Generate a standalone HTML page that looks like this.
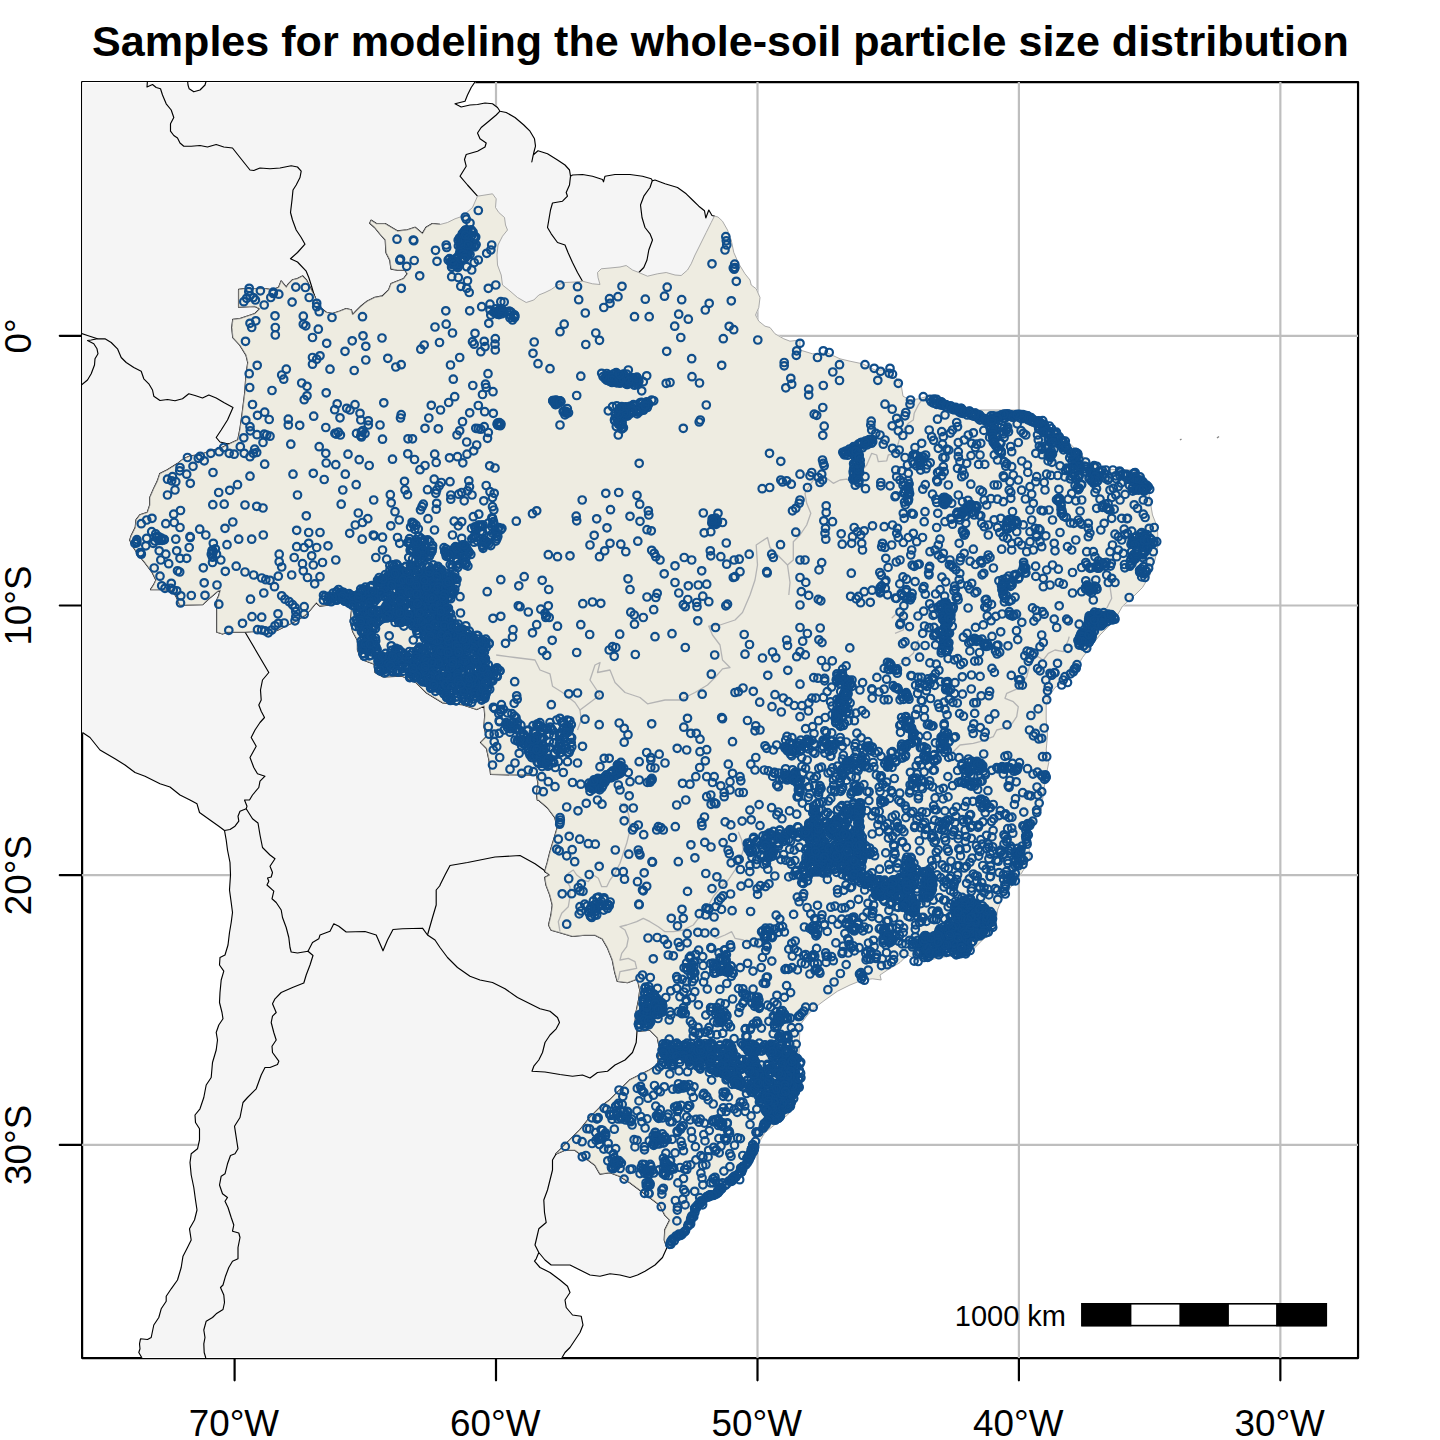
<!DOCTYPE html>
<html><head><meta charset="utf-8">
<style>
html,body{margin:0;padding:0;background:#fff;}
body{width:1440px;height:1440px;overflow:hidden;font-family:"Liberation Sans",sans-serif;}
svg{display:block;}
text{font-family:"Liberation Sans",sans-serif;fill:#000;}
</style></head><body>
<svg width="1440" height="1440" viewBox="0 0 1440 1440">
<rect width="1440" height="1440" fill="#fff"/>
<defs><clipPath id="fr"><rect x="82.1" y="82.1" width="1275.95" height="1275.95"/></clipPath></defs>
<!-- frame + ticks first (land is painted over its inner half) -->
<rect x="82.1" y="82.1" width="1275.95" height="1275.95" fill="none" stroke="#000" stroke-width="2.2" stroke-linejoin="round"/>
<g stroke="#000" stroke-width="2.2" fill="none" stroke-linecap="round"><path d="M234.6 1358.05V1380.3M496.0 1358.05V1380.3M757.5 1358.05V1380.3M1018.9 1358.05V1380.3M1280.35 1358.05V1380.3"/><path d="M82.1 335.8H59.8M82.1 605.5H59.8M82.1 875.2H59.8M82.1 1144.9H59.8"/></g>
<g clip-path="url(#fr)">
<g stroke="#bebebe" stroke-width="2.2" fill="none"><path d="M234.6 82.1V1358.05M496.0 82.1V1358.05M757.5 82.1V1358.05M1018.9 82.1V1358.05M1280.35 82.1V1358.05"/><path d="M82.1 335.8H1358.05M82.1 605.5H1358.05M82.1 875.2H1358.05M82.1 1144.9H1358.05"/></g>
</g>
<path d="M475.0,82.7 471.2,87.5 467.5,95.0 465.0,101.2 455.0,103.8 461.2,107.0 470.0,105.0 477.5,104.5 485.0,103.0 492.5,103.8 497.5,107.5 500.0,111.2 506.2,112.5 515.0,117.5 523.8,125.0 530.0,131.2 534.5,138.8 535.5,146.2 533.8,152.5 531.8,162.0 533.2,155.0 538.0,150.8 547.5,153.8 557.5,160.0 565.0,165.0 569.5,170.0 570.5,176.2 572.5,175.0 582.5,174.5 592.5,176.2 602.5,179.5 603.5,181.8 605.0,176.2 615.0,174.5 630.0,174.5 642.5,176.2 651.2,178.8 652.5,180.8 655.0,180.0 665.0,183.8 677.5,187.5 686.2,193.8 692.5,200.0 698.8,206.2 704.5,210.8 705.8,218.0 708.8,210.0 712.0,215.5 715.0,216.2 718.0,217.0 722.5,221.2 727.5,230.0 731.2,240.0 733.8,252.5 738.8,263.8 745.0,273.8 750.0,280.0 751.2,285.0 756.2,288.8 760.0,297.5 758.8,307.5 755.5,315.0 758.8,321.2 765.0,326.2 770.0,327.5 775.0,333.8 783.8,338.8 790.0,341.2 800.0,340.0 800.0,350.0 812.5,353.8 827.5,353.0 840.0,358.8 850.0,361.2 862.5,363.8 875.0,370.0 885.0,370.0 896.2,377.5 901.2,385.0 903.0,396.2 910.0,400.0 918.8,398.8 927.5,396.2 937.5,400.0 950.0,405.0 965.0,407.5 980.0,410.0 1000.0,410.0 1015.0,410.0 1025.0,412.5 1037.5,418.8 1050.0,427.5 1062.5,436.2 1072.5,446.2 1082.5,456.2 1092.5,463.8 1105.0,468.8 1120.0,470.0 1132.5,470.0 1142.5,475.0 1147.5,485.0 1150.0,500.0 1152.5,515.0 1157.5,527.5 1158.0,545.0 1155.0,560.0 1150.0,575.0 1142.5,587.5 1132.5,597.5 1122.5,606.2 1117.5,615.0 1110.0,625.0 1100.0,635.0 1090.0,647.5 1082.5,657.5 1075.0,670.0 1065.0,681.2 1055.0,687.5 1050.0,695.0 1046.2,705.0 1046.2,720.0 1047.5,735.0 1046.2,750.0 1048.8,762.5 1046.2,775.0 1043.8,790.0 1042.5,800.0 1041.2,810.0 1035.0,820.0 1030.0,830.0 1028.8,845.0 1030.0,857.5 1025.0,867.5 1018.8,877.5 1012.5,885.0 1002.5,897.5 997.5,910.0 996.2,922.5 992.5,932.5 982.5,940.0 972.5,950.0 962.5,957.5 950.0,956.2 940.0,957.5 930.0,960.0 917.5,960.0 907.5,955.0 900.0,962.5 887.5,970.0 880.0,975.0 881.2,980.0 872.5,978.8 862.5,980.0 850.0,985.0 837.5,991.2 825.0,1000.0 815.0,1007.5 807.5,1015.0 800.0,1025.0 797.5,1095.0 795.0,1105.0 787.5,1115.0 777.5,1122.5 765.0,1132.5 757.5,1145.0 752.5,1157.5 745.0,1170.0 735.0,1182.5 722.5,1192.5 710.0,1200.0 700.0,1205.0 697.5,1215.0 692.5,1227.5 682.5,1237.5 672.5,1246.2 667.0,1247.5 662.5,1257.5 655.0,1265.0 645.0,1271.2 637.5,1275.0 630.0,1277.5 620.0,1275.0 610.0,1273.8 600.0,1276.2 590.0,1275.0 580.0,1270.0 570.0,1265.0 560.0,1265.0 551.2,1265.0 545.0,1260.0 538.8,1252.5 536.2,1258.8 534.5,1261.2 540.0,1267.5 550.0,1272.5 560.0,1280.0 567.5,1286.2 570.0,1292.5 565.0,1300.0 566.2,1307.5 572.5,1315.0 581.2,1316.2 583.0,1325.0 580.0,1332.5 575.0,1340.0 570.0,1347.5 565.0,1352.5 561.8,1357.5 142.0,1357.5 138.8,1352.5 140.0,1348.8 139.5,1343.8 140.5,1338.8 147.5,1339.5 151.2,1337.5 153.8,1325.0 158.8,1317.5 161.2,1308.8 166.2,1301.2 166.2,1296.2 171.2,1288.8 177.5,1280.0 181.2,1267.5 183.0,1256.2 187.5,1247.5 191.2,1240.0 189.5,1228.8 194.5,1220.0 197.0,1210.0 195.5,1200.0 193.8,1187.5 191.2,1175.0 190.0,1162.5 191.2,1153.8 197.5,1148.8 199.5,1140.0 199.5,1128.8 195.5,1122.5 195.0,1115.0 200.0,1108.8 203.8,1097.5 206.2,1085.0 211.2,1077.5 212.5,1062.5 216.2,1050.0 217.5,1040.0 217.5,1040.0 216.2,1032.5 218.8,1025.0 223.0,1018.8 222.0,1012.5 219.5,1002.5 220.0,992.5 221.2,980.0 223.8,971.2 219.5,965.0 220.0,957.5 225.0,955.0 228.0,945.0 229.5,932.5 231.2,922.5 232.5,912.5 231.2,902.5 229.5,890.0 230.5,875.0 230.0,862.5 227.5,850.0 226.2,840.0 224.5,830.5 218.8,826.2 210.0,820.0 199.5,812.5 197.0,803.8 190.0,800.0 180.0,795.0 170.0,787.0 160.0,783.8 145.0,776.2 135.0,772.5 125.0,765.0 115.0,758.8 100.0,750.0 90.0,737.5 82.7,732.5 82.7,82.7Z" fill="#f5f5f5" stroke="#fff" stroke-width="1.2" stroke-linejoin="round"/>
<path d="M187.5,82.7 188.0,85.0 189.2,88.8 193.8,91.8 200.0,90.0 205.0,85.0 206.5,82.7Z" fill="#fff" stroke="none"/>

<g clip-path="url(#fr)">
<g fill="none" stroke="#000" stroke-width="1.15" stroke-linejoin="round">
<path d="M475.0,82.0 471.2,87.5 467.5,95.0 465.0,101.2 455.0,103.8 461.2,107.0 470.0,105.0 477.5,104.5 485.0,103.0 492.5,103.8 497.5,107.5 500.0,111.2 506.2,112.5 515.0,117.5 523.8,125.0 530.0,131.2 534.5,138.8 535.5,146.2 533.8,152.5 531.8,162.0 533.2,155.0 538.0,150.8 547.5,153.8 557.5,160.0 565.0,165.0 569.5,170.0 570.5,176.2 572.5,175.0 582.5,174.5 592.5,176.2 602.5,179.5 603.5,181.8 605.0,176.2 615.0,174.5 630.0,174.5 642.5,176.2 651.2,178.8 652.5,180.8 655.0,180.0 665.0,183.8 677.5,187.5 686.2,193.8 692.5,200.0 698.8,206.2 704.5,210.8 705.8,218.0 708.8,210.0 712.0,215.5 715.0,216.2"/>
<path d="M667.0,1247.5 662.5,1257.5 655.0,1265.0 645.0,1271.2 637.5,1275.0 630.0,1277.5 620.0,1275.0 610.0,1273.8 600.0,1276.2 590.0,1275.0 580.0,1270.0 570.0,1265.0 560.0,1265.0 551.2,1265.0 545.0,1260.0 538.8,1252.5 536.2,1258.8 534.5,1261.2 540.0,1267.5 550.0,1272.5 560.0,1280.0 567.5,1286.2 570.0,1292.5 565.0,1300.0 566.2,1307.5 572.5,1315.0 581.2,1316.2 583.0,1325.0 580.0,1332.5 575.0,1340.0 570.0,1347.5 565.0,1352.5 561.8,1358.0"/>
<path d="M142.0,1358.0 138.8,1352.5 140.0,1348.8 139.5,1343.8 140.5,1338.8 147.5,1339.5 151.2,1337.5 153.8,1325.0 158.8,1317.5 161.2,1308.8 166.2,1301.2 166.2,1296.2 171.2,1288.8 177.5,1280.0 181.2,1267.5 183.0,1256.2 187.5,1247.5 191.2,1240.0 189.5,1228.8 194.5,1220.0 197.0,1210.0 195.5,1200.0 193.8,1187.5 191.2,1175.0 190.0,1162.5 191.2,1153.8 197.5,1148.8 199.5,1140.0 199.5,1128.8 195.5,1122.5 195.0,1115.0 200.0,1108.8 203.8,1097.5 206.2,1085.0 211.2,1077.5 212.5,1062.5 216.2,1050.0 217.5,1040.0 217.5,1040.0 216.2,1032.5 218.8,1025.0 223.0,1018.8 222.0,1012.5 219.5,1002.5 220.0,992.5 221.2,980.0 223.8,971.2 219.5,965.0 220.0,957.5 225.0,955.0 228.0,945.0 229.5,932.5 231.2,922.5 232.5,912.5 231.2,902.5 229.5,890.0 230.5,875.0 230.0,862.5 227.5,850.0 226.2,840.0 224.5,830.5 218.8,826.2 210.0,820.0 199.5,812.5 197.0,803.8 190.0,800.0 180.0,795.0 170.0,787.0 160.0,783.8 145.0,776.2 135.0,772.5 125.0,765.0 115.0,758.8 100.0,750.0 90.0,737.5 82.5,732.5"/>
<path d="M187.5,80.0 188.0,85.0 189.2,88.8 193.8,91.8 200.0,90.0 205.0,85.0 206.5,80.0"/>
<path d="M238.0,440.0 240.0,430.0 242.5,412.5 245.0,392.5 246.2,375.0 248.0,362.5 246.2,355.0 240.0,345.0 233.0,337.5 232.0,327.5 233.0,319.5 240.0,318.8 247.5,316.2 255.0,313.8 260.0,308.8 255.0,306.2 238.8,307.0 238.8,289.5 245.0,288.8 255.0,288.8 265.0,288.8 272.5,290.0 278.8,287.5 281.2,281.2 286.2,287.5 288.8,283.8 292.5,280.0 297.5,278.8 302.5,276.2 306.2,280.0 310.0,287.5 313.8,295.0 315.0,297.5 317.5,303.8 321.2,308.8 326.2,312.5 332.5,313.8 340.0,311.2 346.2,308.8 351.2,310.0 352.5,315.0 356.2,311.2 361.2,306.2 367.5,301.2 375.0,297.5 382.5,296.2 388.8,290.0 391.2,283.8 397.5,281.2 403.8,278.8 407.5,273.8 405.0,270.0 397.5,270.0 391.2,268.8 390.0,260.0 386.2,252.5 385.5,240.0 380.0,233.8 375.0,227.5 370.0,223.0 371.2,220.5 376.2,223.8 385.0,223.8 391.2,227.5 397.5,231.2 407.5,230.0 415.0,227.5 422.5,233.8 426.2,227.5 432.5,223.8 440.0,224.5" stroke-width="1.7"/>
<path d="M667.0,1247.5 664.5,1240.0 665.0,1230.0 670.0,1220.0 665.0,1215.0 660.0,1205.0 650.0,1197.5 640.0,1190.0 630.0,1182.5 620.0,1176.2 610.0,1172.5 600.0,1173.8 595.0,1165.0 585.0,1157.5 575.0,1150.0 565.0,1150.0 556.2,1153.8 560.0,1150.0 570.0,1140.0 580.0,1130.0 590.0,1117.5 600.0,1107.5 610.0,1100.0 620.0,1090.0 630.0,1080.0 640.0,1075.0 650.0,1070.0 657.5,1065.0 658.0,1062.5 660.0,1050.0 657.5,1037.5 650.0,1030.0 637.5,1031.2 635.0,1025.0 636.2,1012.5 638.8,1000.0 640.0,990.0 637.5,978.8 627.5,982.5 617.5,981.2 615.0,972.5 612.5,960.0 607.5,947.5 602.5,938.8 595.0,935.0 585.0,935.0 572.5,936.2 560.0,932.5 551.2,930.0 548.8,925.0 551.2,915.0 552.5,905.0 550.0,895.0 546.2,885.0 545.0,877.5 550.0,875.0 545.0,871.2 547.5,862.5 550.0,852.5 553.8,840.0 557.5,827.5 555.0,817.5 547.5,807.5 538.8,800.0 537.5,800.0 536.7,793.3 538.3,783.3 536.7,775.0 490.8,774.2 489.2,760.0 486.7,748.3 480.8,742.5 486.7,736.7 484.2,726.7 485.0,715.0 484.2,705.8 476.7,709.3 461.7,704.3 443.0,702.7 426.3,692.5 416.3,682.5 401.7,675.8 383.3,676.7 375.3,672.3 374.3,664.0 368.3,661.7 361.3,659.0 357.7,650.0 357.7,640.3 353.0,631.7 350.5,621.7 352.0,608.0 341.7,602.0 330.0,604.7 320.0,605.8 316.2,602.5 310.0,610.0 305.0,615.0 297.5,620.0 287.5,625.0 277.5,630.0 267.5,633.8 255.0,631.2 245.0,632.0 227.5,632.0 222.5,633.8 217.0,632.0 217.0,600.0 218.8,596.2 220.5,590.0 217.5,591.2 210.0,597.5 202.5,604.5 180.0,605.0 178.8,602.5 176.2,596.2 172.5,590.0 162.5,589.5 150.8,589.5 153.8,585.0 156.2,580.0 152.5,572.5 145.0,562.5 138.8,555.0 133.8,547.5 130.0,540.0 131.2,536.2 135.5,527.5 136.2,520.0 140.0,515.0 147.5,512.5 150.0,505.0 150.0,497.5 153.8,488.8 157.5,481.2 160.0,473.8 167.5,470.0 177.5,463.8 183.8,458.8 190.0,456.2 200.0,455.0 210.0,451.2 220.0,448.8 230.0,443.8 238.0,440.0" stroke-width="1.7"/>
<path d="M147.5,80.0 147.0,87.0 152.5,84.5 156.2,87.5 160.5,88.8 162.5,95.0 166.2,103.8 171.2,110.0 173.8,117.5 170.5,123.8 170.5,131.2 173.8,135.5 177.5,138.0 180.0,143.0 183.8,146.2 191.2,146.2 200.0,145.5 207.5,147.0 216.2,144.5 223.8,147.0 232.5,148.0 240.0,157.5 250.0,170.0 253.8,170.5 260.0,168.0 270.0,168.8 280.0,168.0 291.2,165.8 297.5,167.0 301.2,171.2 300.0,177.5 296.2,185.0 293.0,190.0 292.0,200.0 290.5,212.5 292.5,220.0 296.2,230.0 301.2,237.5 305.0,244.2 297.5,252.5 290.5,258.8 297.5,262.0 306.2,271.2 308.8,277.5 311.2,285.0 313.8,293.8 315.0,297.5"/>
<path d="M80.0,333.0 87.5,335.5 97.5,338.8 105.0,338.8 111.2,342.5 117.5,348.8 121.2,357.5 126.2,362.5 133.8,367.5 141.2,371.2 143.8,378.8 148.8,383.8 152.5,390.0 153.8,396.2 160.0,400.5 167.5,399.5 175.0,400.8 182.5,398.8 188.8,393.8 195.0,395.5 202.5,398.0 208.8,395.0 216.2,398.0 223.8,402.5 233.0,407.5 227.5,420.0 221.2,430.0 216.2,437.5 220.0,442.0 227.5,443.8 230.0,443.8"/>
<path d="M97.5,338.8 91.2,340.0 87.5,340.5 93.8,343.8 97.0,348.8 98.0,353.8 95.0,358.8 94.5,365.0 91.2,373.8 87.5,380.0 80.0,386.2"/>
<path d="M500.0,111.2 496.2,115.0 488.8,121.2 481.2,127.5 477.5,133.0 480.0,138.8 486.2,143.0 485.0,147.0 477.5,151.2 466.2,154.5 464.5,159.5 466.2,166.2 460.0,176.2 467.5,185.0 477.5,196.2"/>
<path d="M570.5,176.2 569.5,185.0 566.2,192.5 567.5,196.2 562.5,201.2 552.5,203.0 550.5,210.0 548.8,220.0 547.5,227.5 551.2,233.8 557.5,242.5 565.0,245.0 568.0,252.5 572.5,262.5 577.5,272.5 582.5,281.2"/>
<path d="M652.5,180.0 650.0,187.5 643.8,196.2 640.5,205.0 642.0,217.5 645.0,227.5 650.0,233.8 652.5,240.0 648.8,250.0 647.0,260.0 643.8,267.5 638.8,272.5"/>
<path d="M245.0,632.0 268.8,672.5 262.5,680.0 260.5,690.0 261.2,700.0 258.8,705.0 261.2,711.2 264.5,717.5 260.0,722.5 255.0,730.0 251.2,737.5 256.2,746.2 250.0,757.5 253.8,767.5 257.5,773.8 265.0,776.2 260.0,781.2 258.8,787.5 252.5,795.0 249.5,800.0 244.5,800.0 247.0,806.2 246.2,808.8"/>
<path d="M246.2,808.8 240.0,811.2 238.0,816.2 238.8,821.2 235.0,826.2 230.0,829.5 224.5,830.5"/>
<path d="M246.2,808.8 252.5,818.8 258.0,823.0 260.0,835.0 262.5,847.5 270.0,855.0 275.0,858.8 270.0,866.2 272.5,872.5 271.2,877.0 267.5,878.0 268.8,881.2 267.0,885.0 273.8,891.2 272.0,898.8 276.2,902.5 281.2,910.0 282.5,917.5 286.2,927.5 288.8,937.5 290.0,947.5 291.2,952.0 297.5,953.0 308.0,951.2 313.0,955.5 310.0,965.0 306.2,975.0 303.8,983.0 292.5,987.5 281.2,992.5 275.0,998.8 272.5,1003.8 276.2,1012.5 272.5,1016.2 271.2,1022.5 273.8,1032.5 276.2,1040.0 272.0,1046.2 272.5,1052.5 278.8,1061.2 277.5,1064.5 270.0,1067.5 265.0,1067.5 261.2,1075.0 256.2,1088.8 247.5,1097.5 243.0,1102.5 240.0,1117.5 234.5,1126.2 237.0,1142.5 238.0,1148.8 235.0,1153.8 230.5,1155.5 227.5,1163.8 225.0,1173.8 221.2,1176.2 219.5,1185.0 222.5,1193.8 227.5,1197.5 225.0,1201.2 228.0,1207.5 231.2,1217.5 233.8,1225.0 232.5,1231.2 238.8,1233.0 240.0,1237.5 238.0,1247.5 238.0,1258.8 232.5,1261.2 228.8,1267.5 225.5,1276.2 223.0,1285.0 220.5,1287.5 223.8,1295.0 224.5,1302.5 223.0,1309.5 216.2,1313.8 212.5,1317.5 206.2,1321.2 203.8,1330.0 205.0,1337.5 203.8,1343.8 204.2,1352.5 205.8,1358.0"/>
<path d="M308.0,951.2 312.5,942.5 318.8,938.8 320.0,935.0 330.0,931.2 333.8,923.8 338.8,926.2 346.2,932.0 365.0,931.5 376.2,935.0 380.0,943.8 383.0,950.8 387.5,940.0 393.0,929.5 402.5,928.8 422.5,928.2 427.5,935.0 435.0,940.0 440.0,947.5 440.0,947.5 447.5,957.5 457.5,967.5 470.0,976.2 480.0,980.0 492.5,982.5 505.0,988.8 517.5,997.5 530.0,1003.8 540.0,1008.8 550.0,1011.2 557.5,1017.5 559.5,1022.5 556.2,1028.8 550.0,1035.0 545.0,1042.5 542.5,1052.5 538.8,1060.0 533.8,1066.2 532.0,1071.2 545.0,1072.0 560.0,1074.5 572.5,1076.2 582.5,1075.0 590.0,1078.0 597.5,1072.5 607.5,1071.2 615.0,1065.0 625.0,1060.0 632.5,1052.5 636.2,1042.5 637.0,1031.2"/>
<path d="M427.5,935.0 432.5,917.5 436.2,905.0 436.2,890.0 440.0,885.5 440.0,885.0 445.0,875.0 450.0,865.5 467.5,862.5 495.0,857.0 520.0,855.5 535.0,863.8 543.8,870.0 545.5,872.5"/>
<path d="M556.2,1153.8 552.5,1160.0 552.5,1170.0 550.0,1180.0 547.5,1190.0 543.8,1200.0 544.5,1212.5 546.2,1222.5 538.8,1228.8 536.2,1240.0 535.0,1245.0 538.8,1252.5"/>
</g>
<path d="M1180,440l1.5,-1M1217,438l2,-1.5" stroke="#888" stroke-width="1.5"/>

<path d="M238.0,440.0 240.0,430.0 242.5,412.5 245.0,392.5 246.2,375.0 248.0,362.5 246.2,355.0 240.0,345.0 233.0,337.5 232.0,327.5 233.0,319.5 240.0,318.8 247.5,316.2 255.0,313.8 260.0,308.8 255.0,306.2 238.8,307.0 238.8,289.5 245.0,288.8 255.0,288.8 265.0,288.8 272.5,290.0 278.8,287.5 281.2,281.2 286.2,287.5 288.8,283.8 292.5,280.0 297.5,278.8 302.5,276.2 306.2,280.0 310.0,287.5 313.8,295.0 315.0,297.5 317.5,303.8 321.2,308.8 326.2,312.5 332.5,313.8 340.0,311.2 346.2,308.8 351.2,310.0 352.5,315.0 356.2,311.2 361.2,306.2 367.5,301.2 375.0,297.5 382.5,296.2 388.8,290.0 391.2,283.8 397.5,281.2 403.8,278.8 407.5,273.8 405.0,270.0 397.5,270.0 391.2,268.8 390.0,260.0 386.2,252.5 385.5,240.0 380.0,233.8 375.0,227.5 370.0,223.0 371.2,220.5 376.2,223.8 385.0,223.8 391.2,227.5 397.5,231.2 407.5,230.0 415.0,227.5 422.5,233.8 426.2,227.5 432.5,223.8 440.0,224.5 447.5,222.5 455.0,218.8 462.5,216.2 472.5,207.5 477.5,196.2 485.0,195.0 492.5,193.8 496.2,198.8 495.5,207.5 498.8,212.5 504.5,217.5 505.5,225.0 507.5,230.0 502.5,236.2 498.0,245.0 497.0,255.0 497.5,265.0 501.2,275.0 502.5,285.0 508.8,290.0 517.5,297.5 526.2,302.5 533.8,300.0 538.8,295.0 545.0,292.5 551.2,289.5 557.5,285.0 565.0,282.5 575.0,282.0 582.5,281.2 592.5,283.8 600.0,284.5 598.0,277.5 597.5,272.5 601.2,268.8 610.0,268.0 620.0,267.0 626.2,265.5 632.5,270.0 638.8,272.5 647.5,276.2 657.5,273.8 666.2,272.5 675.0,275.0 681.2,275.5 687.5,270.0 691.2,263.8 695.0,255.0 700.0,245.0 706.2,232.5 711.2,222.5 714.2,216.5 715.0,216.2 718.0,217.0 722.5,221.2 727.5,230.0 731.2,240.0 733.8,252.5 738.8,263.8 745.0,273.8 750.0,280.0 751.2,285.0 756.2,288.8 760.0,297.5 758.8,307.5 755.5,315.0 758.8,321.2 765.0,326.2 770.0,327.5 775.0,333.8 783.8,338.8 790.0,341.2 800.0,340.0 800.0,350.0 812.5,353.8 827.5,353.0 840.0,358.8 850.0,361.2 862.5,363.8 875.0,370.0 885.0,370.0 896.2,377.5 901.2,385.0 903.0,396.2 910.0,400.0 918.8,398.8 927.5,396.2 937.5,400.0 950.0,405.0 965.0,407.5 980.0,410.0 1000.0,410.0 1015.0,410.0 1025.0,412.5 1037.5,418.8 1050.0,427.5 1062.5,436.2 1072.5,446.2 1082.5,456.2 1092.5,463.8 1105.0,468.8 1120.0,470.0 1132.5,470.0 1142.5,475.0 1147.5,485.0 1150.0,500.0 1152.5,515.0 1157.5,527.5 1158.0,545.0 1155.0,560.0 1150.0,575.0 1142.5,587.5 1132.5,597.5 1122.5,606.2 1117.5,615.0 1110.0,625.0 1100.0,635.0 1090.0,647.5 1082.5,657.5 1075.0,670.0 1065.0,681.2 1055.0,687.5 1050.0,695.0 1046.2,705.0 1046.2,720.0 1047.5,735.0 1046.2,750.0 1048.8,762.5 1046.2,775.0 1043.8,790.0 1042.5,800.0 1041.2,810.0 1035.0,820.0 1030.0,830.0 1028.8,845.0 1030.0,857.5 1025.0,867.5 1018.8,877.5 1012.5,885.0 1002.5,897.5 997.5,910.0 996.2,922.5 992.5,932.5 982.5,940.0 972.5,950.0 962.5,957.5 950.0,956.2 940.0,957.5 930.0,960.0 917.5,960.0 907.5,955.0 900.0,962.5 887.5,970.0 880.0,975.0 881.2,980.0 872.5,978.8 862.5,980.0 850.0,985.0 837.5,991.2 825.0,1000.0 815.0,1007.5 807.5,1015.0 800.0,1025.0 797.5,1095.0 795.0,1105.0 787.5,1115.0 777.5,1122.5 765.0,1132.5 757.5,1145.0 752.5,1157.5 745.0,1170.0 735.0,1182.5 722.5,1192.5 710.0,1200.0 700.0,1205.0 697.5,1215.0 692.5,1227.5 682.5,1237.5 672.5,1246.2 667.0,1247.5 664.5,1240.0 665.0,1230.0 670.0,1220.0 665.0,1215.0 660.0,1205.0 650.0,1197.5 640.0,1190.0 630.0,1182.5 620.0,1176.2 610.0,1172.5 600.0,1173.8 595.0,1165.0 585.0,1157.5 575.0,1150.0 565.0,1150.0 556.2,1153.8 560.0,1150.0 570.0,1140.0 580.0,1130.0 590.0,1117.5 600.0,1107.5 610.0,1100.0 620.0,1090.0 630.0,1080.0 640.0,1075.0 650.0,1070.0 657.5,1065.0 658.0,1062.5 660.0,1050.0 657.5,1037.5 650.0,1030.0 637.5,1031.2 635.0,1025.0 636.2,1012.5 638.8,1000.0 640.0,990.0 637.5,978.8 627.5,982.5 617.5,981.2 615.0,972.5 612.5,960.0 607.5,947.5 602.5,938.8 595.0,935.0 585.0,935.0 572.5,936.2 560.0,932.5 551.2,930.0 548.8,925.0 551.2,915.0 552.5,905.0 550.0,895.0 546.2,885.0 545.0,877.5 550.0,875.0 545.0,871.2 547.5,862.5 550.0,852.5 553.8,840.0 557.5,827.5 555.0,817.5 547.5,807.5 538.8,800.0 537.5,800.0 536.7,793.3 538.3,783.3 536.7,775.0 490.8,774.2 489.2,760.0 486.7,748.3 480.8,742.5 486.7,736.7 484.2,726.7 485.0,715.0 484.2,705.8 476.7,709.3 461.7,704.3 443.0,702.7 426.3,692.5 416.3,682.5 401.7,675.8 383.3,676.7 375.3,672.3 374.3,664.0 368.3,661.7 361.3,659.0 357.7,650.0 357.7,640.3 353.0,631.7 350.5,621.7 352.0,608.0 341.7,602.0 330.0,604.7 320.0,605.8 316.2,602.5 310.0,610.0 305.0,615.0 297.5,620.0 287.5,625.0 277.5,630.0 267.5,633.8 255.0,631.2 245.0,632.0 227.5,632.0 222.5,633.8 217.0,632.0 217.0,600.0 218.8,596.2 220.5,590.0 217.5,591.2 210.0,597.5 202.5,604.5 180.0,605.0 178.8,602.5 176.2,596.2 172.5,590.0 162.5,589.5 150.8,589.5 153.8,585.0 156.2,580.0 152.5,572.5 145.0,562.5 138.8,555.0 133.8,547.5 130.0,540.0 131.2,536.2 135.5,527.5 136.2,520.0 140.0,515.0 147.5,512.5 150.0,505.0 150.0,497.5 153.8,488.8 157.5,481.2 160.0,473.8 167.5,470.0 177.5,463.8 183.8,458.8 190.0,456.2 200.0,455.0 210.0,451.2 220.0,448.8 230.0,443.8Z" fill="#eeece1" stroke="#9c9c9c" stroke-width="0.85" stroke-linejoin="round"/>

<g fill="none" stroke="#b4b4b4" stroke-width="1.3" stroke-linejoin="round">
<path d="M496.2,655.0 515.0,657.5 535.0,660.0 540.0,670.0 550.0,673.8 552.5,686.2 562.5,692.5 575.0,702.5 580.0,710.0 590.0,702.5 600.0,695.0 590.0,680.0 595.0,665.0 600.0,662.5 597.5,672.5 610.0,670.0 615.0,682.5 625.0,692.5 640.0,697.5 647.5,703.8 665.0,700.0 680.0,700.0 695.0,692.5 707.5,685.0 715.0,677.5 722.5,668.8 730.0,667.5 722.5,660.0 720.0,645.0 712.5,635.0 708.8,626.2 720.0,625.0 735.0,620.0 742.5,612.5 750.0,595.0 755.0,580.0 757.5,565.0 756.2,545.0 767.5,537.5 770.0,547.5 777.5,555.0 787.5,565.0 793.3,560.0 793.3,541.7 800.0,535.0 806.7,525.0 810.8,513.3 806.7,503.3 805.0,493.3 810.0,485.0 813.3,480.0 820.0,478.3 826.7,478.3 833.3,483.3 840.0,480.0 846.7,479.2 851.7,481.7 858.3,475.0 866.7,465.0 871.7,453.3 876.7,455.0 878.3,461.7 886.7,460.8 888.3,455.0 895.0,453.3 898.3,443.3 900.0,436.7 903.3,430.0 908.3,423.3 913.3,420.0 914.2,413.3 918.3,405.0 921.7,400.0 926.7,398.3"/>
<path d="M787.5,565.0 790.0,582.5 788.8,595.0"/>
<path d="M580.0,710.0 581.2,720.0 577.5,730.0"/>
<path d="M620.0,803.3 626.7,808.3 629.2,816.7 630.0,830.0 626.7,843.3 623.3,853.3 620.0,863.3 615.0,873.3 610.0,880.0 606.7,886.7 601.7,886.7 598.3,878.3 593.3,875.0 588.3,881.7 583.3,880.0 576.7,875.0 573.3,870.0 568.3,873.3 565.0,878.3 570.0,886.7 570.0,896.7 568.3,906.7 561.7,913.3 558.3,921.7 560.0,931.7"/>
<path d="M618.3,980.0 620.0,971.7 628.3,970.0 636.7,968.3 635.0,961.7 628.3,958.3 620.0,960.0 621.7,953.3 626.7,946.7 628.3,938.3 625.0,930.0 620.0,926.7 626.7,925.0 636.7,921.7 643.3,918.3 650.0,921.7 658.3,926.7 665.0,931.7 673.3,931.7 683.3,930.0 693.3,925.0 698.3,918.3 706.7,908.3 713.3,896.7 720.0,888.3 728.3,880.0 735.0,870.0 740.0,860.0 743.3,850.0 741.7,840.0 738.3,831.7"/>
<path d="M710.0,935.0 716.7,938.3 725.0,935.0 731.7,931.7 735.0,938.3 743.3,940.0 753.3,946.7 760.0,948.3"/>
<path d="M1069.2,636.7 1068.3,640.0 1063.3,651.7 1055.0,650.0 1048.3,653.3 1043.3,660.0 1038.3,656.7 1031.7,658.3 1026.7,676.7 1018.3,688.3 1006.7,693.3 1005.0,698.3 1013.3,701.7 1018.3,706.7 1016.7,716.7 1010.0,726.7 996.7,730.0 993.3,736.7 980.0,741.7 973.3,743.3 960.0,745.0 953.3,751.7"/>
<path d="M1110.0,586.7 1111.7,598.3 1106.7,608.3"/>
<path d="M891.7,618.3 896.7,613.3 905.0,618.3 903.3,630.0 895.0,633.3"/>
<path d="M918.3,640.0 913.3,653.3 901.7,663.3 893.3,666.7"/>
</g>

<defs><marker id="m" markerWidth="12" markerHeight="12" refX="6" refY="6" markerUnits="userSpaceOnUse"><circle cx="6" cy="6" r="3.75" fill="none" stroke="#104e8b" stroke-width="2.2"/></marker></defs>
<path d="M250,323.3 251.7,327.5 255.8,320.8 245.5,341.3 275.3,327.5 275.3,335 303.3,324.2 305.8,325.8 312.5,337.5 318.3,329.2 257.2,365.3 286.3,369.2 281.7,375 283.7,379.2 249.2,373.7 312.5,357.5 316.7,359.2 312.5,364.2 320,355.8 249.7,387.5 272,390.5 301.7,383 307,386.3 307,395.8 304.2,399.7 252.5,404.5 257.5,415.3 264.7,412.2 269.2,419.5 288.3,419.2 288.3,425 299.7,425.3 313.7,416.2 245.8,420.3 250,426.7 250.3,430.8 257,434.7 264.2,434.2 266.7,435 270,436.2 243.8,437.8 263,442.5 290.8,444.2 319.2,446.7 240.3,446.7 254.7,449.2 256.7,452.5 253.3,453.3 250,456.7 244.2,453.3 234.2,454.2 229.2,453.3 223.7,447.5 219.2,451.7 210.8,453.3 204.2,460.8 200.3,456.3 198.3,458.3 187.5,457.5 264.7,464.2 193,466.3 180,467.5 179.7,470.8 186.7,474.2 172.5,476.7 167.5,479.2 175.8,481.7 171.7,480.8 190.3,483.3 213,472.5 250,476.2 293,474.2 313.3,473.3 237.5,484.7 175,490 167.5,495 218.7,492.5 229.7,490.3 297.5,495 212.8,504.7 224.2,504.2 245,505 256.7,506.3 263,508 180.5,510.5 173.7,514.2 152,518.3 146.7,520 141.3,523.7 165.8,523.7 174.2,522.5 180,527.5 199.7,529.2 205.8,535 225,528.3 232.8,522 263.3,535 296.7,530.3 308.7,532.5 306.3,515.8 320,532.5 158.9,540.5 159,536.9 156.3,537.5 164.2,539.9 164.1,539.3 161.7,539.1 154.9,541 162.1,540.4 155.7,533.9 156.5,536.5 161.4,538.1 136.9,539.6 136.5,541.6 134.9,543.4 136.8,542.9 212,550.8 212.9,552.9 216.5,554.2 212.6,550.1 212.5,557.2 211.3,554.2 215.4,548.9 151.7,531.7 146.7,538.3 175.8,539.2 190,536.7 190.3,537.5 238.7,539.2 251.7,539.2 227,544.7 213.3,543.3 189.2,547.5 176.7,550.8 159.2,550.8 165.8,554.2 140.8,553.3 141.3,554.2 140.3,552.5 145.8,545.8 153.3,543.3 296.7,546.7 304.2,547.5 308.7,543.3 316.7,547.5 279.2,554.2 294.2,557.5 311.7,555.8 186.7,558.3 180,558.3 160.8,560 168.7,563.7 154.2,568 177.5,570.8 179.7,572 160,576.2 171.3,583.3 161.7,585.8 165,588.3 170.8,588.3 173.3,590 176.7,590.8 180.8,595.8 180.5,603 191.3,595.5 203.3,567.8 204.2,582.8 205,595.3 212.5,562.5 220.8,560 225.3,571.3 217,585 218.8,604.2 236.2,566.2 245,572 253.7,575 261.7,578 265.8,579.7 270,580.3 278.3,576.2 281.7,567 279.2,561.7 291.7,575 302.5,563.7 303.3,570.8 307.5,577.5 313.3,565 314.7,583.8 320,576.7 274.5,586.7 263.8,593 250.5,599.2 281.7,595.8 285,599.2 289.2,601.7 292.5,604.7 295,607.5 295.8,611.7 295.8,616.7 295,620.8 304.2,606.7 304.2,614.2 278,613.8 252,616.7 261.7,617.2 242.5,623.3 228.8,630.3 257.5,629.7 261.7,630 265,630.8 268.3,632.8 271.7,630 275,625.8 278.3,623.3 284.2,623 1063,447.5 1092.1,474.8 1120.3,472.2 1149.7,489.3 1079.3,465.1 1054.7,437.9 1042.5,428.4 1125.2,475.2 1140.1,476.9 1115.8,475.8 1100.4,472.1 1132.7,481 1085.9,469 1044.3,430.8 1107.9,480.1 1133.7,473.4 1076.5,461.5 1042.5,425.2 1059.2,436.6 1043.6,431.1 1054.4,433.8 1075.6,463.7 1048.2,430.7 1095.2,475.7 1130.6,478.9 1067.5,449.5 1072.1,461.1 1148.2,486.6 1059.1,438.2 1062.6,445.7 1102.2,470.3 1041,423.1 1075.4,459.3 1142.5,488.1 1091.5,471.7 1112.9,470 1139,481.6 1137.6,481.6 1079,459.8 1048.9,434.4 1049.4,426 1062.8,440.8 1076.3,452.7 1042.7,420.6 1050.8,432.1 1039.5,428.7 1105.8,470 1065.5,446.5 1077.9,455 1133.5,482 1086.3,466.8 1051.4,428.5 1074.9,454.6 1135.2,472.6 1038.7,429.1 1094.4,467.1 1096.7,466.3 1092.2,476 1136.8,480 1066.2,447.5 1054,441.6 1093.3,474 1074,453 1129,479.6 1134.9,480.4 1131.1,477.6 1061.7,445.3 1077.6,453.5 1044.4,424.3 1063.5,449.8 1145.1,487.6 1138.6,487.2 1145.9,487.1 1063.4,442.5 1061.3,440 1105.1,478.3 1135,476.4 1109.2,478.2 1046.9,432.8 1139.4,482.9 1123.2,474.2 1055,442.8 1069.7,457.7 1146.4,489.3 1076.2,465.3 1119.6,471 1055,432.9 1139,482.4 1051.6,440 1144.1,491.4 1073.5,457.5 1056.4,432.2 1143.7,490.2 1092.1,475.4 1080.2,467.4 1134.6,472.9 1065.9,446 1062.5,447.2 1065.6,447.7 1049.5,439.2 1074.5,457 1099.7,477 1078.5,466.6 1089.7,470.2 1094.1,465.6 1085.6,462 1038.1,426 1056.8,439.7 1119.8,475.2 1071.3,454.9 1096.3,474.8 1049.8,434 1065.7,445.6 1126.2,474.4 1097.2,474.7 1143.1,481.9 1104.6,473.7 1090.8,472.4 1084.5,466 1084.4,471.7 1116.4,478.9 1146.4,485 1039.4,446 1048.3,446.5 1050.5,455.2 1050.2,452.4 1052.5,454.1 1048.3,439.5 1050.5,457.9 1045,446.4 1052.5,442.5 1048.1,460.9 1042.2,454.7 1054,449.3 1049.4,456.3 1042,449.4 1048.2,456 1046.5,448.4 1041.7,447.5 1051.2,450.7 1067.6,469.3 1079,476.5 1073.5,465.7 1074.9,475.9 1078.5,475.1 1071.3,476.2 1064.9,476.9 1073.4,469.6 1076.2,479.5 1065.6,470.5 1073.3,474.4 1069.7,468.5 1078.6,476.7 1066.9,468 1078.1,477.1 1078.5,476.4 1091.5,481.1 1089.2,478 1094.7,482.3 1092,479.5 1097,481.6 1097.7,480.9 1093.7,483.2 1095.2,476.6 1092.3,480 1094.5,480.7 1095,480.8 1136,479.1 1138.7,490.1 1139.1,484 1138.9,480.2 1129.4,485.2 1132.2,488.5 1133.6,477.7 1132.7,491.1 1135,478.9 1132.8,487.7 1139.4,486 1142.9,488 1136.6,488.2 1143,488.7 1141.2,480.2 1135.9,488.9 1135.2,490.2 1139.6,489.5" fill="none" stroke="none" marker-start="url(#m)" marker-mid="url(#m)" marker-end="url(#m)"/>
<path d="M1078,489.6 1081.7,484.4 1078.5,489.6 1077.3,487.6 1081.2,485 1075.1,485.5 1079.3,488.2 1060,465.8 1044.2,482.5 1045,490 1043.3,510.8 1052.5,520 1060,532.5 1045.8,535.8 1054.2,543.3 1055,550.8 1041.7,546.7 1040,530 1058.5,498.1 1058.6,500 1059.7,498.4 1060.9,504 1061.8,510.1 1062.5,513.6 1061.3,513.2 1061.1,505.9 1066.3,517.5 1062.4,513 1056.5,499.7 1063.7,516.4 1061.7,513.5 1058.4,501.2 1071.7,493.3 1068.3,499.2 1075.8,500.8 1081.7,500 1078.3,520 1080,522.5 1088.3,523.3 1088.3,528.3 1088.3,536.7 1075.8,540 1067.5,546.7 1071.7,550 1086.7,551.7 1093.3,551.7 1095,556.7 1095,492.5 1100,499.2 1096.7,508.3 1111.7,497.5 1115.8,495 1120,500 1118.3,486.7 1113.3,488.3 1110,490 1102.4,507.4 1108.1,503.5 1102.9,505.3 1105.1,504 1106.8,508.3 1108.5,509.6 1110,510.1 1114.2,509.2 1111.7,518.3 1104.2,523.3 1100.8,530 1121.7,518.3 1127.5,518.3 1137.5,508.3 1143.3,514.2 1143.3,500 1148.3,501.7 1154.2,527.5 1149.2,528.3 1141.7,532.5 1124.2,529.2 1127.5,533.3 1115,534.2 1118.3,536.7 1121.7,540 1112.5,545 1118.3,550 1110,551.7 1123.3,553.3 1116.7,556.7 1132.1,540.6 1134.1,537.7 1140.9,543.4 1145,535.3 1132.2,543.2 1139.9,541.2 1141.1,538.5 1147.6,545.6 1140.9,539 1140.8,533.8 1133.6,543.6 1131,544.4 1142.8,535.8 1139.4,541.2 1145.6,547.2 1141.4,538 1140.3,542.9 1147.9,545.2 1136.6,536.2 1138.5,538.7 1132.9,542.6 1137.3,544 1146.2,540.7 1154.1,542.1 1150.4,544.1 1147.1,534.7 1135.3,544.9 1144.8,552.4 1144.1,550.5 1147.6,548.8 1146.2,542.3 1145.6,537.1 1149.9,538 1143.1,552.4 1139.6,543.5 1150.8,543.5 1134.9,545 1146.5,547.7 1136.9,551.4 1152.9,543.4 1144.1,540.5 1151.5,539.7 1147.4,540.3 1133.2,557.1 1142.8,555 1133.3,557.3 1136.4,556 1142.5,557.5 1134.9,559.4 1136.7,557.4 1133.2,554.9 1131.2,558.3 1142.1,552.2 1131.5,551.7 1142.2,553.7 1136.3,554 1136.1,551.9 1156.7,541.7 1153.3,551.7 1143.4,566.6 1143,573 1145.4,570.7 1139.7,572.3 1141.7,576.9 1146.5,571.2 1141.4,568.8 1139.6,570.3 1144.6,573.9 1144.9,577.5 1140.4,571.7 1148.6,568.2 1141.1,572.4 1099.9,566.8 1095.9,566.6 1098.8,568.2 1085.8,562.5 1098.3,560.9 1089.2,567.4 1092.2,567.6 1105.5,566.3 1103.4,564.5 1086.7,564.9 1102.8,562.8 1097.4,568.1 1090.4,567.5 1111.3,563.3 1099.8,564.3 1110.4,566.1 1106.3,562.3 1098.2,565 1124.8,567.8 1130.3,561.2 1130.6,564.6 1129.8,566.2 1124.5,564.5 1132,563.6 1150,561.7 1081.7,567.5 1072.5,572.5 1090,568.3 1106.7,575 1111.7,578.3 1115,582.5 1108.3,582.5 1046.7,570 1052.5,565 1058.3,569.2 1043.3,578.3 1050,585 1059.2,582.5 1063.3,584.2 1043.3,586.7 1087.1,585.1 1085.7,589.3 1097,589.3 1091.6,592.8 1088.4,586.3 1093.3,590 1086.9,585.4 1092.3,589.1 1085.4,587.8 1088.2,589.8 1090.2,588.1 1089.3,591.3 1096.4,587.4 1094.5,586.2 1085.8,580.8 1095.8,580 1081.7,591.7 1072.5,593 1093.3,600 1129.2,597.5 1092,618.4 1088,625.4 1104.7,615.9 1096.1,616.2 1111.3,617.3 1082.4,639.8 1095.6,615.5 1103.8,623.6 1089.7,621.6 1088.9,642.4 1084.3,638 1090.3,618.2 1092.4,628.5 1101,621.4 1081.2,639.5 1103.8,612.6 1112.3,620 1099.1,623.4 1107.3,616 1079.1,645.1 1099.6,621.4 1096.2,617.3 1084.2,640.6 1084,633 1103.2,616.1 1104.5,615.4 1090.8,630.9 1079.6,637.1 1091.5,619.5 1086.8,631.6 1088.9,625.2 1089.2,615.9 1106.9,616.2 1093.9,614.4 1089.6,628.9 1109.6,616.9 1111.7,615.3 1096.7,623.8 1102,620.5 1092,632.3 1092.2,635.5 1093.3,626.1 1095.3,617.5 1093.8,615.1 1094.5,612.1 1096,623.6 1108.2,614.2 1115,619.2 1096.1,621.1 1079.8,640.9 1102.4,622.8 1102.1,624.3 1110.2,618.8 1089.1,640 1093,615 1111.3,618.3 1101.4,625.9 1082.5,632.3 1100.1,616.2 1091.1,618.7 1098.8,622.4 1083.7,645.9 1091.3,617.6 1081.3,633.3 1111,614.9 1087.9,639.4 1106.1,618.8 1098.4,626 1084.5,634.8 1107.7,621.4 1083.2,646.1 1099.2,620.6 1081.9,634 1089.2,642.2 1102.2,619.7 1108.3,616.2 1087.1,625.5 1085.3,637.9 1089.5,621.1 1088.4,637.4 1097.7,616.7 1111.3,614.7 1088.4,642.9 1102,622.6 1091.1,624.3 1088.5,621.4 1079.2,643.3 1114.4,617.6 1096.9,614.3 1081.1,634.6 1091.2,639 1092,617.2 1086.8,634.2 1102.1,618.1 1092.1,626.8 1101.7,624.9 1080.5,635.3 1079.4,640.7 1081.8,636.6 1090.6,639.9 1092,637.2 1088.7,618.8 1082.5,639 1082.2,641.6 1090.6,616.5 1077.9,640.5 1094.3,631.4 1088.7,634.6 1094.3,620 1098.2,612.8 1059.2,605.8 1042.5,611.7 1044.2,614.2 1054.2,619.2 1066.7,619.2 1068.3,620.8 1079.2,624.2 1056.7,627.5 1041.7,635 1043.3,642.5 1040,646.7 1068,648.3 1086.7,648.3 1042.5,664.2 1057.5,663.3 1040,670.8 1050,673.3 1054.7,672.6 1054.8,672.9 1051.7,675.2 1051.5,674.7 1077,664.7 1076.2,668.2 1075.5,668 1074.3,669.1 1073.4,671.8 1070.5,673.8 1065,676.7 1063.3,680 1067.5,682.5 1061.7,685 1045.8,680 1048.3,686.7 1047.5,690.8 1046.7,699.7 1044.2,728 1041.7,738.3 1042.5,756.7 1046.7,756.7 1041.7,791.7 1045.8,777.9 1045.3,774.8 1044.7,779.4 1042.2,776.3 1046.2,776.9 1041.4,775.1 249.2,288.3 248.8,291.7 260.4,290.8 250,295.8 246.7,298.3 253.3,297.5 243.8,301.7 255.4,300 273.3,292.1 273.3,293.5 278.8,294.2 270.8,297.5 264.2,305 292.1,302.1 295.8,287.1 305.4,287.5 309.2,297.5 316.7,303.3 316.7,306.7 319.2,311.7 275,315.8 303.3,316.2 397,239.2 413.3,240 413.8,240.7 400.5,259.2" fill="none" stroke="none" marker-start="url(#m)" marker-mid="url(#m)" marker-end="url(#m)"/>
<path d="M399.8,260.2 414.2,260.5 406.7,266.3 419.7,275.8 401.3,288.3 362.5,316.7 332,317.5 435.5,250.3 437,261.3 446.2,245 446.7,247.5 478.3,210.5 465.3,217 466.3,219.2 470,223 469.8,246.1 466.3,254.6 464.6,246.5 475.7,236.9 470,254.5 462.3,233.8 465.1,230.5 471.7,230.7 468.2,253.7 459.9,238.8 458.4,245.9 463.3,239.3 467,247.6 465.2,242.2 463.8,242.9 460.7,241.8 459.5,237.9 476.1,244.6 460.1,243.3 465,231 462,248 470.2,242 464,233.4 474.5,245.7 465.8,229.8 460.8,253.5 461,240.7 469.2,241.2 467.9,231.7 460.9,252.4 461.9,248.7 459.6,239.1 467.5,251.5 460.4,246.1 471,236.4 471.7,235.4 462.6,241.5 458.2,240.3 464.5,231.6 463.7,248.7 463.5,252 463.5,232.5 474.8,246.8 474,236.8 472.1,245.7 471.6,243.5 474.9,238.6 464.7,231.5 474.8,237.9 463.2,234.3 466.8,232.1 466.7,236.5 465.7,233.9 468.5,238.2 467.8,245 471.2,229.9 465.5,235.1 473.1,232.3 450.4,262.1 452,267.2 451.6,267.1 449.5,258.6 457.8,264.9 455.5,263.9 455.1,258.9 457,261.3 457.3,263.7 448.2,260 457.7,262.8 451.6,264.4 451.5,261 453.8,264 458.6,263.5 457.8,267.6 458.4,266.4 453.9,263.9 452.7,260.3 453.1,260.6 466.4,256.3 461.5,250.8 462.3,253.7 459.8,252.2 458.1,256.1 462.4,259.6 462.4,254.5 466.2,255.3 463,253.8 461,258.7 464.7,258.7 491.7,245 490.8,250 486.7,253.3 478.3,260 474.2,262.5 466.7,266.7 471.7,270 451.7,276.7 458.3,277.5 467.5,280.8 460.8,286.3 466.7,288.3 469.2,292.5 488.3,288.3 495.8,285 445.8,310.8 469.7,310.8 481.7,306.7 490,304.2 500.8,301.7 504.2,302 501.3,312.6 497.6,313.8 494.9,312.1 509.9,317.7 497.4,313.9 499.4,310.2 495.7,313.4 514.3,314.8 498.6,311 514.6,317.6 501.9,309.3 499,314.6 514.9,315.7 499.2,310.7 493.8,312.2 496.6,313.6 495.8,308.8 506.9,312.1 510.2,315 495.9,312.5 509.5,311.3 514.3,317 509.2,311.3 498.9,311 511.2,312.3 500.6,308.9 502,313.7 490,310 490.8,315 560,285 326.7,343.3 352.2,340.8 363,335.8 382,338 365.8,346.3 345,351.3 435,327 446.2,324.2 452.5,333 439.5,342.5 424.2,345 420.8,349.2 475,333.3 472.5,341.7 474.2,344.2 484.2,341.3 485,346.7 480.8,351.7 495.3,338.7 495,344.2 495.3,350 488.8,323.3 512.5,320 534.2,342 560,331.7 330,369.2 354.2,370.5 365.8,360 387.8,358.3 395.8,367 401.2,364.7 450.5,365 459.7,357.5 533,353.3 538,363.7 550,368.7 326.2,392.8 453.3,379.2 488,373.7 472.8,385.5 485.5,384.2 486.2,387.5 493,391.7 482.5,394.5 454.7,396.7 337.2,403.8 334.7,409.7 346.7,408.3 350,410 355,404.7 360,413.3 340,417.8 383.8,402.8 401.2,414.7 400.5,418 431.3,405.3 440.5,410 448.7,402.5 428.8,418 478.3,405.5 469.7,412.8 484.7,411.7 493.3,413.3 552.8,401.1 556.1,404.5 556.7,401.4 553.4,400.5 554,402.3 555.3,404.6 555.9,400 557.6,403.4 555.5,400.6 552.8,400.6 557,400.6 497.1,424 499.6,424.8 500.1,425.7 497.9,425.2 497.6,424.8 499.5,424.1 500.8,423.6 500.8,425 499.4,422.6 497.9,422.8 325.8,427.5 360.8,420 368.3,420.8 368.3,425 380,425 382.5,439.2 425,428.3 438.3,428.8 462.5,421.7 459.7,430.8 457,435 475.8,428.3 478.3,428.7 480.8,429.2 484.2,426.7 488.3,432.5 487.5,438.3 408,438.8 412.5,438.8 466.7,442 476.7,445 560,425 336.1,434.1 340.4,435 338.4,432.2 334.9,433.4 361.4,431.8 365,433.6 362.9,430.5 360.8,436 361.5,437 361.8,435.6 356.5,433.4 325.8,453.3 326.2,463 335.8,464.7 348,454.2 359.2,459.7 369.2,465.5 392.5,459.2 407.8,453.8 414.5,459.5 434.7,454.2 436.2,462.5 449.5,457.8 457.5,456.7 462.8,462.8 467,454.2 473.7,450.8 425,465.5 420,469.7 489.7,465.8 495,468 324.2,479.5 345.3,474.2 356.2,484.7 342.8,490 404.5,481.3 405,490 407.5,494.7 434.2,479.2 441.3,482.5 439.2,485.8 436.7,490 435.8,493.3 427.5,489.7 450,481.7 468.8,480.8 469.5,486.7 467.5,490.8 461.7,492.5 458.7,494.2 472,495 486.2,485.5 490,491.7 494.2,493.3 492.5,497.5 450.8,495 450.8,499.2 390.3,494.7 373.7,500 341.2,504.2 391.2,502.8 395,511.7 358.3,513 367.8,518.7 423.3,504.2 422,506.7 420.5,510 436.7,503.3 436.2,509.2 464.2,500.8 483.8,500.8 492.5,506.7 493.8,510 428,518.7 399.2,520 536.7,510.8 532.5,513.7 516.3,521.2 478.8,514.2 473.3,516.7 355.3,525 362.5,522.5 349.7,533.3 362.2,539.2 373.3,535 374.2,535.8 382.5,537.2 328,545.8 390.8,525.8 397.5,537.5 399.7,543.3 382.5,550 375.8,557.5 386.7,559.2 335.8,560 434.5,530 454.2,521.2 461.7,521.7 458.3,525.8 452.5,535 461.7,538.3 410.6,527 416,525.2 412.6,524.1 418.3,529 414.8,529.3 412.1,522.3 413.6,523.3 412.8,549.9 432.6,545.7 418.8,550.7 418,555.5 429.8,541.7 420,546.1 421.1,538.4 409.5,538.7 423.6,549.9 418.8,536.5 414.8,542.4 407.6,542.6 424.9,552.6 418.1,552.6 412.4,548.9 418.7,552.9 417.6,547.1 417,543.1 432.1,551 420.9,559.9 427.6,539.8 424.6,554.6 429.9,555 424.7,540.3 410.2,550.4 422.8,540.8 414.5,545 419,551.2 415.9,539.5 426.7,557.3 417.4,556.1" fill="none" stroke="none" marker-start="url(#m)" marker-mid="url(#m)" marker-end="url(#m)"/>
<path d="M422.6,553.6 422.9,542.4 423.4,555.7 412.6,558.9 429.3,556.2 431.3,552.4 415,543.5 410.6,549.3 418,553.8 408.7,557.5 432.4,548.2 424.8,552.1 421.1,546.6 417.2,541.8 420.2,548.1 421.3,541.7 418.7,548.7 423.6,540.7 422.1,555.7 424.2,545.3 413.4,546.4 423.8,558 416.8,543.1 422.1,550.1 410.3,542.9 417.3,553.8 408.9,541.7 461.4,546 457.9,553.6 455.5,546.6 456,549.8 460.2,547.4 465,545.4 454.6,551.7 466.2,548.7 462.5,548.7 462.5,558.4 452.2,554.1 448,556.1 468.4,551.8 445.6,553.6 466.7,556.3 462.8,544.9 450.7,557.8 446.3,556.4 470.8,554.5 467.7,550.1 444.8,551.2 454.4,551.4 464.2,550.9 458.8,554 456.6,558.9 461.6,552.1 454.4,548.3 469.2,552.4 446.2,549 455.1,549.2 466.1,546.7 462.2,552.5 445.1,551.9 455.6,554.4 451.7,553.3 444,547.6 464.1,556.5 456.5,548.4 463.9,544.8 448.6,555 493,522.5 474.1,542.2 488.3,523.1 487.2,541.9 471.8,538.9 491.9,517.8 492.6,518.7 497.8,536.4 501.9,528.4 486.7,543.1 480,525.2 482.4,531.7 476.1,537.2 492.7,533.3 500.8,529.8 498.7,527.5 492.3,518.2 488.9,530.5 481.4,526 483,524.8 471.5,528.4 480.8,526.9 476,531.1 495,529.8 482.2,544.9 495.8,541.1 497.9,529.3 485.4,543.6 480.5,531.2 490.9,536.7 483.8,542.5 484.7,540.3 496.9,538.8 493.5,521.7 474.8,526.9 490.8,545.6 474.9,535.4 478.2,525.2 483.7,540 488.7,544 477.4,540.9 496.3,533.2 491.8,526.4 475.9,528.5 483.1,548.3 482.6,546.3 489,536 494.1,524.7 496.1,536.4 473.6,537.7 548.3,554.7 557.5,556.7 340.2,593.4 497.5,669.6 385.2,660.2 434,686.1 471.9,636.8 456.7,670.3 460.5,630.5 465.2,665.1 461.7,646.9 425.8,622 465,689.5 432.4,616.3 391.1,607.8 465.6,686 412.4,625.9 354.1,605.1 427.6,573 476,684.3 424.5,633.8 490.3,674.7 446.8,617.8 445.1,637.9 401.4,652.6 414.8,576.4 485.5,662.3 348.9,603 436.6,649.5 437.8,566.3 475.8,647 443.6,589.2 369.2,655.9 426.3,621 433.4,679.6 351.3,599.5 427.7,611.8 403.2,617.2 401.3,652 364.9,617.8 452.9,592.8 409.6,677.6 386.3,587.7 423.9,577 418.7,617.2 394.6,569.7 385,596.3 355.4,602.1 442.9,610.6 337.1,600 385.3,667.2 413.4,593.7 403.7,579.4 450.7,598.7 486.4,647.2 388.1,596.5 432.5,591.5 391.2,657.5 425,606.1 392.1,572.8 379.4,658.3 377.6,593.6 372.2,619.8 488.2,675 483.3,687.8 344.5,601 442.8,612.1 396.3,657.8 449.4,596.8 436.3,586.9 455.8,665.7 376.1,616.5 438.1,586.7 475.3,644.6 400.5,661.5 474.3,675.2 478,650.1 328.8,596.3 448.5,618.4 458.3,682.9 456.6,683.1 436.2,627.2 450,679.5 368.3,641 420.6,597 396.2,589.9 377.5,580.3 450.8,659.4 364,595.9 415.3,626 421.4,672.8 430.8,628.4 461.7,683.3 386.7,590.6 331.2,601.7 402.9,576.8 387.2,584.9 400.3,588.2 440.7,597.3 476.5,697.5 473.6,670.1 380.4,587.4 424.9,653.2 471.7,664.7 427.5,571.9 447.3,584.3 401.3,588.3 475.6,686.9 415.2,622.5 443.2,682.5 374.7,625.7 424.2,611.6 445.1,650.4 375,644.7 439.8,604.4 445.6,626.4 424.5,618.8 484.6,641.3 418.2,597.3 361.9,645 428.9,571.9 395.5,570.9 421.9,666 392.5,585.4 363.8,615.2 359.4,604.5 450.9,623.2 484.4,652.1 481.3,643.5 489.7,689.2 445.9,682.5 456.4,700.6 431.7,574.8 421.5,679.1 444.9,597.8 355.7,626.3 475.1,646.2 390.5,581.4 481.9,639.9 447.6,679.9 383.3,582.4 445.7,618.2 408,583.5 481.5,650.6 429,566.5 391.8,612.5 444.1,600.4 370.6,634.2 368.5,644.4 423.7,674.4 481.4,674.9 437.1,654.1 467.1,689.5 456.8,635.5 437.5,612 421.9,620.2 409.1,614.5 365,594.8 384.6,580.1 403.8,626.1 425.2,604.9 454.4,641.8 350.4,599.8 450.3,592.4 393.9,589.7 431.5,688.2 439.9,589.2 431.2,571.8 469.8,689.9 383.1,580.3 482,654.9 380.4,671.1 440.1,620.1 445.6,610.1 430.6,598.1 433.6,667.4 419.7,647.3 422.7,657.5 431.3,609.1 451.6,673.2 403.8,601.3 408,657.2 422.7,587 456.5,696.7 437.7,611.1 361.5,597.4 368.5,624.3 362.8,590.1 460.4,655.3 459,682.1 372.3,609.2 430.6,627.2 446.3,573.4 452.5,690.8 413.4,594.4 399.6,575.6 412.6,576.7 483.4,668.5 370.5,586.3 447.3,656.9 481.7,666.5 393.9,607.2 391.6,617.2 395.8,581.2 367.1,650.6 389.7,595.7 476,676.3 448.4,608.1 439.6,641.4 477.9,635.7 363.4,653.4 451.8,618.4 417.4,650.9 445.3,607.8 436.3,640.6 407.6,667 416.6,630.7 405.2,655 473.1,692.6 348.5,597.3 468.6,637.3 403.8,573.1 448.6,626.6 445.8,614.4 416.3,595.2 388.6,610.4 379.9,595.9 437.7,687.4 357.3,622.8 466.6,651.6 401.9,614.5 395.5,656.1 391.3,645.8 388.9,658.7 417.3,633.7 486.7,672.3 444,669.8 394.3,566 445.8,642.2 462.3,674.2 341.9,592.7 459.4,643.7 451.5,631.6 370.8,598.9 377.9,597.8 478.9,642.4 414.5,622.3 480.4,679 419.3,615.4 428,614.2 418.6,620.7 424.5,608 468.5,647.8 438.3,567.3 430.3,586.7 468.1,633.9 444.7,660.1 374.6,591.3 465.1,701 396.7,657.7 446.9,583 374.3,594.5 427.7,607.3 423.7,582.8 392.4,564.9 390.3,655 361.3,640.9 454.7,623.8 445.6,577 373.8,611.6 458.8,633.7 430.6,640.2 423.4,574.2 422,676.9 430.2,628.4 385.3,615.6 442.7,584.3 413.8,614.4 356.6,619.9 410.4,677.3 425.5,662.2 348.4,599.2 415.9,603.3" fill="none" stroke="none" marker-start="url(#m)" marker-mid="url(#m)" marker-end="url(#m)"/>
<path d="M427,594.7 430.1,676.3 365.5,648.9 434.4,662.6 395.3,573.1 445.6,582.4 383.7,580.8 464.2,694.7 459,654.4 476.5,676.7 384.6,584.1 473.3,699 487.4,670.5 474,679 429.2,624.6 472.7,676.4 362.9,589.4 404.7,595.1 446.8,665.4 466.8,661.3 395.2,572.9 440.7,684 474.7,677.6 431.9,627.9 382.1,591.7 434.6,603.3 336.3,600.2 449.7,625.6 442.3,679.7 354.1,600.3 366.4,612.3 485.4,658.8 386.9,658.1 436.9,615.8 416.6,660.4 446.5,642.7 402.8,671.4 484.9,668.1 380.2,580.3 426.7,566.9 392.6,670.9 438.7,601.7 420.7,622.4 468.9,660.3 451.3,662.5 426.4,682.5 375.1,616.8 354.6,605.9 340.1,598.6 392.9,617.2 437.9,675.5 378.2,582.6 460.1,629.7 423.4,659.5 417.9,602.8 436.6,598.5 472.9,644 369.1,596.1 459.4,660.6 437.3,662.6 494,670.1 383.2,618.2 443.8,693.7 443.5,645.7 465.9,684.4 459.5,634.3 486.2,693.3 457.5,681.8 440,690.3 450.2,650.8 431.6,682.3 370.5,591.6 345.7,600.8 422.7,679.8 340.5,593.3 436.4,610.4 469.6,639.7 398.4,569.4 436.6,667.5 428.2,619.4 408.4,579.8 404,661.3 451.1,627.4 383.2,588.2 394.5,601.9 415.5,625.1 356.4,599.4 423.6,664 500,670.9 453.7,666.7 453.6,653.5 368.8,612.7 488.7,677.9 424.2,635.3 358.7,597.4 451.4,700.2 470.2,684.8 473.6,676.6 405.8,566.4 435.5,691.3 409.6,654.9 358.1,596.1 437.7,664.9 401.3,570 407.1,619.4 444.5,665.9 364.4,656.3 448,630 430.8,569.3 362.3,618.2 465.8,682.2 437.3,670 484.6,695.9 422.8,681.8 413,651.9 430,678.6 420.9,603.2 473.5,680.4 404.7,578.1 440.3,590.7 399.4,576.4 455.1,686 388,604.9 448.1,648.8 416.2,627.6 395.4,650.6 455.5,678.2 488.9,684.2 446,686.1 401.7,664.8 366.7,604.6 384.5,608.1 492.5,673.1 366.2,621.2 484,696.6 463.4,692 467,638.9 418.2,656.4 336.6,591.5 447.1,662.4 458,671.7 366,598.1 358.7,598.5 429.4,657.3 430.6,663.1 386.9,581.1 376.1,620.7 447.6,626 454.7,574.1 478.2,679.1 444.1,601.2 442,647.1 442.3,586.8 440.7,644.5 387.3,667.2 366.6,614.3 416.8,576.5 372.8,616.5 391.1,614.2 438.7,630 442.8,684.1 401.1,577.2 405.1,665.5 408.7,585.8 362.7,625.3 333.2,593 457.7,643.5 335.4,599.4 403.8,607.1 386.8,577.8 440.8,636.3 457,639.7 363.3,634 431.9,656.6 494.9,669.8 362,648.7 401.2,580.8 394.4,660.7 363.1,630.8 434.9,592.1 379.5,620.4 383.5,659.2 367.7,627.4 423.9,665.6 345.5,595.7 428.3,627.1 442.4,687.6 373.6,602.9 477,679.7 440.9,636.1 341.6,596.2 441.8,647 468.2,693.3 425.5,586.9 448,597.9 363.8,614.3 416.9,660.5 435.5,630 444.3,678.6 445.4,665.2 439.8,586.7 497.3,676.5 363.1,623.9 442.7,673.8 343.6,593 359.8,599.5 395.1,622.4 385.8,664.5 400.9,586 445.1,583.9 461.9,683.9 438.8,654.1 375.7,597.9 472,649.2 477.2,689.8 428.9,589.4 408.6,598.3 435.4,663.3 411,587.9 448.1,617.1 452.6,594 467.5,679 468.7,677.4 442.7,643.8 427.8,576 437.3,595.7 367.8,622.8 418.6,667.5 360.9,603.1 438.4,662.5 357.9,606.2 442.6,598.7 349.1,593.6 462.7,682.7 378.4,667 415,582.4 405.4,589.3 416.4,613.8 452.5,638.5 409.5,597.5 443.7,592.9 451.8,674.3 434.5,575.6 404.3,654.5 434.6,604.5 398.8,610.1 342.8,596 485,694.1 431.7,602.8 406.1,666.2 455.8,579.2 367.2,629.6 383.2,587.8 479.7,645.3 477,681.5 369.2,614.3 389.3,612.3 390,576.4 396,654.3 484.1,672.1 454.7,672 441.3,616.5 419.7,609.9 476.1,685.8 493.6,670.4 445.2,656.8 421.3,627.6 464.7,689 359.6,610.5 405.5,619.6 468.4,701.5 377.3,653.8 486.4,668.8 426.1,575.7 428.7,683 443.1,590.8 387,613.9 400,666.4 399.4,573.7 400.2,616.5 451.3,697.9 357.3,604.8 380.9,668.6 412.6,659.2 460.5,688.8 423.6,581.3 436.7,679.2 398.4,649.3 367.9,600.9 406.6,573.7 452.6,671 363.9,597.9 415.6,586 453.3,671.1 451.7,665.4 467.4,660.5 365.3,589.5 434.4,605 407.2,589.4 429.5,581.5 394.6,612.5 398.7,612.2 447.8,618.1 477.2,668.1 385.6,653.4 400,604.2 422.5,658.3 456,700.8 477.5,677.3 429.2,660.5 421.6,619.7 486,678.7 408.2,609.3 391.6,650.4 388.5,617.5 419.7,600.9 347.2,593.8 330.7,599.1 455.7,666.8 400.3,588.6 458.4,687.4 391.4,573.8 481.5,671.8 451,653.5 400.4,618 366.9,594.5 450.6,586 384.9,669.3 426.5,627 483.1,649.1 382.3,618.7 489.2,643.2 390.9,662.5 465.4,636.4 396.6,659.3 425.4,668 433.8,606.9 389.7,599.9 487.2,677.5 465.8,681.8 368.5,650.6 410.4,600.8 492.1,672.3 428.5,623.4 455.1,656.2 453.5,591.8 441,601.2 469.6,672.5 407.5,577.6 457,579.5 437.8,615.8 453,668.2 382.2,584.3 436.7,639.1 469,661.2 422.5,620.1 369.6,614.5 422.5,673 429,584 421.3,606.6 436.5,643.5 437.3,640.6 479.6,659.4 422.3,590.5 413.9,577.5 474.8,659.2 446.6,697.5 429.1,682.3 415.4,608 387.4,658.2 440.9,583.9 454.3,641.8 428.9,678.8 426.3,643.1 398.2,595.1 391.7,609.8 444,683.8 398.4,605.8 488.3,664.8 399.3,584.6 476.8,656.1 457.4,666.3 414.5,584.9 443.9,624.3 442.3,573.6 361.2,619.1 444.1,593 394.1,662.1 399.7,583.1 410.4,588.8 443.9,633.5 492.8,680.8 407.6,581 409.5,578.8 446.9,663.5 427.9,667.2 384.4,663.2 387.8,665.6 480,654.4 452.6,577.1" fill="none" stroke="none" marker-start="url(#m)" marker-mid="url(#m)" marker-end="url(#m)"/>
<path d="M390.4,659.6 488.1,676.6 480,647.3 409.3,610 428.8,593 371.3,634.6 413.2,622.1 442.9,587.5 418.4,600.9 462.5,664.4 464.5,636.7 414.5,615.7 373.7,619.6 451.1,681.4 409.3,668.4 359.4,627.1 386.2,605.4 386.5,671.9 441.1,660.3 437.5,662.9 467.2,669.3 410.2,614.8 369.9,632.3 451.7,692.8 477,688.7 401.3,622.5 477.6,692.1 399,588.5 401.3,619 430.1,597.9 381.6,660.8 435.5,587.9 433,603.6 428.4,645.2 380.2,655.6 431.4,635.7 377.6,621.8 365.1,647.1 389.8,565.6 467.3,680.2 463.9,684.9 421.4,617.4 413.9,602.9 449.9,636.6 386.2,609.8 433.7,643.6 418.4,608.6 394.4,584 442.6,658.6 402.6,620.2 389.4,668.8 445,633.7 407.4,589.3 448.4,598.4 439.2,580.2 433.4,585.5 414.3,606.6 421.9,579.9 409.4,651.5 445.5,641 434.1,675.7 425.7,593 424.8,671.7 440.8,575.8 433.2,564.9 473.2,637.2 447.4,639 435.5,577.9 349.5,603.4 487.5,689.1 491.4,680.3 422.2,650.8 449.4,628.8 448.6,618.8 361.5,592.2 457.9,689.9 386,591.1 384.3,668.6 441.7,620.2 417.1,582.9 413.8,676.7 437.6,631.6 360.3,624.9 422.1,649.2 435.8,578.6 479.6,676.6 445.5,680.9 400.8,659.9 414.3,582.1 391.8,582.1 419.5,625.2 462,644.5 419.5,592.3 426,656.2 447.9,582.8 421.9,668.7 410.5,597.1 375.5,628.5 453.7,576.9 449,675.7 392.6,606.3 414.7,625.4 442.3,643 365.3,642.7 436,653.8 451.8,668 441.5,657.6 382.3,579 444,602.6 421,679.9 388.2,586.7 396.8,578.1 416.7,604.5 400.5,593.8 439.6,683.5 392.7,672 416.1,623.1 364,643.2 397,565 376,646.9 415.8,580.3 366.6,595.7 430.6,688.1 448.3,647.2 411.9,587.7 400.9,601.8 428.4,604.4 370.8,655.3 411.7,593.9 413.2,666.7 433.2,590.3 469.8,642.8 352.5,598.4 434,588.8 405.6,665.8 440.1,662 398.6,615.6 448.8,669.8 440.3,619.7 425.4,636.5 457.4,666.1 465.7,630.5 377.8,614.7 467.8,685 476.3,659.3 425.1,591.4 376,599.7 400.6,616.4 427.7,634.8 365.5,602.5 469.8,663.2 421.7,680.6 369.2,619.2 426,675.6 436.2,648.9 490.6,680.5 424.8,608.4 450.7,698.1 439.5,658.3 493.4,675.4 446.5,692.4 411.2,609.6 436.9,585.7 464.3,647 364,605.2 410.9,618.6 439.4,635 474.8,646.9 391,598.8 434.8,569.7 420.3,615.7 411,620 468.1,648.7 482.5,658.6 472.8,692.8 365.8,645.6 390.1,603.9 460.8,651.4 489,644 435.3,630.9 437.3,639.1 450.4,700.5 439.9,678.7 364,616.5 417.8,649.8 496.6,675.6 415.5,617.2 463.2,698.8 323.4,600.2 381,583.1 449.6,646.1 413.9,581.2 471.8,681.7 461.8,674.7 437.2,683.5 474.3,696.6 378,661.4 446.6,685.9 424.9,600.9 366.6,640.5 449,659.9 462.7,629.2 335.4,596.6 442.8,689.6 452.1,676.4 418.4,663.7 374.2,601.9 479.8,654.7 408.9,616.3 412.9,674 457,696.9 442.1,605.6 415.3,602.7 476.8,681.6 406.7,621 387.6,575.9 427.9,626.3 429.3,640.5 398.8,597.1 424.2,590.7 443.5,662.2 441.1,593.3 435.7,601.4 402.5,594.6 469.3,648.4 441,618.3 423.9,588.3 418.5,654.7 480.7,676.1 384.7,672.8 426,681 420.9,617.6 421.8,672.1 410.5,565.4 461.4,654.4 402,668.7 443.7,590.6 419,648.7 454.8,589.3 377.5,610.9 455,645.7 366.6,636.4 458.7,663.2 423.8,597.8 379.4,589.4 387.9,577.7 353.2,597.1 427,626.2 463.2,667.4 466.4,643.3 408,608.9 432.5,574.6 364.1,639.4 412.2,658.7 327.6,600.7 417.7,585.9 435.3,687.7 343.4,592.3 461.5,629.8 463.2,671.2 431.1,574.8 465,667.3 378.7,661.6 396,671.4 375.7,640.9 445.3,623.1 450.3,667.9 430.1,680.8 427.9,579.5 475.6,668.5 369.2,595.5 405.1,656 397.4,565.1 482.6,663.5 455,672.5 430.1,675 472.5,679.3 453.9,670.6 439.9,675.6 441.4,647.3 411.4,672.3 425.9,579.1 398.8,622.5 386.9,618 399,615.1 429.5,614.4 481.7,699.3 372.9,629 485.1,684.1 364.6,597.8 449.2,678.2 406.9,617.5 479.8,687.3 405,581.5 443.1,630.2 484.9,698.3 434.1,574.8 428.9,622.4 455.1,578.1 362.4,610.8 426,608.2 432.1,576.4 395.9,652.5 438.1,610.8 423.7,585.4 376.6,651.7 367.1,646.9 348.9,598.9 381.5,618.6 407.9,618.8 463.2,694 417.2,661.2 390.5,600.3 386.5,663.6 382.2,661.1 451.5,624.2 332.8,598.6 421.8,608.5 366,603.2 371.8,611.4 466.3,677 449.2,691.3 441,576.8 367.7,638.4 472.1,646.9 399.5,595.9 440.8,612.9 338.6,589.5 438.9,661.1 372.2,600.4 384.7,587.7 436.4,657.5 414.5,586.6 352.2,595.9 422.4,667.8 447.5,576.1 447,677.8 395.6,583 441.9,607.3 394.5,578.8 422.1,619.9 479.9,696.6 461.6,639.5 465.7,644.9 341.7,597.9 379.6,620.4 419.6,575 450.6,678 467.3,690.7 378.7,581.6 460.9,662.8 388.7,610.9 415,670.6 448.3,619.9 479.4,672.7 422.7,613.8 469.8,638.5 444.4,655.1 469.2,662.7 418.3,674.3 486.6,670.9 464.8,660.9 446.7,626.8 424.1,679.4 452.1,632.6 382.5,665.9 402.8,571.6 488.1,684.3 423.4,625.9 377.1,649.4 496.9,667.8 417.7,604.6 444.6,643.2 430.5,604.5 455.9,662.2 452.1,629.9 405.8,602.4 434,587.6 479.1,690.4 477.9,681.1 410.3,586.1 429.1,682.5 423.7,613.5 440.7,574.1 448.9,611.7 418.5,600.8 455.1,659.3 426.3,581.7 354.2,621.1 429.4,623.6 451.9,579.6 479.4,690.8 459.5,648.8 399.8,595.2 448.5,576 361.2,625.1 443.9,614.9 460.3,630.1 407.4,661.7 432.7,622.8" fill="none" stroke="none" marker-start="url(#m)" marker-mid="url(#m)" marker-end="url(#m)"/>
<path d="M380.8,593 436.6,669.5 440.7,688.5 357.6,611.3 457.8,653.5 437,590 434.7,640.4 412.6,565.4 375.3,650.4 417,622.5 456.1,663.9 473.7,659.8 436.7,606.4 418.4,562.9 383,611.8 487,680.9 469.7,677.1 475.8,683 415.5,594.8 462.7,678.9 463.3,697.5 380.1,610.7 400.5,579 449.9,637.2 396.5,670.4 450,691.7 456.4,645 455.3,651.3 472.8,651.8 362.1,643.8 393,599.9 351.8,599.2 414.2,568.8 426.8,654.6 428.3,676.5 367.9,616.7 368.1,596.2 386.6,608.1 456.6,633.1 434.4,659.9 436.3,652 389.9,570.2 480,694.3 471.5,683.5 368.1,645.2 444.6,594.7 390.6,574.9 345.2,601.2 438.4,654.5 418.9,585.1 484,657.3 336.2,592.5 429.4,638.6 424.7,649.2 364.5,647.4 418,610.4 462.4,639.9 452.6,654.7 425.2,625.2 410.5,623.3 450.7,667.5 443.8,633.5 409.5,570.5 418.1,617.6 372,612.2 379.1,670.1 358.1,614.7 393.9,617.2 438.8,648.2 389.1,655.4 370.1,632.2 464.9,665.7 411.8,567.4 406.7,576 453.9,635.5 432.8,687.7 350.5,595.6 427.8,628.3 407,580.9 452.8,639.7 415.8,676.5 354.4,601.5 433,574.1 402.5,608.6 473.6,662.6 329.7,599.1 461,630.1 341.9,592 435.5,687.2 485.9,643.4 432.2,651 462.6,636.7 341.1,593 440.8,571.8 339.8,597.2 467.3,641.1 427.5,595.4 438.1,586.9 427.7,607.7 407.6,665.8 436.5,602.8 367.4,635.7 418.5,593.1 461.5,634.1 385.8,597.6 474.8,693.8 445.6,610 401.7,661.3 465.6,661 428.3,575.3 360.2,598.1 372,628.9 491.5,673.1 449.6,648.5 440.7,634.2 474.6,649.3 439.4,679.7 426.6,587 381.4,582.1 405.8,566.9 441.5,655.9 487.4,673.9 411,572.1 450.3,585.7 380.4,658.2 451.3,628.2 371,622.4 452.2,593.9 441.7,569.9 450.1,652.1 409.2,658.6 416.5,587.1 448.7,579.1 425.1,635.8 451.3,633 440.5,649.7 474.3,640.5 460.1,684.6 367.1,620.9 482,661.7 386.2,661.8 418.9,633.8 367.9,593.1 444,610.6 415.2,575.5 432.6,638.2 480.6,692.8 464.1,656.1 441.2,571 437.5,569.1 423.8,669.6 466.3,700.5 452.6,641.2 472.5,679.6 436.4,659.2 386.4,617.6 478.2,639 436.6,625.3 371.3,637.9 408.5,580.9 347,598.6 398,672.1 400.5,622 421.5,612.1 445.2,614 400.1,607.1 418.7,601.7 443.9,621.1 452.9,656.8 399.4,572.7 442.5,610.6 365.5,587.1 427,597.3 469.9,660.2 399.3,650.2 441.5,625.4 438.2,573.1 463.2,688.2 389,615.2 414.9,597.4 447.1,635.6 481.7,700.1 481.6,651.3 434.6,624.7 398.6,581.6 421.4,600.8 374.4,645.6 422.7,608.3 362.9,654 451,633.7 423.1,622.3 413.5,566.4 483.3,646 431.6,642 456,584.1 440.9,650.9 360.1,620.2 434.2,665.6 446.3,618.9 485.4,682.4 461.3,649 445.6,684.6 441.1,640 459.4,660.5 395.9,648.4 405.5,621.1 447.7,576.5 448.1,697.7 460.8,640.5 385.4,574.5 482.8,688.5 469.3,631.2 454.4,626.6 361.4,631.6 450.6,613.7 442.5,633.2 373.3,641 415.7,566.2 370.2,635.8 352.3,605.4 363.1,648.6 439.9,573.2 421.5,605.9 457.8,651.3 450.2,680.2 372.3,629.3 481.4,643 457.7,673.5 371.4,651.8 418.1,658.9 384,669.6 424.5,638.2 360.7,589.1 433.6,608.1 462,645 476.7,635.3 436.9,595.4 448.8,620.2 453.5,646.7 436.9,640.9 414.4,598.5 429,598.5 358.1,594.4 482.8,669.1 369.7,642.2 436.7,576.7 444.1,602.9 451.6,687.6 468.3,661.8 456,659.5 413.9,592 476.5,663.4 447.4,635.7 426,658.9 406.5,571.5 467.6,688.8 446,576.4 445.5,588.4 417.5,571.3 474.1,676.8 427.5,662.4 382.9,578.9 380.2,669.8 424.2,580 364.5,630.5 403.2,579.9 458.6,677.9 377.3,622.5 378.4,656.7 483.2,662.2 453.7,635.1 430.6,676.6 463.7,659.8 369.7,650.2 419.5,647.3 370.8,587.4 332.3,597 366.9,630.2 446.1,582.9 468.8,685.1 440.4,604.5 444.4,594.3 408.2,591.4 481.2,653.5 447.8,652.2 464.2,636.4 429.2,633 459.8,639.1 371.4,636.6 453.1,591 427.2,628.2 414.2,662.1 465.1,660.9 342.1,598.4 378,612.5 410.9,603.7 388.7,663.8 396.9,612 405.8,668 485.4,696 357.1,610.5 396,596.6 446.9,608.7 459.5,690.3 374.4,599.1 448.8,581.7 421.5,567.7 372.4,622.8 429.5,571.5 499.7,670.8 470.3,671.1 353.2,595.8 465.9,640.7 453.8,635.2 371.7,591.4 477.4,664.3 453,661.4 438.4,663 416,656.6 415.4,674 410.6,564.9 421.2,621.4 382,618.5 360.9,606.3 458.2,691.3 457.7,675.9 391.6,584.9 440.8,611.3 442.7,672.1 425.4,671.7 427.4,648.6 450.5,667.7 443.3,597.8 410.1,673.9 418.8,571 397.5,659.1 414.3,678 360.6,622.1 450.8,699 399,657.5 375.4,638 417.2,564.5 394.9,573.7 408.5,615.2 419.8,613.1 431.8,598.1 413.6,671.8 470.3,669.2 390.5,665.6 433.7,684.7 464.5,656.1 432.2,662 471.7,702.5 444.5,625.3 371.7,585.7 482,643.5 486.1,693 451.6,626.5 365.1,643.7 409.8,673 448.6,641.4 362.2,592.3 427.7,632.2 470,677.9 416,584.9 323.5,595.3 409.4,592.4 342.6,596.1 456,645.3 459.5,630.1 358.2,597.7 430.1,636.9 463.2,638.6 378.2,659.2 409.9,580.7 458.2,624 475.2,659.3 458,648.4 457.5,627 369,598.9 482.1,651.7 458.4,681.2 399.9,613 464,691.2 446.8,675.2 460.6,685.2 400.4,600.7 417.5,603.7 452.8,663.1 416.8,593.8 441.3,635.4 446.1,695.8 416.9,676.1 425.1,666.5 446.1,694 369.9,602.4 392.6,656.8 413.1,668.4 396.3,564 428.6,628.1" fill="none" stroke="none" marker-start="url(#m)" marker-mid="url(#m)" marker-end="url(#m)"/>
<path d="M325.3,596.6 382.4,656.4 370.1,643.8 447.3,636.8 458.8,652.4 389.2,635.8 413.3,640 322.5,562.5 379.2,577.5 467.9,566.1 450.2,564.6 466.2,563.1 463.2,562.4 459.5,563.9 463.4,561.4 452.3,565.1 456.2,565.8 456.8,560.7 465.6,565 465.5,563.1 457.7,567.6 452.3,567.4 500.8,579.7 524.2,576.7 518.8,585.8 542.2,580.3 548.7,589.5 487.2,591.7 460,596.7 460.5,613 518.3,605.8 520,606.7 528.3,612 540.8,609.2 548.3,605.8 545,613.3 546.7,615.8 545.8,617.5 549.2,617.5 493,618.3 500.8,616.3 536.7,624.7 532.5,632.8 513,629.7 512.5,637 505.5,643.3 552.2,640.3 557.5,626.2 542.5,650.8 546.7,655.3 465.8,625.8 485.8,639.2 514.7,681.7 516.7,695.8 517.2,699.2 514.2,703.3 551.3,704.7 541.7,750.7 507.6,713 516.9,724.9 520.4,741.8 501.4,704.7 500.7,709.6 500.6,711.8 508.6,725.1 531.7,757.6 512,727.1 498.8,713.7 529.2,752.5 503.4,709.3 532,751.8 533.2,738.9 527.4,730.9 524,744.2 514.5,716.2 521.6,745.8 523.8,734.3 506.1,724.3 538.5,752.2 499.5,721.7 514.5,725.6 506.3,722.5 537.9,753.8 533.4,746.7 510.4,728.7 534.3,755.8 522.3,742.8 529.9,755 519.6,730.2 493.4,707.3 516,717.8 540.2,752.9 540.9,747.1 507.8,725.5 522.7,739.8 520.9,725.2 528.4,748.7 515.4,729.2 530.2,744.9 516.1,728.3 524.7,743.6 506.8,724.2 509.7,725.2 507.4,727.5 532.7,754.5 513.4,722.4 513,727.4 494.6,708.6 540.2,747.4 533,750.1 535.8,756.9 523.7,742.9 517.6,722.1 528.1,751 529.8,738.2 516.9,729.8 511.1,722.9 510,732.2 517.6,740.5 538.1,747.4 530.1,742.2 520.7,735.1 529.6,739.9 526.3,737.3 529.3,743.8 517.9,741.2 511.9,713.7 533.7,749.9 519.8,739.9 488.3,726.7 489.2,734.2 494.2,734.2 499.2,733.3 504.2,730 499.2,720.8 494.2,741.7 496.7,746.7 493.3,750 499.7,757.5 492.5,765 510,769.2 515,763 519.2,753.3 528.3,730 515,740 549.1,734.8 553.5,743 537,724.2 542.4,760.8 542.4,759.2 537.2,761.9 560.6,752.6 542.7,727.5 537.2,737.1 539.9,722.7 540.9,760.8 549.7,758.8 547.4,728.5 536.1,756.2 545.7,748 542.3,763.5 553.8,762.7 544.8,759.2 540.4,731.6 538.5,724.8 544.1,750.3 546.6,729.3 532,739.3 530.2,742.8 559.3,744.3 535.4,737.6 552.6,730.4 543.5,745.6 535.4,737 530.7,739.4 558.4,761.5 545.5,759.2 550,747.4 548.8,765.4 549.4,741.3 546.9,762.3 536.5,736.4 540,738.7 556.8,749.1 541.7,737.7 557.7,749.9 560.1,753.1 540.4,737.7 543,750.7 554.3,752.7 550.2,727.2 539.8,726.3 533.8,739.8 535.4,733.3 538.4,763.4 546.3,762.8 533,725.7 543.5,761.9 541.5,754.8 542.1,766.6 553.1,761.9 547.8,766.2 543.4,737.9 539.1,749.2 533.5,731.9 549.4,758.4 546,761.2 551.4,729 543.2,730.6 539.7,751.3 533.3,756.4 554.8,753.3 555.3,767.5 546.4,764.3 558,750.5 531.8,748.1 537,725.7 547.8,759.5 541.6,744.1 553.9,735.4 536.7,749.6 550,722.5 556.7,720 560,718.3 536.7,790 543.3,791.7 555,786.7 548.3,781.7 541.7,776.7 521.7,773.3 528.3,770 533.3,771.7 566.7,807 578,810.8 586.3,803.3 602,804.2 597.5,800 623.8,808.3 633.3,808 624.2,820.8 676.7,805 560,817.5 560.3,820 560,822.5 559.7,824.2 638.3,825 634.2,827.5 632.5,830 643.7,834.7 658.3,826.7 660.8,827.5 663.3,830 656.7,830 675.3,826.7 558.3,839.2 569.2,836.3 579.7,839.2 588.3,843.7 595.3,844.2 556.7,849.2 559.2,850.8 572.2,849.7 566.7,855.8 574.7,861.7 615.3,850 628.8,854.2 638.3,850 639.2,853.3 640,855 652,861.7 652.5,862.2 678.3,861.7 599.2,866.3 589.2,874.5 568.7,878.7 581.3,883.8 578.3,887.5 580,890.8 583,891.3 571.7,893.7 562.2,893.8 615.8,872.2 623.3,871.7 624.5,879.2 644.2,872.8 637.5,881.7 646.7,886.3 642.5,890 643.3,890.8 638.8,904.2 639.2,904.7 608.7,904.9 601.1,901.2 609.2,905.9 594.2,908.4 595.6,911.3 604,899.5 594.4,905.2 594.7,909.3 596.8,897.8 603.7,910.1 594.4,904.9 610.1,902 598.6,906.5 604,897.8 598.6,897.2 593.4,900.9 607.2,904 607.5,908.5 602.5,905.4 605.1,905.9 595.2,904.9 600.8,904.7 581.1,911 588.9,912.7 590.9,915.8 590.5,916.4 591.7,917.5 591.3,908.5 596.7,915.1 594.6,914.9 587,906.1 590,909.7 584.7,904.2 595,907.2 579.2,913.9 590.7,907.7 580,906.7 566.7,924.2 671.3,918.3 677.5,925.8 648,938 657.2,937.5 664.2,939.7 667.5,944.2 678.3,942.5 680,946.7 668.3,955 673.3,955.8 653.3,958.8 642.5,975 640,978 650.3,977.5 676.7,976.7 677.5,979.2 657.5,988.3 670.8,990.8 676.7,988.3 680,996.7 665.8,997.5 658,1004.3 661.3,1012.1 644.5,1023.7 658,1018.5 638.5,1024.3 659.5,1004 657.9,1014.6 640.6,1014.3 644.3,1006.8 645.1,1026.5 659.1,1010.8 660,1009.7 656.4,1000.1 647.9,1023.1 649.9,1009.2 638.9,1015.2 641.5,1019.8 661.7,1006.2 647.4,1017.4 647.2,991.4 650.2,990.1 656,1014.4 641.6,1013.6 653.3,1013.1 643.1,999.5 650.9,1008.1 638.5,1024 650.2,997.4 645.6,987 645.6,1008.5 660.1,1007.8 639.5,1015.8 639.3,1026.8 653.5,1012.1 647.3,1019 646.6,1013.1 658,1005.6 645.6,1019.8 658.8,1003.4 640.1,1020.3 658.4,1010.6 643.1,1016.7 650.3,1011.7 661.8,1003.5 655.7,1002.5 661.6,1009.7 640.3,1024.4 647.6,1015.8 645.9,1008.6 654.8,1003" fill="none" stroke="none" marker-start="url(#m)" marker-mid="url(#m)" marker-end="url(#m)"/>
<path d="M647.7,1002.9 658.9,1004.7 662.1,1002.9 649.3,1012.3 644.6,1025.9 648.4,1003.5 646.8,1007.7 642.9,1004.1 659.9,1007.7 654,994.5 647.9,1010.4 647.1,992.2 653.5,1009.7 648.6,1013.6 660.1,1002.2 645.8,1016.7 650.6,1021.4 646,1016.8 644.9,992.4 644,1018.3 648.8,986.5 658.9,1007 642.6,1019.5 661.9,1009.1 648.4,1009.1 644,1001.8 650.5,997.3 640.7,1015.6 647.1,1007 654.1,1013.5 643.6,1000.5 660.9,1006.5 662.2,1004.3 648,1014.2 648.9,1024.7 643.7,1009 646.5,1010 648,1000 650.6,1001 653.1,996.4 646.4,1010 662.5,1010.7 656.6,998 660.4,1008.8 649.5,1007.5 662.7,1012.1 650.5,1022.2 643.4,1012.7 646.8,1012.7 662.8,1006 645.7,1006.2 654.1,994.1 656.5,1014.2 644.9,988.3 644.7,993.6 644.2,1019.3 655.1,1003.9 662.4,1009.1 646.7,1007.3 650.7,992.4 648.5,1020.4 657.8,1009.2 670,1011.7 670.8,1015 669.2,1020 678.3,1011.7 669.2,1039.2 577.5,286.7 578.7,299.7 585.3,313 622,286.3 618,296.7 609.5,298.7 610,303.3 603.8,307.5 645.3,299.2 667.2,287.2 664.5,296.2 681.7,299.7 709.2,303.3 705.3,310 731.3,300.8 736.3,281.3 712,263.8 725.8,236.7 726.3,240.8 726.7,245 725,250 734.7,264.2 735,267.5 734.2,269.2 733.3,268 634.5,316.7 649.2,316.7 678.7,314.2 688.3,319.2 788.9,1105.4 786.1,1096.3 787.9,1108.6 767.9,1114.1 780,1115.5 784.5,1105.3 780.4,1101.3 784.9,1081.1 791.7,1086.5 787.7,1107.7 777,1114.9 779.9,1116.7 793.9,1064.9 795.5,1073.3 790.9,1069.9 779.6,1102.6 793.7,1098.5 782.4,1103.1 768.9,1111.1 779.7,1097.5 792.6,1092.2 792.5,1060.4 782.5,1099.6 789.8,1091.2 775.3,1115.6 787.5,1065.2 775.7,1101.4 771.5,1118.3 795.4,1067.3 791.5,1090.4 783.1,1110.2 775.2,1120.2 788.3,1075.4 790.6,1072.2 795.8,1075.6 794.4,1090.1 772.3,1104 778,1118.4 797.5,1058.6 781.3,1104.4 765.4,1110.6 787.9,1103.4 799.2,1087.2 788.5,1081.6 799.3,1079.1 781.9,1089.7 791.4,1102.2 795.7,1087.9 779.7,1109.6 785,1083.8 794.9,1077.1 773.5,1119.6 785.9,1091.6 791.3,1079.3 786.4,1082.8 784.1,1092 784.1,1093.3 798.3,1085.9 796.4,1082 791.8,1057 789,1091.9 790.4,1106.2 791.7,1064.8 789.8,1058.6 781.7,1087.2 777.7,1112.1 794.7,1080.4 781.1,1106.9 776.4,1098.1 781.4,1105.2 781.9,1105.1 788.3,1095.8 766.5,1109.3 786.5,1094 794.6,1063.6 776.7,1117.7 783.6,1109.6 786,1106.1 782.2,1094.1 790.4,1058.1 792.8,1093.5 792.9,1077.6 786.1,1108.7 800.7,1062.1 787.1,1099.3 777.9,1103.4 791.8,1081.2 793.4,1066.4 789.4,1101.4 790.4,1103.3 770.7,1116.3 771.4,1112.3 790.6,1070.8 788,1098.3 779.7,1100.3 788.7,1103.5 766.2,1111.7 784.5,1082.9 772.4,1119.8 799.4,1070.4 795.4,1092.1 790.4,1072.4 794.5,1057.7 788.7,1082.8 794.7,1074.5 778,1112.9 786.4,1075.9 792.5,1081.7 796.9,1066.5 771.4,1108.1 772.9,1104.1 792.8,1065.2 790.2,1094 786.9,1106.7 787.6,1097.6 790.6,1065.6 789.7,1068.6 781.8,1106.7 795.5,1089.4 792,1065.8 792.2,1081.6 797,1083.6 790.6,1067.2 796.9,1088.5 780.4,1115.8 800.6,1073.2 783.2,1091.8 788.9,1057.8 778.2,1100.4 792.7,1085.7 800,1063.7 778.8,1114.2 770.2,1109.3 778.4,1118.4 786.3,1082.8 798.3,1078.6 795.9,1058 792.6,1095.4 792,1074.1 790.1,1067.8 776.9,1112.7 794.2,1065.4 800.9,1077.8 782.4,1102.9 749.7,1157.8 694.7,1208.5 741.6,1168.6 752.7,1149.8 714.2,1195.1 710.1,1196.2 766,1124.5 735.8,1177.4 718.3,1191 706.6,1196.6 709.3,1195.8 756.3,1132.1 676.8,1236.8 688.3,1224.4 733.3,1179.8 726.7,1184 690.6,1219.5 721.4,1187.3 741.2,1172.4 733.5,1178 693.7,1216.9 766.7,1121.1 752.7,1144.7 716.4,1194 721.3,1188 751.1,1149.9 764.5,1126.1 711.5,1195.2 710.1,1195 754.7,1146.9 719.9,1190.6 737.4,1174.7 683.5,1232.4 698.3,1204.2 746.9,1158.5 751,1155.5 753.1,1145 698.7,1204.7 756.7,1132.9 743,1166.6 702.9,1201.1 764.2,1123.4 685.5,1230.7 752.7,1150.2 688.4,1225.5 674.3,1240.8 680.9,1235.4 710.1,1194.9 694.8,1208.1 740.7,1168 680.7,1234.7 691.8,1215.9 753.2,1148.7 692.9,1216.1 678.6,1235.9 731.7,1181.3 747.9,1157.2 749,1155.3 690.7,1221 747.6,1162.5 756.1,1132.5 672.3,1239.1 747.2,1157.9 732.2,1180 679,1234 700.3,1202.9 758.8,1132.4 750.6,1156.7 715.5,1194.1 751.7,1148.6 741.6,1171.9 768.8,1119.4 766.6,1121.9 767.2,1121.6 708,1197.2 751.8,1148.8 670.9,1241.1 675.8,1236.1 740.3,1171 734.5,1176 755.5,1141.4 730.6,1180.9 669.8,1244.3 769.8,1119 684.6,1231.9 722,1188.2 687.8,1226.4 709.2,1195.3 671.5,1241.6 742.7,1166.6 694.9,1209.7 700.4,1202.2 696.7,1207.8 753.2,1152 718.1,1192.7 748.6,1159.2 740.3,1171.7 671.3,1241.9 718.2,1191.7 717.7,1190.6 721.6,1188.8 742.7,1169.2 754.1,1148.8 749.1,1160 734.7,1176.6 756.7,1132.2 730.3,1180.8 732.5,1177.9 700.6,1203.3 718.5,1192 694.9,1212.6 753.8,1150.6 670.8,1244.2 749.8,1153.9 764.5,1124.9 732.4,1178.5 691.1,1217.6 745.9,1164.7 754.2,1149.3 749,1156.9 682.3,1234.1 748.4,1156.3 713,1195.5 763,1128.2 752.4,1149.1 763.5,1125.6 690.6,1224 747.9,1159.8 709.1,1196 700,1202.6 742.8,1166.6 728.7,1181.1 720.6,1189.3 701.1,1200.8 725.4,1185.4 736.1,1062.3 717.8,1071.7 751.1,1092.1 684.7,1058.2 753.4,1070.2 741.1,1084.4 663,1043.9 757.9,1072.7 693.9,1049.7 713,1046.3 767.2,1069.4 783.8,1068.6 784.2,1091.7 669.1,1061 732.8,1059.4 752,1044.2 716.3,1055.9 752.3,1061.9 702.7,1065.8 786.8,1071.6 697.4,1066.4 755.6,1052 693.4,1054.2 755.1,1072.4 731.3,1049.4" fill="none" stroke="none" marker-start="url(#m)" marker-mid="url(#m)" marker-end="url(#m)"/>
<path d="M691.3,1057.4 782,1097.3 776.2,1099.1 752.2,1072.8 738.5,1078.7 706.2,1046.2 763,1096.7 775.3,1090.7 762.3,1047.2 761.5,1064.8 710.6,1060 772.7,1087 756.3,1074 741.3,1081.6 697.6,1062.5 771.2,1100 729,1069 757.7,1087.6 711.7,1060.4 718,1068.9 785.4,1060.3 763.2,1095.7 751.3,1083.7 730.5,1066 786.5,1085.8 678.5,1053.8 783.4,1074 724.1,1057.4 771.7,1083.8 713.1,1068.2 686.9,1055.4 755.6,1062.9 711.9,1069.6 722.4,1069.2 689,1051.2 768.9,1069.7 711.5,1045.8 772.3,1050.2 753.1,1064.1 726.1,1072 724.1,1061.6 757.3,1078.6 711.5,1069.3 705.8,1057.8 770.1,1103.3 722.6,1049.6 761.8,1079 786.2,1059.2 664.4,1046.4 781.1,1077.8 757.9,1068.3 723.2,1063 689.2,1062.2 695.8,1053.9 781.9,1067.8 753.9,1051.5 777,1064.2 775.7,1087.1 756.7,1079.9 719.9,1045.3 688.7,1058 767.1,1078.8 791.9,1060.2 676.8,1043.1 779,1053.6 664.5,1046.3 668,1061 768.4,1101.9 735.4,1065.8 796.2,1044.1 742.3,1059.5 759.7,1076.4 786.8,1046 769.8,1093.9 754.2,1049.4 694.9,1052 761.7,1084.5 690.1,1059.7 718.2,1067.4 761.9,1050.9 772.2,1045.4 755.3,1070.4 709.9,1058.9 670.3,1058.5 748.7,1050.1 686.3,1049.9 785.4,1090.5 730.2,1077.8 765.5,1080.8 786.3,1049.8 762.3,1084 783.2,1064.6 778,1087.6 766.1,1070.4 753.3,1051.8 678,1052.5 718.3,1052.7 672.1,1066 729.1,1046.2 747.2,1046.1 732.7,1053 696.6,1048.8 785,1050.6 754.9,1045.7 757.5,1050.3 725.6,1053.5 787.7,1080.5 772.4,1050.4 767.6,1064.3 750.4,1086.5 745.2,1044.4 784.8,1091.7 786.7,1084.9 763.6,1086.5 759.4,1102.1 712.1,1055.4 765,1049.6 685.6,1055.2 784,1070.2 710.9,1042.8 779.8,1070.9 779.6,1093.3 737.9,1077.5 759.3,1084.1 747.5,1080.5 662.7,1062.3 740,1060.2 765,1044.9 753.7,1058.9 711.3,1054.7 784.3,1088.7 706.7,1045.3 749.7,1044.4 691,1043.5 762.2,1087.2 732.8,1053.7 669,1058.8 772.7,1096 742.3,1086.7 660.7,1055.7 684.4,1045.1 769.1,1073.1 768.8,1107 760.3,1100.7 676.8,1052.7 753.3,1092.6 772.4,1057.1 751.8,1069.4 663.6,1047.7 776.8,1083.7 732.8,1051.8 690.5,1046.3 775.4,1059.7 685,1044.8 688.2,1055 772.4,1103.4 780.4,1045.4 710.4,1065.3 757.1,1078.9 703.9,1051 786.5,1042.8 728.6,1059.3 772.9,1050.1 738.4,1065.4 726,1073 777.1,1085.4 735.5,1077.7 784.4,1065.9 675.5,1052.9 691.6,1047 771,1073.3 731.4,1056.5 784.4,1070.8 725.6,1071.1 775.1,1071.2 700.5,1058.9 767.4,1065.6 746.3,1062.2 767.7,1091.7 769.1,1083.3 789.9,1059.9 692.3,1049 704,1047.5 727.1,1044.2 787.4,1058 695.5,1050.1 733.3,1060.8 689,1049.7 730.5,1069.3 720.7,1067 680.3,1049 760.9,1086.5 755.2,1086.8 730.2,1054.4 787.7,1079.1 722.3,1059.2 695.6,1057.2 700.2,1069.1 748.9,1069.9 780.1,1051.4 779.3,1072 770.3,1068.9 776.2,1105.2 719.1,1070.3 792.5,1054.9 680.5,1052.6 661.7,1065.1 729.5,1044 779.9,1076.2 704.2,1049.7 765.5,1079.5 723.7,1049.4 736,1082.1 719.9,1045.2 724.6,1050.9 785.9,1079.9 712.2,1043.7 751.6,1061.8 789.9,1058.2 686.5,1053.4 685.8,1057.5 677.2,1055.3 691,1059.5 716.7,1052.4 664,1046.6 784.1,1085.1 717.9,1063.5 664.4,1051.5 677.2,1055.2 704.1,1047.5 768.5,1072.8 687.1,1043.1 756,1067 698.4,1046.1 777.7,1058.2 790.9,1074.2 789,1079.8 695.9,1053.1 791.4,1065.8 771.9,1105.8 708.6,1057 788.1,1081.9 770.4,1099.2 755.8,1072.2 672.2,1050.4 706,1045.8 740.6,1085.1 718.3,1059.9 706.4,1057 773.2,1068 758.9,1080.3 689.5,1060.5 788.2,1051.3 693.8,1047.3 710.6,1050.5 728.6,1052.6 747,1084.1 702.8,1061.9 747.7,1043.5 750,1089.5 787.6,1074.3 781.8,1090.4 753.1,1055.4 673.5,1065 792.2,1061.6 665.7,1064.5 726.6,1067.3 705.3,1043.5 776.2,1051.3 666,1055.1 770.4,1053.1 770,1045.1 678.2,1046.7 726.1,1079.8 707.5,1045.3 749.8,1089 706,1054.8 680.6,1054.5 728.5,1055 685.6,1052.2 673.6,1049.7 791.1,1071.5 739.6,1070.1 711.5,1059.4 760.3,1098.6 755,1072.3 715.6,1053.9 740.9,1069.6 733.4,1076.1 784.4,1061.1 722,1056.3 793.2,1050 722.7,1073.7 728.3,1074.8 700.2,1044 703.1,1065.5 784.8,1090.6 776.7,1088.6 765,1075.7 789.3,1043.6 786.8,1066.2 793.7,1056.1 717.8,1048.8 790.3,1077.2 779.2,1060 723.1,1058.1 738.9,1082.9 778.1,1058.1 785.5,1063.2 784.5,1063.2 754.7,1051.6 748.1,1062 722.6,1048.5 747.8,1079.8 738.9,1085.3 694.4,1051.3 677,1055.1 701.7,1055.2 787.7,1063.2 783.5,1092.2 790.9,1053.5 752.5,1052.7 698.7,1044.7 730.3,1045.5 739.4,1059.5 720.8,1067.6 730.9,1065.2 745,1065.8 762,1086.3 665.7,1043.6 732,1084.4 736.5,1056.8 764.8,1098.9 757.3,1074.2 716.7,1063.7 758.5,1096.4 678.5,1055 748,1049.5 747.1,1059.2 767.9,1089.1 701.2,1047.9 785,1064.4 745.2,1047.4 701.1,1048.2 727.4,1078.7 754,1059 770.4,1068.2 728,1060.6 679.5,1045.6 734.3,1078.5 668,1062.1 752.6,1051.1 731.6,1049.8 783.1,1055.5 754.4,1045.1 662,1050.1 671.8,1065.5 712.5,1045.5 722.6,1066.3 683.4,1046.7 775.7,1055.4 778.4,1067.9 779.2,1057.4 688.7,1059 760.8,1097.9 740.6,1083.4 788.2,1081.6 673.3,1059.6 726.4,1043.9 784.4,1085.2 761.8,1082.9 743.1,1068.2 720.6,1072.3 711,1061.3 751.7,1069.3 750.3,1065.7 770.5,1049.5 783.5,1075.9 673.9,1044.7 732.5,1061.5 708.9,1056.5 692.8,1049.9 708.2,1048 719.8,1071.9 739.1,1066.4 694.3,1057.2 671.5,1061.9 729.4,1051.6 782.6,1062.9 670.2,1051 685.9,1049.7 710.4,1068.9 764.6,1045.4 703.5,1052.8 758.7,1073.9 705.3,1058.4 770.4,1046.7 744.8,1087.8 684.2,1054.9 685.3,1045.6" fill="none" stroke="none" marker-start="url(#m)" marker-mid="url(#m)" marker-end="url(#m)"/>
<path d="M777.2,1101.9 697.7,1050.6 680.3,1045.9 733.3,1062 760.8,1077.5 749.4,1064.4 717,1072.6 762.1,1103 700.4,1045.5 766.3,1093.8 699.5,1044.1 725.8,1064.2 760.9,1078.1 771,1081.9 766.9,1080.3 702.8,1049.3 735.9,1075.6 704.8,1048.8 728.1,1076.6 722.9,1071 755.7,1047.6 710.8,1049 781.4,1044.8 776.4,1054.1 718.3,1052.3 724.8,1058.3 778.7,1047.9 755.4,1061.5 664.4,1052.3 778.5,1051.5 788.3,1050.8 789.7,1043.9 751.2,1079.2 759.9,1074.6 783.4,1094.9 775.6,1092.4 670.7,1045.1 671.2,1056.1 766.2,1096.3 756.3,1067 791.1,1051.1 776.3,1094.5 732.8,1051.2 777.8,1099.6 768.1,1046.7 772.4,1085.3 790.4,1071.3 699.9,1067.9 758.8,1083.5 780.9,1087.5 778.7,1086.9 717.6,1054.5 752,1088.1 703.8,1058.5 749.2,1086.3 667.4,1044 762.9,1081.7 732.6,1079.2 719.1,1054.8 733.7,1071 772.6,1107.6 745.5,1046 753.1,1074.3 781.6,1075.8 714.1,1069.1 710.9,1060.2 731,1071.6 764.2,1076.9 679.9,1059.6 773.7,1100.3 672.6,1054.7 770.8,1097.6 669.2,1051.9 771.3,1083 781.7,1094 759.2,1043.1 791.7,1061.4 736.3,1081.8 731.7,1047.2 728.7,1053.9 672.7,1050.3 677.1,1044.3 702.8,1054.1 773.5,1047.7 750.4,1049.5 752.5,1090.1 740.4,1068.2 774.2,1044.6 735,1079.9 742.1,1067.9 721.8,1050.3 787.2,1050.3 766.7,1083.4 772.3,1055.2 741.4,1059.6 760.6,1051 739.3,1082.4 683.6,1055.4 740.5,1069.6 664.4,1054.6 699.7,1062.3 769.1,1080.1 784.8,1085.3 749,1071.3 776.4,1073 676.6,1056.4 770.9,1044.2 754.5,1074.2 750.2,1070.8 741.2,1042.8 739.1,1065 723.4,1070.5 774.4,1102.4 699.5,1065.9 771.8,1066.6 787.7,1075.7 781,1049.5 726.3,1074.1 700.5,1050.1 776.5,1089 781.6,1074.9 684,1056.5 679.8,1062.4 755.9,1049.7 776.8,1054 736.8,1084.4 735.9,1083.8 711.5,1057.5 754.5,1088.3 734.6,1083.8 778.5,1073.4 785.5,1091.7 699.7,1043.8 726.2,1043.4 721.2,1050.4 772.3,1051.5 734,1060 749.4,1048.5 752.8,1057.8 785.7,1052.7 742.8,1044.8 663.4,1053.5 699.7,1043.5 768.8,1097 768.3,1101 769.3,1073.2 758,1082.9 688.9,1058.9 747.8,1050.7 618,1119 618.5,1105.4 616.1,1106.4 616.5,1115.3 610.9,1115.5 626.8,1117.6 628,1112.1 612.1,1119.3 617.9,1113.2 615.8,1106.1 622.2,1104.5 609.7,1114.5 615.6,1106.6 621.4,1119 616.1,1110.8 622.2,1117.1 625.3,1115.4 613.5,1114.9 618.4,1103.4 626.3,1114.7 627.1,1111.3 623.8,1111.2 599.2,1138.6 598.6,1137.5 598.2,1139.5 601,1129.8 605.1,1136.4 595.7,1132.5 605.7,1135.3 601,1137.4 596,1140.3 605.5,1133 602.6,1130.3 654,1138.7 657.1,1141.3 659.8,1140.3 655.6,1140 653.7,1145.4 657.1,1144 657.5,1137.5 655.5,1132.5 667.2,1139.8 657.7,1135.9 665,1136.9 653.2,1135.6 666,1139.6 655.6,1135 665.1,1139.6 654.3,1142.7 662.4,1133.9 663.7,1142.8 655.1,1132.4 664.2,1136.7 655.1,1136.8 654.7,1142.5 649.3,1140.8 663.7,1142.7 662,1139.7 615.6,1164.6 613.2,1168.7 616.1,1162.2 620.1,1168.5 618.2,1164 611.5,1166.7 615.4,1163 619.4,1161.7 619,1160.7 614,1161.5 615.4,1167.3 611.6,1168 613.2,1163.6 621.4,1163.1 673.1,1167.3 666.2,1162.7 672.2,1168 664.3,1162.9 663.3,1167.7 663.2,1172.9 666.5,1164.5 668.7,1175.7 659.3,1169.8 671.9,1169.1 670.1,1161 663.2,1173.9 666.2,1168.7 670,1170.6 669.1,1165.3 665.3,1175.4 664.6,1161 665,1173.6 673.8,1169 663.6,1172 648.5,1173.8 649.9,1172 650,1170.5 641.2,1167.5 653.7,1173 652.4,1170.2 646,1170.2 644.8,1173.4 644.8,1164.6 640,1173.6 642.4,1164.3 648.7,1175.2 651,1166.7 650.2,1164.4 645.1,1168.5 646.9,1172.3 649.1,1193.6 649.9,1185.3 648.9,1182.5 647.2,1184.9 650.1,1183.6 646.1,1182.8 646.3,1185.8 715.6,1119.7 713.6,1121.9 718.4,1125.5 721.5,1122.6 719.4,1123.6 712.7,1121.4 722.7,1123 721.8,1125.5 722.1,1122.8 720.4,1122.4 713.1,1120 718.2,1118.9 718.2,1120.4 677.3,1106.5 678.3,1109.4 674.6,1107 676.8,1106.1 677.4,1111.5 677.3,1088.9 686.4,1087.2 682.6,1087.6 679,1088.9 678.5,1083.8 680.3,1087.5 683.8,1084.9 685.9,1085.4 683.3,1088 727.1,1138.6 726.1,1140.6 727.7,1131.2 729.6,1133.3 724.6,1138.3 729.1,1131.1 657.6,1117.1 660.3,1109.7 658.6,1113.6 662.3,1118 658.6,1118.3 656.4,1115.6 641.4,1089.7 640.5,1086.3 642.6,1091.4 637.3,1088.4 725.7,1092.1 723.3,1096.3 728.4,1096.9 723.1,1092.3 724.9,1093.7 680.7,1127.5 677.1,1131.1 680.7,1129.2 677.5,1132.5 642.5,1077 654.5,1085.5 669.8,1073.9 656.7,1070 671.6,1064.5 679,1070.9 664.3,1086.8 659.3,1067.1 687.5,1071.7 694,1086.8 690,1065.1 689,1084.5 690.4,1065.5 709.4,1072.4 711.6,1080.1 721.3,1065.1 604.2,1108.2 606.7,1109.4 622.8,1096.6 624.4,1091.4 619,1090 648,1098.2 637,1110.8 639,1100.9 643.8,1092.4 655.8,1106.2 653.4,1095.2 677.8,1110.6 660.3,1091.7 658,1090.2 672.8,1089.2 688.5,1105.5 681.1,1105.3 703,1095.1 689.7,1105.8 687.3,1108.3 703.9,1093.3 691.3,1091.5 693.4,1097.4 721.4,1111.8 723.4,1107.8 713.2,1104 706.7,1096.4 726.1,1111.5 708.2,1099.9 742.9,1102.2 734.3,1109.1 738.8,1106.6 745.3,1111.5 740.4,1102.1 746.5,1093.5 729.1,1107.5 744.7,1106 756.8,1109.1 767.4,1110.7 765.3,1108.8 589.6,1128.9 598.2,1117.7 591.9,1117.8 596.8,1118.7 597.1,1118.8 586.9,1128.7 630.8,1121.7 614.3,1129.2 629.6,1120.9 625.6,1120 631.9,1119.2 632.1,1125 647,1118.9 641.9,1121.8 640.7,1116.5 645.1,1128 677.1,1118.2 667.4,1117.2 672.2,1121.7 670,1121.8 668.2,1114.1 690.2,1119.9 700.3,1119.1 699,1122.2 682.8,1125.8 686.7,1116.8 703.8,1134.5 691.3,1131.4" fill="none" stroke="none" marker-start="url(#m)" marker-mid="url(#m)" marker-end="url(#m)"/>
<path d="M696.1,1119.3 683.1,1125.9 722.1,1126.3 709.3,1130.6 727.2,1123.5 727.3,1122.8 704.4,1123.1 750,1124.5 751.1,1115.9 737.2,1112.3 565.3,1146.4 582.1,1141.7 576.7,1139.3 582.3,1156.8 603.8,1149.1 600.8,1139 599.5,1144.5 592.1,1143.5 585.9,1155.5 602.3,1136.2 608.6,1149.1 612,1159.1 615.7,1148.6 614.3,1157.7 608.2,1143.3 613.4,1153.9 652.7,1143.9 635,1146.9 634.1,1139.7 644.5,1149.8 637.1,1140.3 644.5,1146.7 672.1,1139.4 656.3,1137.6 675.1,1152.9 659.7,1143.9 663.4,1158.2 665.9,1153.1 681,1141.4 695.4,1146.7 700.9,1155.7 695.9,1159.9 703,1157.2 682.1,1145.6 683.5,1150.7 692.1,1138.2 715.2,1151 713.7,1147.3 719.2,1152.8 721,1146 708.1,1156.9 705,1140.9 708.6,1150.3 718.9,1138.4 716.3,1149.8 729.8,1153.5 734.5,1145.2 731,1156.2 742.8,1155.5 740.4,1138.6 737.6,1137.9 607.8,1160.8 630.1,1169.3 624.1,1179.1 632.1,1169 648.6,1183.1 642.6,1169.9 670.6,1160.5 677.9,1182.9 680.1,1167.5 683.5,1178.5 700.9,1173.1 702.7,1165.5 684.7,1169.2 690.8,1164.8 702.1,1178 686.9,1165.4 686.8,1169.5 722.6,1182.8 705.9,1164.7 713.1,1182.8 715,1177.3 723.9,1171.1 713,1178.6 719.4,1183.8 710.5,1182.9 715.7,1180.9 729.9,1166.7 739.7,1179.7 648.6,1193.2 644.5,1193.3 663.3,1188.3 661.9,1190 675.4,1200.5 661.9,1194.1 677.5,1207.1 661.3,1206.7 702.9,1184.8 696.5,1206.2 699.7,1197.7 683.7,1189.7 702.6,1204.8 685.3,1192.3 694.7,1191.3 685.1,1204.9 682.7,1199.2 676.9,1220.9 677.3,1210.1 564.2,324.2 595.8,333 599.5,340.3 585.8,344.5 580.8,376.2 576.7,395.5 674.7,326.2 680.8,337.5 666.7,351.3 691.7,358.7 723.3,338.7 729.2,326.3 733.7,329.7 757.8,340 721.7,365.3 692,376.7 699.5,383 666.2,383.3 670,382.5 706.3,405 700.3,420 699.2,422 683.3,428.3 784.2,362.5 784.2,365.8 790.8,378.3 791.7,384.2 785.8,387.8 796.7,350.8 796.3,355.3 800,343.3 605.2,378.8 612.2,379.9 623.6,374.4 610,381.4 620,383.2 625.8,383 616.3,379.3 616.7,381.8 614.4,382 637.2,378.1 619.3,381 637.5,384.4 623.5,374.2 632.7,378.6 624.4,381.2 606.9,380.2 632.9,382.8 629.7,381.7 606.4,375.4 632.6,379.5 622,380.7 623,380.4 628.6,380.2 608.4,376.4 633.8,378.5 628.1,381.3 616.3,372.7 622,376.3 613.6,381.3 611.6,379.1 623.4,380.2 636.9,377.2 634.1,380.4 618.5,376.2 622.4,379.5 612,382.5 612.1,377.3 606.8,377.6 625.7,383.6 634.2,379.2 638.9,381.3 634.5,385.2 617.4,374.8 627.2,384.5 626.2,383.6 628.8,383.3 637.2,380.4 605.8,376.6 613.3,374.1 619.2,381.6 606.8,373.5 631.9,377.6 616.7,382.9 635.2,382.3 626.6,374 629.1,381.7 605.9,377.5 628.2,379.6 631,383.5 622.7,378.3 608.7,380.8 614,379.3 637.3,383.7 606.8,376.8 615.1,373.4 611.4,379.8 626.7,379.1 624.5,375.5 611.8,377.2 632.3,379.5 619.4,380.2 636.5,377.8 629,380.9 620.7,380 603,376.6 619.6,374.6 628.3,370 646.7,375.8 641.7,390.8 601.7,373.3 643.3,381.7 644,405 637,411 631.7,407.3 644.6,408.4 647.7,402.8 629.9,406.4 631,410.6 635.9,405.7 631.2,407.6 637.5,412.1 643.5,410.2 644.6,408 646.2,406.2 647.3,407.5 648,404.6 637.1,413.9 637.1,410.1 634.9,406 639.9,402.9 639,412.1 640.3,410 643.3,407.2 640,409.4 632.9,411.6 630.9,407.5 633.4,404.7 629,412 642.7,408.5 648.6,404.2 642.4,403.2 641.4,402.4 646.7,401.9 636.5,411.1 630.4,413.6 632.3,410.5 645.1,405.6 625.8,415.7 625.7,407.4 627.4,415.7 617,417.5 627.7,415.8 621.6,415.3 619.6,409 622,424.4 617,419.2 622.1,422 620,418.5 624.1,410.8 618.6,424.4 616.3,426.6 622,410 622.2,408.8 625.7,409 621.5,416.4 618.5,421.4 623.4,414.2 625.3,415.9 621.9,427.8 620.6,425.7 614.7,420.7 615.5,415.7 625.8,406.9 619.1,411.8 616.7,417.4 625.6,411 621.6,407.1 621.7,406.6 614.5,419.8 626,413.5 624,412.8 621.7,429 615.4,412.7 619,413.9 623.4,427.8 608.3,410.8 612.5,406.7 616.7,405.8 620,408.3 651.7,400 653.7,400.8 618.3,435 566.6,413.2 563.5,411.1 565.9,411.3 567.3,408.6 565,414.9 563.3,411.8 568.5,412.8 560,400.8 559.8,400.9 560.9,401.8 560.5,401.8 559.8,402.3 639.2,463.3 769.5,453.3 780.8,461.3 800,474.2 780.8,480 782.5,482 786.7,480.8 791.3,484.2 762.2,488.7 769.7,487.5 605.8,493.3 618.7,492.5 582.2,500 637,495.3 639.7,504.2 610.5,509.7 648.3,510.8 648.8,515 630,516.3 576.2,516.2 576.7,520.8 596.7,518.8 640,521.3 607,527.8 647,529.7 651.3,530.8 594.2,535.3 637.8,541.2 610,543.3 590,545 620.8,544.2 625.8,551.7 604.7,550.8 599.5,556.7 570,555.8 651.7,550.3 654.2,553.3 655.8,556.7 660,560 703.3,513 718,513.3 722.5,522.5 710.8,531.7 704.2,532.8 726.3,543 710.3,550.8 710.8,555.8 720.8,556.7 684.2,557.5 691.7,560 734.2,560 739.2,559.2 749.2,554.2 771.7,554.2 773.3,557.5 780.5,544.7 795.8,532.2 792.5,510.8 795.8,508.3 799.2,503.3 800,500 717.2,522.3 716.5,522.6 714.2,522 715.2,520.2 716.1,524.4 711.8,523 714,523.5 712.5,520.4 717.5,520.7 715.8,518.1 712.9,523.8 715.4,520.6 712.2,518.8 712.5,520.7 675,565.8 726.7,564.2 740,571.7 735,576.7 733.3,577.5 701.7,570.8 664.2,573.8 766.7,571.7 767.2,573 800,560 800,577.5 628,578.8" fill="none" stroke="none" marker-start="url(#m)" marker-mid="url(#m)" marker-end="url(#m)"/>
<path d="M630,589.5 675,582.5 688.3,585.8 698.3,585 706.7,584.2 678.8,593 702.8,596.2 687.8,599.5 683.3,604.7 685.3,606.7 696.7,602.5 697,606.7 708.8,601.7 725.8,605.8 727.5,604.2 657.2,593.3 655.8,597.5 647,597 653.7,609.7 582.8,603.7 592.5,602 600.8,603.3 630.8,612.2 634.2,615 643.3,617.5 634.5,624.2 580.8,624.7 589.7,634.5 619.7,634.2 655,636.7 672,633.7 697.8,620.8 715.5,627.5 685.3,647.5 714.7,655 711.3,674.2 576.7,652.5 609.2,650 612.5,646.7 615.8,647.5 614.2,656.3 635.3,654.5 744.2,634.5 749.5,644.5 745,654.2 762.5,658 772.5,652 775.8,657.8 786.7,640 787.5,645.5 800,605 800,627.5 800,651.7 796.7,656.7 787.8,670.3 767.8,675.3 800,684.2 568.7,693.8 577.5,693 599.2,695 683.7,696.7 702.2,694.2 735,692.5 738.3,691.7 743,688 753.3,691.3 759.7,702.2 775,694.7 783.3,698 788.3,701.7 794.2,705.5 772,706.7 781.3,712 585,719.2 599.2,724.7 619.2,723 624.2,728.3 628,734.7 624.2,742.2 651.7,723.8 687.5,718.3 683.8,727.2 690.8,733.3 696.3,733.3 700,739.2 721.7,717.5 722.5,718.7 747.5,720.5 755.8,725.8 755,730.8 760,730 732.5,741.7 800,716.7 566.1,729.7 563.1,737.9 571.3,724.7 561,746.3 560.4,732.8 567.1,752.4 561.9,722.2 566.3,748 567.4,727.7 567.4,720.2 570.1,749.9 565.6,745.8 562.4,749.4 563.5,728.2 563.7,721.9 569.1,752.5 560.3,734.8 569,730.3 560.1,739.7 571.6,737.8 561.5,733.5 559.4,736.2 571.8,746.7 566.2,741.8 563.9,738.2 563.5,738.6 563.9,738.9 570.3,736.5 560.8,741.5 565.3,730.9 569.5,727.7 571.2,742.5 563.2,729.2 566.1,726.7 569.8,720.8 567.5,732.6 582.5,746.3 577.5,763 567.5,761.7 563.3,772.5 572.5,782.5 580.8,784.2 677.2,748.3 686.7,750 700,751.7 706.7,749.7 646.7,752.5 650.8,757.5 659.2,754.2 665,763 650.8,760 639.2,761.7 650.8,767.5 655,768 705.3,760.8 699.7,767.5 728.3,764.2 732.5,773.3 755.8,757.5 750.8,764.2 755,770 765,745.8 766.7,748.3 773.3,750 776.7,745 786.6,749 789.1,748.3 789.3,742.9 794.2,751.4 796.6,744.9 798.1,743 787,736.4 785.7,740.2 784.6,746.8 791.9,744.7 793,744.2 790.3,742.6 791.9,737.6 796.5,752.9 791.8,755.8 787.2,750.6 785.1,748.3 788.2,751.4 792.2,751.5 794.8,748.7 790.5,754.3 793.6,748.5 795.3,773.9 795.4,778.8 785.6,768.8 794.2,773.6 785.9,775.7 792.5,777.9 773.8,772.6 788.1,775.9 791.5,777.7 795.6,772.2 794.6,776.7 787.6,778.4 782.2,778.6 783.3,778.6 779.4,780.1 774.7,772.4 784.6,776.3 778.5,773 787.1,780 794.5,772.9 784.4,773.4 774.5,773.2 792.5,769.8 797.3,777.5 796.3,775.7 772.7,776.4 795.6,772.7 799.9,790.2 798.9,790.7 798.4,790.2 799.9,788.1 798.6,788.5 797.1,778.1 792.9,779.2 793.9,776.1 798.8,782.3 798.5,796.9 799,781.4 797.9,783.3 797.3,797 800.1,792.4 797.4,796.2 799,791.6 793.6,780.6 797.2,783.2 764.2,770 768.3,770.8 776.7,785 778.3,786.7 619.2,774.1 595.1,786.7 589.3,786.8 604.7,777.3 621.5,768.7 599.9,780.2 594.7,780.4 616.9,770.9 611.6,773.4 592.9,789.3 615.9,775.6 592.1,783.5 597.6,779.4 620.5,767.4 605.1,782.1 619.8,765.3 607,776.3 597.7,786.6 621.3,766.7 606.2,779.5 619.4,767.1 603,785.3 599.4,785.7 620.9,772.7 592,783.6 611,772.7 618.9,772.6 597.9,782.5 620.9,762.4 598.8,787.8 609.7,773.6 608.4,776.7 594,779.8 597.9,778.3 617.5,764.6 612,777 603,778.2 609.6,777.7 591.9,786.7 621.5,772.1 595.1,780.4 589.6,787.6 617.4,766.3 597.9,784.2 618,771.1 589,783.1 606.3,774.9 621.8,770.4 591.8,788.3 598.3,788.5 602.6,782.3 591.6,787.5 591.2,784.1 611,777.7 598.4,779.5 602,782.6 608.4,777.8 616.7,770.2 598.2,782 599.3,780.6 594.3,783.2 617.7,771.5 595.4,782.3 593.9,786.9 620,771.1 620.2,767.9 607.3,778 596.5,779.9 604.2,779.8 599.7,789.9 601.9,787.6 606.6,776 611.9,777.3 593.7,781.2 619.3,767.1 623.7,768.3 604.4,782.2 590,791.3 612.9,770.8 604.2,758.3 609.2,758.3 600,766.7 628.3,772.5 630,781.7 618.3,785 620,790 629.2,795.8 651,779.7 647.3,782.4 652.1,779.8 651.8,778.4 650.5,781.3 650,782.2 639.2,780 682.5,783.3 690,784.2 695.8,776.7 706.7,776.7 714.2,776.7 712.5,782.5 720.8,785.8 730,781.7 730,790 724.2,792.5 724.2,796.7 740,776.7 740.8,780.8 739.2,792.5 743.3,792.5 710.8,795 706.7,796.7 685.8,800 838.8,850.6 848.3,864.2 803.8,864.9 832.9,831.1 861.1,809.3 846.3,843.7 829.5,847.8 817,829.2 848.2,863.7 816.5,850.1 908.1,890.3 904,903.5 897.2,886.1 855.7,866.2 843.2,866.1 862.1,837.2 836.6,819 818.4,868.7 839.7,821.1 825.4,859.5 814.3,867.8 828.9,850.1 857.7,845.7 823.4,853.3 848.9,814.8 886.3,890.4 909.8,860.5 886.7,892.3 906.1,886.9 838.7,843 892.9,881.2 832.9,832.1 813.4,819.9 858.3,806.4 841.6,823.7 853.3,854.6 907.4,903.3 845.2,812.7 829.8,824.7 845,833.6 852.7,866.7 841.7,869.2 842.8,858.1 906.1,868.2 809.8,836.7 909,874.9 817.1,815.3 910.7,910.1 809.3,840.5 859.1,874.4 808.3,831.7 903.6,905.1 813.2,844.8 875.7,894.8 855.6,814.7 820.7,850.6 819.5,845.2 818.8,835.1 805.7,849.9" fill="none" stroke="none" marker-start="url(#m)" marker-mid="url(#m)" marker-end="url(#m)"/>
<path d="M805.6,863.9 914.4,911.5 851.7,865.8 853.5,802.9 886.7,895.6 818.6,856.5 815.7,861.2 846.3,845.3 856,854.9 833.4,832.9 888.7,884.9 883.4,880.8 849.4,850.1 850.9,870.9 861.7,845.5 827.7,857 910.9,875.4 885,893.7 861,882.9 836,846.3 910.4,886.9 910.4,895.6 845.3,822.7 832.3,848.9 855.5,814.6 860.2,827 898.3,907.3 901.9,878.7 884.4,901.3 912.2,912.2 814.3,824.7 844,858.1 815.7,848.7 816,856.3 860.8,803 850.2,863.1 852.2,855.2 892.4,884.4 844.7,827 885.4,882.9 826.6,862.3 825.9,849.2 825.9,822.4 817.7,857.3 914.9,877.4 906.3,903.3 835.8,819.5 899.7,895.1 864.3,851.4 917.1,891.6 895.3,890.5 838.3,850.9 856.4,840.9 843.2,816.2 903.3,883 811.2,853.6 873.5,851.7 858,853.3 842.3,866.9 840.4,834.5 808.7,855.2 915.2,883 854.4,811 825.9,847.8 916.2,903.8 860.8,877.8 816.9,826.5 823.5,847.1 827.4,869.8 910.1,877.7 842.8,834.8 899.3,888.7 815.4,815.6 862.2,851.1 907.8,883.3 891.8,896.9 915.2,910.3 858,806.3 814.2,818.4 797.7,874.9 853,871.4 845.7,848.7 853.7,809.7 909.3,892.3 841.7,847.5 818,847.8 819.4,803.1 819.7,823.2 835,869.1 836.2,850.6 837.3,837 892.7,881.1 804.1,831.2 862.8,858.4 822.8,862.5 845.7,869.2 878.4,890.2 855.2,866.9 854,840.4 814.2,819.3 852.7,841.6 853.3,804.5 869.9,854.3 870.1,881.2 827.9,826.8 810.3,866.8 825.9,863.2 811.1,852.3 828.3,825.4 817.8,862.1 850.5,854.9 815.2,861.3 913.6,901.9 819,855.8 805.5,836.3 884.1,882.1 902.2,880.5 914,902.4 911.7,903.9 902.7,906.6 880.9,896.7 823.3,854.8 875.5,894.7 893.2,892.1 830.1,858.7 806.2,830.2 909.3,861.6 824.7,846.2 806.3,836 915.2,909.3 908.5,910.7 915.3,909.5 883.4,899.8 899.2,877.6 876.5,895.8 822.8,862.3 853.5,807 903.2,900.4 894.8,885.1 848.3,868 825.8,823.4 832.7,860.4 809.1,852.6 834.5,845.1 838.4,840.7 858.5,875.4 848.1,876.2 857.7,811.8 830.5,867.4 856.4,816.9 834.8,868.7 834.9,869 816.3,839 837.6,856.9 904.8,874.7 815,854.5 847.5,867.4 839.2,858.6 856.9,812 832.5,859.5 842.3,830.8 810.9,836.3 856.4,842.4 912.3,872.3 857.5,875.9 809.6,823.8 848.8,828.4 860.1,835.3 856.8,814.8 848.9,835.9 852.7,842.1 814.4,825.6 855.2,845.3 804.3,871.2 832.9,858.2 862.4,858.9 860,860 846.9,870.8 811,837.3 822.3,826.5 910.9,885.1 834,835.3 894.2,895.9 829.5,829.2 877.5,893.3 859.6,802.9 878.9,880.1 900.5,895.3 909.2,896.3 861.7,867 902.6,906.2 834.4,853.1 863.9,881.1 851.6,860.4 808.8,823.4 905.6,865.5 843.2,866.3 845.4,857.4 865.3,884.5 810.8,822.8 866.3,884.1 854.7,842.8 814.5,825.7 913.9,903.2 910.3,893 835.1,862.6 836.8,827.6 816,825.3 906.1,859.5 912.8,884.6 906.4,861 888.3,890.8 823.7,860.9 834.8,846.7 905.4,895.3 816.1,824.9 825.1,845.8 895.5,888.2 892.9,879.8 843.7,815.5 810.5,840.7 853.1,876.2 902.8,880.7 861.5,861.6 818.9,840.6 885.6,889.8 908.9,870.9 810.7,840.5 811,848.3 836.9,862 819,809.6 853.2,875.5 891.8,884.7 847.8,836.5 829.6,850 810.5,867.6 910.4,894.9 818.1,832.1 816.4,858.2 897.1,885 892.1,902.5 848.1,850.1 820.4,871.6 903.1,892.5 847.2,805.4 828,857.8 911.8,900.3 859.8,865.8 839.9,858.8 849.8,846.7 844.9,811.7 884.3,886.2 837.1,857.2 845.1,840.9 870.7,852.7 830.3,856.4 859.9,804.8 830.5,829.5 824.8,841.7 824.6,842.8 833.1,833.2 859.7,842 857.3,829.5 815.7,871 809.1,831.9 849.8,838.3 839.6,832.9 817.5,852.4 814.3,823.5 903,887.1 809.7,873.2 824.2,858.5 865.9,845.9 840.1,866.9 859.9,804.4 815.2,858.2 806,860.2 843.9,822.8 908,908.8 826,828.8 868.1,882.8 847.8,858 836.4,853.2 875.6,885.2 863.7,879.4 813.8,821.5 897.2,885.8 880.1,896.1 823.6,852.8 803,867.2 901.9,877.1 912.2,868.4 860.5,844.8 861.2,871.5 825.7,850.7 885,894.8 833.3,835.9 858.2,856 841.3,835 811.8,843.7 814.2,812.2 808.4,860.2 845.6,824.7 858.1,881.1 819.2,832.1 835.7,829.7 833.7,853.3 818,871.9 819.2,852.7 914.1,882.4 842.4,840.3 911,882.6 842.5,856.9 820.1,845.6 914.7,907.5 869,882.5 854.1,845.1 807.6,849.3 894.3,895 880.1,885.1 907.7,908.3 836.8,820.3 848.5,870.4 865.5,853.8 837.6,821.8 859.2,815.7 847.6,820.7 861.9,855.8 913.1,875.6 818.8,857.6 842,864.1 902.5,888.3 822.6,871.7 808.1,862.9 857.6,879 819.4,838.1 905.9,881.6 803,870.7 841.1,818.5 913,912.7 858.9,825.2 858.7,809.3 912.6,898.8 811.8,856.5 914.1,905.4 853.5,864.5 859.1,833.5 817.5,835.2 810.5,824.1 861.6,876.7 902.6,906.9 817.2,871.1 842.2,874.6 851.7,864.6 807.1,862.6 846.3,876.1 822,859.3 854.2,815.7 811.8,872 859.2,824.8 877.1,890 824,851.4 866.3,883.1 842.2,841.3 859.5,846.8 854.6,816.3 859.8,859.2 858,817.2 818.7,869.5 834.5,835.6 836.6,872.3 916.9,888.8 854.2,815.8 909.2,868.5 909,883.4 832,832.7 891.7,903.2 861.9,861.6 884.7,880.2 811.2,852 809,862.5 844.5,831.8 854.1,810 826,860.3 916.7,872.6 804.3,835.9 846.9,860.5 906.3,886.4 848.6,809.2 858.1,841.5 842.2,854.9 810,858.3 911.7,887.2 807.8,847.8 817.3,859 901.2,879 907,857 819.1,853.8 842.4,838.7 913.6,904.4" fill="none" stroke="none" marker-start="url(#m)" marker-mid="url(#m)" marker-end="url(#m)"/>
<path d="M818.9,833 856.6,836.3 837.7,857.9 862.5,841.8 833.9,866.8 870.7,886.4 832.2,825.8 914.2,912.9 828.6,860 819.1,859.9 907.7,885.7 851.5,845.6 840.5,853 912.4,866.9 906,903.9 848.4,871.7 859.5,821.1 825.8,866.8 810,857.3 852,877.5 824.9,822 862,845.9 858,832.5 862,860.6 869.8,879.3 799.4,874.8 806,857.3 882.7,891.9 808.1,834.5 821.1,829.7 894.4,895.2 914.2,875.6 805.8,833.7 868,883.5 889.4,887.6 836.5,855.2 821.3,836.8 812.7,860.5 815.8,813.2 840.5,816.8 842,867.3 862.1,836.9 838.6,854.5 822.1,847.5 889.8,904.3 805.8,850.1 815.3,818.8 903,907.4 880.6,881.7 845.3,823.7 813.7,809.6 861.1,808.2 862.4,858.2 885.6,882.8 849.2,842 813.6,805.9 828.2,866.8 818,835.4 825.3,858.4 839.5,834 890.7,885 909.7,863.4 889.5,891.5 826.6,869.2 847.9,819.2 857.3,852.3 863.7,855.4 812.9,824.7 857.8,823.5 878.1,892.8 876,892.9 847.4,813 901.6,884.2 860.8,814.1 848.2,845.8 850.3,868.9 852.8,860.7 827.6,862.1 827.7,870.2 828.5,849.4 848,871.9 830.8,828.3 910.8,884.5 911.4,858.4 855.8,846.2 854.7,861.6 829.2,848.3 864.9,883.2 811.2,864.9 847.6,851.8 879.3,891 858,808.2 793.3,875.4 891.1,887.7 874.8,887.8 850.6,833.8 860.7,812.5 804.4,873.9 901.7,879.5 816.8,843.7 912.2,911.1 861.4,872.6 834.3,850.4 906.2,882.7 856.8,867.4 846.4,835.7 836.4,825.6 888.1,895.7 795.4,871.4 896,906.7 818.5,829.1 896.5,888.1 916.9,869.4 845.3,809.9 907.4,889.1 878.3,879.8 823.9,865.1 812.7,812.9 872.6,878.7 847.5,808.3 885.1,887.5 910.6,863.2 830.2,833.7 805.2,832.9 814.8,872 895.5,879.9 854.8,813.7 897.8,894.2 868,877.4 915.7,907.4 868.8,875.2 822.6,860.4 818.9,857.2 876.2,892.6 824.3,822.2 892.8,882.8 880.4,890.3 858.3,830.9 915.6,869 860,833.1 906.9,871.5 826.5,836.4 911.7,867.4 870.9,886.8 796.6,870.4 910.9,857.4 824.4,857.3 836.1,855.8 859.7,845 815.6,838.9 896,900.1 836,827.4 839.5,847.5 815.5,851.6 808.9,835.8 752.1,849.5 778,842.5 771.4,839.9 750.1,852.1 763.7,843.1 791.6,833.6 765.9,844.2 790.6,841.2 767.4,837.5 773.5,840 783.3,841.5 779.3,833.9 788.6,839.6 790.1,829.5 768.6,844.8 766.2,835.1 749.6,848.8 747.5,844 769.9,834.5 771.3,842.5 749.6,843 782.4,838.6 775.8,835 767.2,846.4 771.4,836 770.3,833.6 778.1,844.2 779.7,830.1 790.7,830.8 747.5,843 773.4,831.4 799.2,832.1 748,849 797.5,826.9 753.3,838.7 765.2,838.7 750.4,852.4 786.8,832.8 779.9,837 788.5,831.8 798.3,837.1 780,838.3 779.8,830.4 794,834.3 756.4,841.3 785.8,840.3 757.5,841.3 798.2,827.3 768.5,846.3 785,836.6 769.1,833.2 786.2,833.8 752.7,851.7 751.1,844.7 783.6,837.2 768,843.2 760.4,845.1 770,846.1 791.3,831 794,833.7 762.9,835.9 753.7,837.3 757.7,841.3 762.3,848.5 762.6,848 776.6,854.8 766.1,860.6 760.9,854.6 768.4,858.1 772.3,856.3 762.5,849.6 756.8,859.6 768.8,855 771.2,848 770.6,850.6 763.8,856.3 760.9,856 767.8,869.2 766.4,863.4 771.9,851.9 770,855 772.7,854.1 773.3,852.5 765.5,936.5 771.1,936.3 772.9,935.9 767.3,937 764.2,936.1 769.1,931.5 764.7,937.2 761.6,931.8 762.5,930.9 765.6,928.2 764.8,933.8 772.2,937.6 766.5,930.1 769.8,928.2 720,957.9 722.8,960 725.1,949.9 725.1,956.9 724.2,950.1 720.7,959.7 719,952.9 726.2,960.3 726.4,954.7 725.3,959.2 716.2,972.7 723.7,970.3 725.4,971 713.9,972.6 716.8,967 710.5,963.6 726.9,969.5 720.6,967.2 727.5,967.4 713,963.1 713.7,968.9 732.4,972.9 716.9,963.6 728.6,972.3 720.3,971.4 726.6,972 731.1,966.2 715.7,965.8 714.2,973.2 724.6,971.3 729,969.3 729.4,969.5 727.9,972.4 731,966.2 714.1,964.9 686.5,967.8 693.7,961.9 693.8,971.3 687.5,970.2 694.9,961.4 684.1,967.8 691.1,970 692.1,964.3 689.8,958.1 694.9,972.8 689.3,957.8 691.3,975.6 690.1,957.9 693.7,966.8 686.6,963 690.5,956.1 691,974.4 693.5,973.3 818,929.5 817.2,934.3 815.1,932.1 812.3,929.9 813.1,925.9 816,935.9 809.6,928.4 815.7,926.9 815.6,933.4 803.7,955.6 811.5,957.2 814.8,956.2 813.6,954.6 805.6,954.5 807.4,957.9 812.2,955.8 815.6,969.3 817,968.6 815,970.5 819.2,971.3 857.9,924.3 857.6,922.7 857.9,924 846,924.1 854.1,930.7 854.5,930.7 852.3,917.6 852.3,919.7 853.9,917 848.3,919.1 852.1,929.2 889.7,929 887.7,934.1 899.5,935.5 896.6,927.8 898.7,941.2 889.5,942.8 882.9,938.7 883.5,932.3 895.5,936.2 893.9,933.9 883.4,929.9 886.1,930.4 889,928.2 890.7,937.6 888.5,940.9 893.1,939.6 885.2,936 885.1,928.8 912.6,941 917.1,954 917.6,940.4 919.7,944.1 916.7,944.3 918.9,952.1 912.9,943.9 915.1,943.4 921.2,942.2 912.3,947 915.3,936.8 920.1,950.9 919.6,945.1 861.5,978.8 862.5,976.4 862.7,976.2 859.5,973.9 861,972.6 860.1,974.7 870.8,954.6 870,959 865.8,953.5 870.7,951.5 876.6,954.5 875.8,957 870.6,958.8 867.2,951.3 716.8,1007.3 715.4,1013.8 710.6,1011.2 713.7,1021.9 725.2,1017.7 719.5,1021.1 718.9,1020.8 721.9,1022.1 724.4,1012.3 721.8,1020.2 721,1022.4 720.2,1012.7 723.1,1020.1 718.2,1017.8 719.2,1016.4 720.7,1012.8 722.9,1016.8 726.8,1016.2 780.5,1011.8" fill="none" stroke="none" marker-start="url(#m)" marker-mid="url(#m)" marker-end="url(#m)"/>
<path d="M787.6,1018.8 777.2,1017.8 780,1019.1 786.8,1017.2 778.7,1016.4 782.4,1010.6 784.9,1017.3 774.8,1027.6 774.2,1024.3 780.1,1014.9 773.4,1015.9 784,1019.4 777.2,1026.6 780.2,1020.5 776.3,1011.7 777.4,1022.1 777.7,1022.2 778.5,1017.9 779.7,1022.6 752.2,1003.2 756,1000.8 759.2,1008.3 759.7,1006.6 758.1,1003.9 758.9,999.9 756.2,1005 756.2,997.4 756.3,1000.9 754.7,1006.4 685.3,1013.5 681.2,1012.8 683,1010.3 682.1,1013.7 799.8,1016.3 798.2,1016.6 799.5,1015.3 801.7,1013.3 803.8,1011.2 788.1,1037.9 784.6,1036.5 778.7,1036.5 787.8,1035.4 786.7,1035.8 779.4,1036.4 781.2,1038.2 781.8,1038.8 786.4,1036.5 781.1,1037.4 780.9,1034.4 701.6,822.2 704.5,817 725.2,821.9 714.3,802.9 715.9,803.7 711.1,804.3 751.2,819.8 742.1,821.1 749.9,810.1 759.1,804.6 771.6,807.7 796.7,814.2 776.9,814.9 778.3,812 781.9,818.7 789.6,810.9 821.7,810 816.7,803.7 822.8,801.9 815.6,809.3 802.4,803.1 827.6,812.6 847.8,818.3 845.1,810.9 828.4,801 837.6,809.8 840.3,807.4 830.8,815.3 858.8,818.5 848.6,812.2 868.9,800.6 866.6,810.5 887.3,823.5 880.9,803.2 884.7,801.5 895.4,815.1 883.5,801.8 880.9,800 875.2,811.6 879.2,811.4 897.1,822.6 911,813.2 896.9,822.9 905.1,805.8 912.8,811.5 900.9,802.4 917,819.4 919.3,816.3 702,825.7 690.9,844.8 723.1,842.6 711,847 704.8,842.4 730.8,824.9 732.5,837.5 765.6,845.7 760,825.6 799.5,847.2 797.8,837.1 778.5,846.2 808.6,828.3 801.3,833.7 805.5,832.3 843.2,833.9 828,838.3 835.6,825.8 855,830.1 869.6,848 859.8,845.4 892.7,836.2 879.3,831.6 893.6,844.8 894.3,846.2 877.9,824.7 888.4,838.1 901.9,841.5 914.6,827.5 903.9,831.8 902.7,842.3 896.4,832.1 915,825.7 906.4,847.3 919.4,840.9 694.9,857.8 728.1,850.2 740.4,869.5 737.5,860.3 731.2,862.8 749.8,871.6 729.3,853.7 739.2,859.4 750,865.3 756.2,864.2 764,864.4 752,857.2 785.8,860.2 794.9,860.6 780.9,859.6 789.7,849.2 790,861.5 791.4,864.2 794.2,850.1 783.6,854.5 866.8,848.4 854,861 889.6,869.4 895.1,854.4 894.5,851.9 885.8,852.9 874.6,855.7 888.8,864.6 904.4,871.2 910.3,867.6 920,850.8 897.2,867.8 687.5,891.4 712,888.6 722.9,884.2 716.9,876.8 705.8,873.5 723.1,895.8 748.8,883.2 730.6,894 741,886.1 757.6,894.4 765.5,886.6 760.3,885.7 774.8,876 757.2,888.8 769,883.8 788.7,876.9 807.5,880.8 803.7,893.7 808.2,876.6 802.9,883.4 801.7,882.6 803.4,883.4 803.1,877.8 823,873.1 843.7,890.3 827.4,879.4 837.5,889.6 846,884.9 827.3,872.8 837.7,893 864.7,890 848.1,876.6 859.8,877.4 850.5,887.6 851.6,886.8 871.9,872.8 853.9,874.4 890.8,890.2 879.6,879.8 885,885 699.3,913.7 682,909.3 683.3,918.3 706.4,908.3 715.8,906.6 721.5,909.4 714.1,917 709,908.6 705.7,915 708.8,909.6 720.9,898 706.1,908.1 718.6,900.7 750.6,911.5 732.1,910.7 776.2,915.2 799.1,901.7 793.6,914.4 779.8,919.1 797.3,897.1 817.5,905.3 803.1,896.7 821.4,918.6 810.8,913.8 816.1,919.8 807.1,907.5 814.6,918.5 822,914.8 832.1,919.5 841.8,919.2 830.8,907.2 835,906.1 845.2,907.7 841.6,908.2 868,903.3 872,916.6 867.1,912.4 858.5,899.3 850.4,904.6 863.1,917 888.9,910.3 893.6,918 872.2,913.7 879,918.6 873.6,905 872.9,910.8 873.1,898 899.7,896.2 917.1,916.1 908,916.4 910.1,917 898.5,896.9 687.2,933.7 697.8,932.3 687.1,942.8 714.8,932.4 704.9,933 768.8,930.8 774.7,929.1 754,942.1 758.8,943 784.4,932 795.2,941 779.3,927.1 778.2,932.4 782.6,926.7 791.8,943.3 812.6,930.2 813.7,927.9 804.4,927 835.9,942.9 824.4,924.5 846.1,922.7 838,924.2 827.2,931.4 844.9,933.5 824.3,925.1 847.8,938.8 855.8,927.6 848.9,925.5 868.3,928.8 868.5,943 864.3,927 858.5,922.9 853.6,928.4 848.9,940.5 860,928.5 863,930.9 855.6,929.2 879.3,928.8 883.2,940.6 891.4,940.7 883.2,942.9 873.4,940.3 888.1,920.6 892.3,927.9 886.6,921.3 887.6,935.8 880.5,928 891.1,941.9 903.2,932.6 903.6,927.9 909.5,940.3 915.3,929.3 916.9,943.5 899.5,924.4 919.4,922.3 902.1,943.9 915.6,924.8 905.8,943.9 698.6,950.1 690.2,966.5 695.8,954.3 703.1,965.5 702.7,956.6 711.6,948.3 710.8,947.7 746.7,944.5 747.6,963.3 740.2,967.6 730.4,944.9 730.8,947.5 767.1,946.9 771.8,961.1 765.8,950.5 761.2,967.5 766.5,945.3 762.4,957.5 788.8,949.1 792.3,956.1 792,967.7 797.8,951.6 794.3,949 801.4,962.9 805.3,963.9 814.4,963.7 816.6,948.4 817.7,963.5 842.8,951.7 826.3,956.2 825.7,952.8 846.2,964.6 842,953.5 827.5,956.5 826.1,962.4 843.2,946.1 831.6,956.7 833.3,960.7 866.1,959.9 853.4,945.9 851.2,947.7 859.1,947.7 848.3,953 849,944.6 867.5,958.4 854.3,950.9 882.2,958.8 876.1,958.5 887.3,964.7 891.5,962.4 886,945.2 893.5,959.6 886.5,952.7 874.1,946.7 893.8,955.1 881.5,965.6 903.9,953.6 913,945 914.1,961.1 918.1,952.4 918.1,961.5 692.3,981.7 686.6,981.9 703.6,982 694.4,978.7 686.1,988.4 682.2,979.3 694.8,991.7 726.8,983.5 705.2,975.7 707.3,989.1 719.8,989.4 738.5,988.6 731.4,976.2 742.8,988.8 733.2,973.4 765.7,983.5 753,971.1 763.2,983.1 753.1,989.2 765.2,982.8 767.4,977 766.3,977.4 788.3,969.3 785,969.5 797.4,969.9" fill="none" stroke="none" marker-start="url(#m)" marker-mid="url(#m)" marker-end="url(#m)"/>
<path d="M786.6,985.6 786,968.6 809.9,974 819.9,973.2 840.4,973.5 834.1,982 827.9,989.7 864.4,980.2 868.2,970.1 686,999.6 698.4,1004.8 683.5,1007.5 683.9,992 686.5,1001.3 691.7,997.7 683.6,1011.8 716.6,1011.4 712.4,1007.9 710.6,1007.6 705.8,1015.1 726.6,1015 720.2,1003 718.8,1011.3 725.3,1003.8 732.6,999 744.9,994 742.7,993.2 746.7,997.3 738.8,1012.6 745.9,994.8 744.1,1001.2 751.7,997.5 742.8,1003.3 740,1007.3 770.8,1007 758.1,997 767.6,1005.2 755.9,1002.3 774.1,1002 759.1,1006.9 784.5,1014 776.9,995.3 784.4,997.3 777,1004.3 790.6,992.6 813.2,1007.2 805.7,1007.2 694.8,1032.4 690.4,1021.2 698,1027.3 692.5,1024.2 693.1,1030.6 699.9,1032.9 693.3,1036.3 698.4,1034.6 726.3,1026.8 710.4,1033.9 708.2,1030.9 705.3,1032.2 722.7,1033.4 716.8,1034.7 709,1027.4 717.4,1022.7 750.3,1029.5 728.4,1023.7 745.5,1028.6 745.2,1029.4 747.1,1036.6 750.8,1027.9 745.9,1035.9 734.1,1038.7 730.5,1026.9 773.2,1033.7 753.3,1024 768.9,1021.3 756.5,1023.5 761.4,1028.1 757.8,1023 774,1017.2 756.8,1021 791.4,1027.6 798.7,1027.6 778.6,1018.9 790.3,1018.2 794.3,1032.9 879,819.6 875.1,811.8 881.8,819.7 898.8,800.4 906.3,809.1 905.8,817.6 884.7,826.6 872.2,834 888.5,831.8 897.8,826.7 901.8,829 898.8,828.1 879.6,869.2 893.6,858.7 913.9,863.3 909.9,862.5 897.8,863.2 823.3,350.8 829.2,352.5 817.5,357.5 839.5,364.7 832.8,372 839.5,380.5 823.3,385.5 808.7,389.2 808.7,395 822.8,407.5 814.2,414.2 816.7,415.3 824.2,426.2 822.8,435.3 822.5,460 823.3,463.3 824.2,465.8 811.7,472.5 810,475.8 818.3,477.5 821.7,474.2 822.5,480 820,482.5 807.5,487.5 826.2,505.8 826.2,512.5 823.8,520.8 832.5,521.7 825.5,528.3 825,533.3 825.8,539.2 841.2,533.8 842.2,544.2 805,560 865,364.7 874.2,368.3 880.5,371.3 890,368.3 889.2,373.3 892.5,374.2 898.3,383.3 877.8,380.3 885,404.2 892.2,409.2 910.5,400 910,404.2 923.3,396.7 905.8,412.5 905,415.8 896.7,418.3 899.2,423.3 892.2,425.8 898.3,430.8 909.2,429.7 902.8,435.5 871.2,421.2 870.8,425 871.7,430 875.8,433.3 880,435 885,440 883.3,444.2 862.5,447.7 866.4,443.2 861.2,444.3 849.5,449 860.7,444.6 850.6,452.2 869.2,439.5 872.4,439.5 856.6,449.1 871.5,443.2 868.9,442.8 860.9,442.6 858.3,444.2 869.9,440.2 861.4,442.7 867.1,440.9 844.7,452.2 863.9,445.1 851.8,449.6 842.8,452.3 847.6,455.2 849.5,452.3 861.6,442.7 867.2,444.9 865.2,441.2 845.6,454.1 872.7,441.8 844.3,454.8 845.7,451.1 855.9,449.5 853.1,448 865.2,442.8 853.5,446.6 852.3,451.6 857.3,450.5 856,460.5 857.2,458.9 853.5,473.8 857.2,455.1 859.7,472.8 859.2,455 860.2,465.3 857.5,457.9 853,479 858.8,483 856.9,453.4 859.2,469.2 853.7,468.5 857.1,467.6 856.1,462.2 855.3,485.2 855.6,462.6 855.9,469.7 859.6,464.9 857.5,478 858.3,452.4 855.7,457.9 855.2,450.7 859.2,471.7 856.9,476.9 857.9,471.9 858.4,455.6 853.2,471.5 856.4,474.4 854.5,477.3 860,464.1 858.5,482.2 858.5,456.2 856.9,475.6 859.1,465.3 854.6,478.4 853.7,472.9 855.3,451.3 856.4,478.4 853.6,463.8 853.1,478.9 855.8,451.3 860.2,460.2 853.5,480 855.9,478.8 859.3,471 857.9,474.4 859,480.2 858.8,457.2 857.9,469.6 856.9,463.9 865,476.7 865.5,488.7 880.8,482.5 880.8,485.8 890,485.8 892.5,448.3 899.2,450 895.8,453.3 905,457.5 907.5,465 895.8,470 901.7,470.8 908.3,473.3 896.7,476.7 900,480 895.8,495.8 895,496.7 907.8,500.3 908.9,492.8 903.1,485.4 909.2,492.9 908.2,486.6 905.3,504.9 908.1,480.6 903.7,493.1 908.6,499.5 908,501.4 907.8,499.2 903.6,482.2 904.5,502.1 909.1,483.9 904.9,492.6 907.6,494.9 909.6,493.8 905.1,489.4 908.9,489.6 907.5,487.9 903.3,513.3 904.2,518.3 911.7,513.3 913.3,514.2 925,511.7 924.2,521.7 937.8,513.3 922.8,489.2 932.5,494.2 943.2,497.6 944.3,498.9 947,500 942.9,502.5 944.3,504.4 943.8,501.1 943.5,503.8 945.8,500.3 944.8,497.3 947.8,500.9 947.5,499.1 948,499.6 945.1,504.4 943.7,500.9 935.8,499.2 936.7,502.5 951.7,503.3 958.3,495 962.5,501.7 921.4,459.4 923.6,457.2 925.6,455 930.2,462.8 915.5,454.8 920.4,465.4 913.8,464 913.1,455 916.8,455.8 927.4,464.9 921.7,456.7 916.9,466 920.6,470.1 914,454.4 926,468.7 920.3,461.9 918.2,460.1 912.9,461.7 918.8,461.8 929.2,430 931.7,436.7 921.7,443.3 915,447.5 941.7,431.7 943.3,436.7 942.5,444.2 938.3,448.3 946.7,449.2 945,457.5 943.3,466.7 944.2,471.7 941.7,475.8 936.7,480 937.5,481.7 948.3,485 956.7,422.5 957.5,426.7 952.5,430 968.3,435 958.3,442.5 964.2,440 971.7,443.3 976.7,444.2 980.8,443.3 980,455 958.3,451.7 958.3,456.7 960,461.7 966.7,463.3 957.5,468.3 962.5,470.8 964.2,475 961.7,476.7 970.8,484.2 1010,414.7 994.3,419.6 958.4,408.5 941.6,404.9 936.7,404.3 936.3,403.7 1016.4,415.6 1038.1,421.1 1007.4,416.5 930,399.4 1003.1,415.9 960.9,408.6 934,399 936.6,399.3 963.2,411.5 1007.9,414 1031.1,421.2 980.1,415.7 990.9,415.9 943.3,405.3 967.2,415 996.9,418.8 1023.5,416.6 973.5,416.1 941.7,402.2 940.1,404.9 997.9,416.1 1027.5,416.1 952,407.2 1016.2,414.8 1039.1,423.5" fill="none" stroke="none" marker-start="url(#m)" marker-mid="url(#m)" marker-end="url(#m)"/>
<path d="M1016.8,415.3 1012.1,415.2 1034.8,422 985.6,419.5 983,418.2 1003.6,418.5 1001.4,414.9 972.3,414.3 1038.7,420.9 961.6,408.6 933.7,399.9 975.2,416.2 933.5,403.1 1022.9,414.6 978.2,418.3 941.7,402.5 954.7,409.1 1011.9,416.7 969.5,411 940.8,402.9 940.3,402.3 1017.4,414.3 962.5,410.8 1021.8,418.7 1006,414.1 1019.5,417.3 979.1,415.6 1004.8,418.2 1037.3,423.3 955.6,407.4 1033.5,422.2 1004,414.4 942.9,405 1035.2,422.1 992.5,418.7 980.3,419.9 979.8,419.9 977.6,416.7 1038.5,422.9 979.2,414.8 976,414.7 975.3,413.4 974.6,415 1019.7,414.3 1011.7,415.6 996,419.4 1027.6,416.1 961,408.3 993.3,415.8 961,413 973.6,414.7 959,411.8 985.4,418.9 1025.4,415.4 931.3,401.9 1016.6,415.5 1018.7,415 940.6,401.9 1007.8,414 995.6,417.4 1031.5,420.9 969.3,411.4 989.3,419.3 933.7,400.6 945.7,404.7 1012.7,417.2 941.1,403 985.8,421.2 1027.9,419.8 946.2,407.4 1003.8,414.3 974.7,415.7 950.6,405.8 975.2,413.1 966.3,412.5 959.2,410.4 1028.4,418.2 971.3,415.4 1028.1,416.2 1020.5,417.8 1031.2,417.7 1029,417.7 968.5,412 1017,415 946.1,404.8 993.4,419.9 996.6,418.7 962.9,413.3 997.4,418.3 960.5,411 964.6,411.3 1033.7,419.9 950.4,407.2 954.2,409.9 952.4,409.3 991.7,433.4 989.3,425.8 994.3,428.6 996.6,435.8 991.7,423 1003.4,434 1004.1,437.5 1000.4,427.6 1001.5,424.9 990.4,429.5 1007.7,427.1 1006.3,430.5 1007.3,428.8 991.1,427.4 996.8,436.1 993.2,433.3 1008.5,431.8 1000.9,443.3 993,431.6 995.8,433.9 992.8,429.4 1003.3,431.8 989.6,437.4 1000.1,442.5 992.6,434.3 992.5,437.2 994.8,440.2 998.4,450.7 995.7,445.7 993.1,442 1001.1,451.3 993.5,440.2 994.5,443.2 997.4,447.1 1001.4,453.2 1001,451.3 994,443.3 937.5,419.2 945,415 1023.3,433.3 1025.8,435 1018.3,442.5 1011.7,451.7 997.5,460 1004.2,461.7 1011.7,466.7 1003.3,475.8 1004.2,477.5 1013.3,475 1018.3,480 1010,481.7 994.2,485 997.5,485 1009.2,490 1010.8,492.5 1010.8,498.3 997.5,499.2 1003.3,501.7 980,490 982.5,491.7 984.2,500 986.7,505 1035.8,453.3 1037.5,435 1038.3,440 1036.7,476.7 1035.8,481.7 1030,486.7 1031.7,494.2 1033.3,503.3 1030,510 1012.5,511.7 1031.7,520 976.3,505.8 971.5,512.6 966.5,510.9 975.4,511.2 975,506 971.2,508.4 967.8,509.3 970.5,504.4 967.9,505.4 975,506.8 966.2,508.1 971.5,512.7 971.7,504.9 968.2,505.9 967.3,506.6 977.1,506.9 965.7,516.2 959.1,517.6 963.3,512.9 956.9,514.9 957.7,514.2 957.5,512 964.8,516.5 962.1,514.2 962.2,512.3 956.7,513.3 960,520 950.8,518.3 952.5,524.2 945,521.7 965.8,523.3 974.2,515 980.8,515.8 981.7,523.3 984.2,526.7 988.3,525 988.3,535 962.5,530.8 964.2,535 964.2,535 962.6,531.6 963.3,531.5 965.3,533.2 1012.1,524.1 1007.2,520.4 1006.2,528.6 1010.2,527.4 1016.4,522.3 1007.1,521.7 1011.7,519.5 1014.7,522.3 1006,526 1015.9,520.5 1008.8,522.6 1012.6,526.4 1009.2,519.7 1006.9,526.6 1017.2,523.9 1007.4,529.2 997.5,527.5 1000.8,518.3 1003.3,536.7 1007.5,538.3 1016.7,531.7 1018.3,541.7 1011.7,543.3 1001.7,549.2 1011.7,550 1021.7,545 1026.7,551.7 1033.3,550 1030,541.7 1036.7,536.7 1035,528.3 1030,531.7 1040,541.7 872.5,525.8 854.2,527.5 857.5,531.7 864.2,530.8 860.8,535 852.5,536.7 851.7,543.3 861.7,543.3 862.5,550 884.2,526.7 892.5,525 897.5,528.3 896.7,533.3 898.3,537.5 913.3,533.3 908.3,537.5 922.5,537.5 916.7,541.7 903.3,542.5 891.7,545 882.5,543.3 881.7,546.7 885,547.5 911.7,550 910.8,555 900,560 885.8,558.3 936.7,527.5 940,539.2 938.3,545 935,550 930,551.7 938.3,555 943.3,553.3 941.7,558.3 959.2,543.3 973.3,549.2 964.2,553.3 960.8,557.5 950,560 988.3,555 990,557.5 986.7,559.2 950.3,433.1 983.8,430.4 973.4,432.8 1003.8,428.4 991.7,420.2 1017.2,423.8 1021.1,430.7 1043.2,432.6 933.6,440.3 942.9,457.4 948.8,450.1 971,455.6 975.3,447.6 1006.7,463.6 994.3,454.9 1010.6,446.5 1021.8,461 1051.5,453.8 1051.9,462.3 1065.3,441.1 1075,452.4 925.3,484.7 937.6,472.5 939.7,471.2 978.6,464.4 984.8,464.4 1005.8,466.2 1027.4,465.2 1027.8,472.4 1050.9,475.4 1046.6,474.2 1070.2,478.8 1057.7,475.5 1089.4,478.7 1086.5,472.3 1121.2,483.1 1127.8,475.1 1136.7,478.9 943.5,502.7 962.8,510.8 968,500.3 990.9,498.7 1021.6,490.2 1025.4,499 1041.1,510.4 1049,510 1058.9,489.3 1061,509.4 1096.5,488.8 1080.1,511 1125.1,494.4 1107.3,507.6 1134.2,504.8 1142.9,489.1 951.3,519.4 979.1,515.1 994.2,519.8 999.8,532.5 1023.2,524.9 1038.9,528.9 1036.2,534.3 1073.8,523.3 1070.3,522.9 1081.9,524.2 1089.9,533.1 1124.8,534.7 1127,518.7 1131.7,531.1 1145.1,517.5 1010.9,583 1010.4,586.3 1005.7,586.6 1004.9,586.2 1023.4,567.5 1012.1,584.8 1025.9,573 1016.2,574.4 1008.8,576 1014.3,575.6 1006.1,578.5 1004,586.9 1019.1,577.4 1025,572.8 1014.3,574.9 1025.2,569.2 1002.6,583.6 1003.3,583.6 1014.5,576 1023.9,565.1 1018.4,578.9 1003.8,584.2 1012,582.1 1025.9,568 1022,570.9 1010,582.4 1003.8,582.3 1011.5,600 1003.6,596 1002.9,594.2 1003.3,590.9 1009.1,601.3 1002.6,590.3 1003.4,591.4 1004.4,601.8 1005.2,598.5 1003.9,594.9 1006.3,595.5 941.6,609.4 953.3,606.9 940.6,604.9 944,602.7 937.9,607.2 946.6,607.2" fill="none" stroke="none" marker-start="url(#m)" marker-mid="url(#m)" marker-end="url(#m)"/>
<path d="M947.1,604.4 944.3,603.7 946.1,602.3 948.4,607.4 942.2,607.1 951.2,606.8 952.9,609 945.8,606 943.5,636.6 950.9,613.8 943.9,619.3 949.7,615.3 945.8,641.1 949.5,633.3 947.5,615.3 946.6,632.4 943.2,645.8 944,641.3 945.3,624.6 942.5,619.5 945,626.7 943.4,641.7 950.7,616 945.9,622.4 948.3,623.7 948.9,642.7 946.6,618.4 943.4,614.6 941.9,636.1 946,622.3 942.7,631.1 944.7,627.6 945.6,651.6 944.6,613.3 944.8,621.5 941.3,652.9 950.3,616.3 946.5,650.3 946.1,622.1 945.4,621.4 943.7,619.6 942.1,648.7 947.5,651.2 946.8,625 946.4,613.1 943.1,616.5 948.9,617.2 944.3,618.5 947.6,632.2 945,634.6 948.7,648.4 948,633.8 942.3,617.2 947.9,644 948.3,645.1 948.6,617.7 941.5,650.7 947.5,641.7 944.9,627.5 944.5,637.8 933.8,635.7 947.7,632.1 939.9,639.1 939,631.2 935.7,634.9 945.9,628.4 944.3,634.3 946.8,631.4 936.1,633 942.7,630.3 935.6,634.9 934,627.4 983.7,643.4 984.1,645.1 975.3,638.8 986.1,646.5 972.8,641 977.6,640.4 970.7,641.8 974.4,638.4 976.8,640.4 987.3,643.5 968.8,642.9 979,640.4 985.5,644.2 976.6,641.3 982,639.2 987.9,646 837.3,675.8 843.2,680.3 841.2,675 837,681.5 847.1,683.9 848.1,693.8 838.1,678.2 842.6,669.2 847.9,680.4 852,680 843.8,682 842.2,676.3 850,683.5 845.7,679.2 836.6,680.2 836.3,679.8 845.9,679.2 846.5,692.5 848.3,689 842.1,679.3 840.7,691.4 849.6,680.3 847.2,683.6 850.9,684.4 842.4,673.5 836.9,673.9 844.8,691.1 846.6,711.9 839.6,699.3 836.7,709.8 845.2,704.5 838.3,716.9 835.8,712.7 842.9,716.4 836.9,704.4 840.1,710.8 843.7,693.4 837.6,709.5 842.1,701.6 838.6,715.4 842.5,716.5 847.8,700.3 849.8,713.5 838,714.1 841.5,700.3 837,699.4 836.2,715.5 850.1,703 837,715.7 835.8,721.2 845.3,698.9 840.4,726.4 843.4,725.5 841,698.7 838.3,718 835.2,718.6 839,724.3 843.6,704.4 845.2,696.1 845.4,705.4 848.3,720.9 845.2,707.3 840.7,704.3 837.2,712.3 838.4,718.6 835.7,722.8 846.4,713.4 829.2,751.3 826,742.3 834.4,744.9 832.5,745.3 825.6,741.8 823.6,741.3 829.3,744.7 832.5,745.6 830.4,740.6 822.1,748.9 835.5,743.9 832.5,740.8 823.7,747 832.7,747.9 833.8,745.4 827.5,745.5 867.4,747.5 866.4,746.3 872.3,747 865.9,746.7 872.4,748.2 869.7,749.9 864.6,761.9 858,770.7 861.2,760.5 850.6,761 862.1,756.6 861.5,761.1 861.6,764.4 847.2,761.3 846.1,762.8 851.4,767.7 846.5,764.4 849.8,760.9 849.1,769.1 854.8,763.8 865.7,758.6 855.9,758.6 854.5,761 860.4,767.2 857.1,769 854.5,757.4 847.3,766.6 853.9,765.9 861.6,758.9 864.8,766.6 866,766.2 900.7,724.6 905.5,717.4 908.6,721.5 906.4,727.9 909.8,721 907.8,726.3 905.6,726.7 907.5,720.6 910,721.7 902.9,720.9 899.8,725.5 901.6,717.5 905.9,716.5 914.4,733.1 911.6,728 911.5,743.3 911.9,730.3 912.8,732.4 912.5,736.9 913.3,736.3 908.9,743.5 917.1,741.4 915.9,740.7 907.4,726.1 908,728.1 918.7,736.4 905.8,747 912.8,735.3 909.2,728.9 916.4,741.9 911.4,728 906.3,744.8 906.3,745.2 914.5,740.5 913.4,734.6 905.6,755.3 901.2,750.7 906.1,745.2 905.1,755.5 906.1,747.2 903,750.7 901.4,746.1 906.4,746.9 906.1,746.3 901.8,744.2 940.6,748.4 942.6,738.8 947.5,733.2 945,749.5 947.3,750.3 944.6,732.3 945.1,745.8 941.5,739.5 944.9,752.5 942.7,736.1 944.3,736.8 945.2,737.6 941.1,737.2 940.9,749 949.4,740.9 945.8,746.9 946.2,735.2 942.1,747.2 946,688.3 945.7,689.7 946.3,687.6 947.7,681.7 948.5,690.5 945.7,682 947.6,683.6 903.6,699.4 906.2,692.7 901.9,696.9 908.2,697.1 902.5,694 906.6,694.6 907,694.7 906.5,696.4 909,699.2 971.4,761.2 981.2,764.5 973.9,782.6 976.8,782.9 971.8,785.8 975.7,762.4 978.8,770.6 981,768 978.5,764.3 968.8,772.4 981.2,767.4 974.6,782.1 960.8,781.6 970.8,775.3 985.3,773 977.7,782.5 982.1,781 965.7,776.7 961.4,765.6 968.6,770.5 966.4,767 982.8,765.8 976.2,763.9 974.7,766.2 962.4,763.5 980.6,781.6 968.8,771.7 974.4,762.5 974.7,786 968.3,762.3 965.9,773.4 969.4,784.8 977.7,768.4 974.1,769.3 965.8,783.5 970,768.2 983.4,771.3 976.9,761.3 977.6,764.8 968.1,780.8 1013.9,771.2 1017.2,769.7 997.9,768.6 1009.8,767.5 1007.2,766.9 997.9,768.7 1015.9,770.6 1004.3,767.5 1002.8,767.7 1018.1,767 1001.5,767.7 1004.7,769.2 1002.1,766.6 1017.3,768.3 1001.5,768.5 996.7,767.6 991.8,770.3 1010.7,768.5 918,782.4 913.6,778.3 921.7,779.9 921.2,787.1 912,784.9 916.3,778.2 913.3,783.9 921.3,780.5 915.6,787.4 914.5,780.4 910.1,784.8 913.3,779.6 914.3,780.2 924.5,782.1 933.3,755.5 934.4,761.4 928.7,766 925.7,756.1 923.8,756 926.2,759.7 934.1,759.6 926.3,756.3 936.7,758.5 937.1,759.6 927.9,758.3 892,767.4 888.4,766.6 886.3,761.5 884.7,763.8 887.3,767.1 888.4,763.6 888.9,761.2 801.7,757.5 806.9,739.4 800.4,750.7 800.7,740.1 803,743.8 807.8,741.2 800.3,751.1 801.1,749.3 799.3,746.2 809.8,741.4 804.7,747.3 805.5,747 807.9,743.4 801.2,749.6 837.5,766.1 840.5,771.2 841.6,773.3 830.8,771.5 839.9,778.2 835.7,776.8 842.7,774.6 842.8,776.1 832.6,767.9 833.5,779.9 841.8,769.2 858.3,791 855.8,785 857.3,788.5 854.1,786" fill="none" stroke="none" marker-start="url(#m)" marker-mid="url(#m)" marker-end="url(#m)"/>
<path d="M858.8,789.4 859.7,786.7 855.5,786.1 818.8,792.4 821,788.4 820.5,788.6 818.8,790.4 819.9,785.6 911,597.9 912.1,593.4 910.4,599.8 910.1,596.7 906.5,589.6 901.6,594.8 911.7,597.1 903.8,596 906.1,591.9 906.5,598.6 901.2,593.4 881.6,585.9 879.4,589.4 885.3,588.5 880.6,591.5 1020.3,679.8 1018.8,679.8 1019.2,684.9 1022.4,685.1 1014,615.2 1010,615.1 1009.4,614.3 1012.6,616.1 890,666.1 884.2,668.4 889.3,669.7 889.8,663.2 892.7,669.3 888.1,669.3 891.1,665 890.1,664 929,681.4 926.9,686.4 924.5,684.7 928,678.9 930,683.8 919.6,683 821.7,562.6 819,569.9 805.8,582.4 851.3,573.2 885.1,581.9 885.9,580.4 879.8,572.5 881.3,575.2 888.1,567.4 914.2,566.3 903,576.9 917.7,564.5 912.2,565.1 896.3,562 899.8,583.9 919.2,564.1 906.6,579.2 915.1,581.6 929,574.8 929.7,566.4 929.1,568.5 941.9,577.1 928.6,573 959.2,579.6 953,567.4 960,560.8 951.7,565.2 955.9,569.8 949.4,564.7 959.8,573.5 945.7,581.8 975.4,564.5 981.8,563.1 970.1,561.2 980.5,561.5 982.1,574.8 983.8,573.3 971.7,583.3 980.9,560.6 993.4,568 1002.9,579.5 1006.6,579 998.9,580.8 1035.6,566.2 1023.6,562.3 1035.8,576.4 808.7,595.4 818.3,599.4 801.3,591.6 820.8,600.8 850.6,596.3 858.5,596.4 870.3,602.3 856.2,598.9 864.2,591.7 860.6,602.7 880,592.8 887.5,594.8 872.1,590.2 895.4,598.1 880.2,587.4 896.5,598.3 907.4,598.1 903.9,605.7 923,588.7 929.7,603.8 924,586.5 925.3,594.2 940.1,589.7 935.6,594 955.4,589.1 953.9,590.7 954.6,586.2 958.1,599.8 967.8,585.7 956.2,597.8 961,584.1 944.6,596.1 957.4,596.6 969.7,589 976.8,591.6 991.5,604.4 986.3,599.3 987.7,603.1 974.9,592.9 986.7,607.9 984.8,607.1 985.2,600 1015.1,597.1 1001.9,589.8 1001.5,585.8 1032.5,607.9 820.2,628 903.4,616.2 909.5,626.6 899.8,624.6 918,616 900.5,623.2 900,612 929.1,627.7 932.6,608 933.1,615.4 923.7,611.2 934.8,614.3 924.5,626 949,609.8 951,619.8 952.3,626.3 968.1,608 975.5,627.4 987.3,616 991.1,620.7 983.3,624.9 1009.3,611.7 995.8,616.4 1000.7,631.8 1002.1,614 1021.8,622.3 1016.5,614.2 1036.1,610.3 1036.9,617.2 1033.9,621.1 1016.5,630.7 802.7,641.2 822,642.6 818.9,639.8 807.4,633.5 805.3,654.9 849.8,647.9 915.2,646 905,641.9 902.6,643.7 935.6,644.9 922.7,633.3 925.1,645.5 963.3,637.2 967.1,633.4 979.5,652.5 969.9,650.9 985.8,644.9 1008,645.8 999.7,652.2 998,645.1 992,636.4 997.1,654 995.5,651 996.6,645.7 1034,653.1 1017.7,639.6 1030.2,651.9 1032.6,654.9 1027.1,651.2 1024.8,655.7 821.5,660.5 813.7,677.6 817.9,678.2 841.5,679.4 841.3,675 824.6,678.4 846.1,665.9 826,667 832.3,660.9 886.6,679.2 876.9,677.4 887.5,662.3 895.6,670.2 897.4,670 919.6,657.2 897.3,673.2 910.9,675.7 897.2,668.9 906,661.6 918,677.4 911.7,675.8 933.2,679 921.4,677.4 929.9,662.9 932.4,677.5 935.5,673.6 936.3,664.2 938.9,670.2 948.1,658.6 954.4,659.8 957.7,658.7 962.3,676.8 963.4,662.6 960.6,664.6 971.5,675 978.5,660.8 974.7,661.1 980.1,676.4 992,668.4 1011.3,675.4 994.4,672.4 1029.6,658.6 1037.6,668.5 1028.3,661.3 1022.6,670.2 815.9,698.1 823.4,697.4 811.8,698.1 808.8,702.9 830.6,701.9 839.7,683.7 831.6,687.1 824.6,680.8 846.2,694.4 827.2,691.6 852.1,686.4 859.9,690 871.8,688.9 862.6,682.6 893.2,685.7 872.2,698.1 895.1,687.7 879.1,692 884.1,689.2 888.2,699.7 872.1,689.8 884.1,699.8 919.3,687.9 898.2,689.2 897.6,688 896.7,687.8 905.6,695.7 917.6,693.5 915.6,685.2 900.1,699.8 930.5,698.5 921.3,700.4 926.4,690.7 922.1,700.7 940.4,681.7 934.6,685.3 957.3,703 955,682.7 954.5,693.5 944.2,702.2 962.5,694.1 950.7,689.5 952.9,702.4 949.1,699.3 973.8,702.9 988.9,695.7 989.6,691.4 971.3,689 976.4,702.7 981.2,695.8 801.9,705.7 808.4,711 812.6,726.6 818.6,720.7 835.4,716.6 844.3,723.1 832.1,706 832.1,714.7 847.8,708.4 825.2,717.5 862,710.6 865.4,713.9 854.4,720.7 855.9,713.1 915.5,714.7 917.3,709.2 924.3,709.4 924.4,717.2 939.3,707.5 931.4,726 933,725.9 938.2,704.1 927.4,724.7 929.2,724.1 945,709.3 947.1,714.8 963.5,716.2 944.2,723.7 944.2,725.5 959.6,713.6 974.7,713.4 980.3,727.6 973.8,723.8 989.2,719.2 1007,724.9 994.8,713.9 1038.2,708.9 1030.9,715.5 812,740.4 802.2,744.9 813.9,744 805.6,728.6 813,751.8 814,733.5 824.8,730.8 826.4,732.4 846.2,742 840.2,737.5 825.9,743.4 831.7,732.9 869.6,745.8 856.9,733.2 871.5,751.1 861.1,737.8 867.8,741.7 856.3,751.3 878.3,751.5 892.4,751.7 903.4,747.2 900.5,732.3 927.2,735.9 940.2,743.2 920.4,747.7 923.9,746.8 926,751 935.4,742.8 926.7,748.4 921.8,747.8 953.8,737.7 944.6,739.8 955.4,736.9 948.8,742 973.2,733.5 972.1,728.6 985.2,732.4 984.3,737 1033.4,735.8 1029.5,730 1038.8,739 1035.3,733.3 805.6,768.4 821.5,767.2 802.6,772.9 818.8,768.3 814.9,753.3 807.2,760 843.3,755.1 830.3,756.2 828.1,773 824.9,753.1 842.5,759.2 831,755.9 850.7,762.3 863.3,752 875.2,752.9 891,752.6 876.4,774.9 873.1,762.5 888.9,765.6 895.3,762.3 893.2,758.3 881.3,775.9 910.4,772.3 917,774 896.6,760.7 918.5,760.8 901.5,757.9" fill="none" stroke="none" marker-start="url(#m)" marker-mid="url(#m)" marker-end="url(#m)"/>
<path d="M916.2,765.6 905.2,756.6 902.4,758 921.3,764.9 934.3,770 933.1,770.3 924.1,772 925.1,760.3 934.5,754.5 963.5,769.2 951.9,756.4 948.6,757.4 959.1,757.7 957.6,770.5 965.2,769.9 985.4,774.8 983.7,754 980.8,763.4 968.4,759 1003.3,774.1 1012.5,763.4 1004.9,756.4 1007.7,755.5 1027.5,768.7 1033,774.1 1037.4,772.2 1019.5,762.7 810.1,776 814.1,778.6 800.6,780.1 805.5,781.3 809.7,793.9 814.5,785.6 809.1,787 808.3,797.3 841.9,789.3 834.5,790.2 842.7,787.4 839.9,782.8 840.2,781.5 830.8,798.4 840.6,791.4 831.2,789.8 853.2,791.4 851.2,776.7 863.9,784.6 856.2,791.2 869.1,791.7 851,794.3 894.3,778.5 880.5,778 879.2,787.1 882.7,784.3 889.7,798.4 885.8,787 891.2,790.7 886.7,782.1 912.6,779 910.1,790.5 909.7,792.8 918.3,798.7 918.5,796 899.8,793.2 932.6,786.8 929.1,785 929.7,780.9 939.4,790 943.3,788.3 943.1,798.9 922.4,788.7 935.1,797.9 962.3,782 952.5,785.7 958.3,782.3 947.9,776.6 948,796.9 964.5,783.4 977.7,789.5 973.7,777 981.4,799.1 987.9,790.7 970.9,786 979.9,799.7 1009.1,787.3 1009.9,780.3 1015.5,798.7 1008.2,785.8 1016.2,781.8 1030.8,795.8 1022.7,792.7 1037.8,795.1 1028.3,795.2 1037,787 808.2,748.9 823,740.2 815,744.3 833,750.2 842.3,746.3 840.5,741.2 855.6,743.4 860.6,748.4 854.9,746.7 881.1,756.4 888.8,759.6 816.4,776.3 808.1,786.8 801.9,766.5 833.6,785.3 846.5,780.4 846.4,769.7 856.1,777.2 869.2,767.9 873.9,766.9 880.3,776.1 820,788.3 818.5,795.1 808.6,807.5 835.1,791.7 841.9,805.6 867.1,791.6 851.7,792.1 858,810.4 882.5,800.9 892.4,792.9 880,791.5 817.9,824 808.6,826.1 832.6,828.5 825.6,814.4 872,815.8 858.2,821.9 888.5,829.5 892.2,817 930.9,882.8 929.7,869.1 933,884.7 926.9,897.1 928.9,888.6 924.6,873.8 926.4,878.4 929.8,878.7 923.8,894.6 924.4,892.7 924.4,887.1 927.1,884.8 929.1,877.5 928.5,892.2 932.3,889.6 925.7,881.2 928.7,877.4 928.1,896.2 931.9,884.7 928,888.3 927.2,875.9 926.1,882.5 931.5,881.9 924.4,897.5 929.1,884.7 922.9,872.8 925.8,881 927,883.3 929.3,871.7 925.7,886.9 932,886.2 926.8,891.8 929.9,890 929.7,873.8 927.8,895.8 923.7,894 931.3,886.6 922.9,898 926.1,878.6 932.1,877.3 930.1,879.1 924.9,886.8 931.3,892 923.2,894.9 926.3,871.3 933.1,879.7 927.4,877.1 926.4,873.3 924.5,882.3 928,878.1 927.5,897.8 923.2,877 929.6,877.2 923.1,890.4 928.1,884.3 931.3,884.7 927.9,878.5 970.6,925.5 968.2,947.8 929.9,945.2 956.5,913.9 982.7,925.2 970.7,904.7 923.3,952.7 980.2,912.4 980.5,908.7 952.9,936.8 952.6,921.4 961.4,945.7 934.4,938.9 965.1,901.1 960.3,934.1 958.8,908.6 952.4,915.3 976.8,908.1 940.6,950.8 974.2,934.1 955.1,908.1 988.3,932.1 982.3,932 966.2,904.7 965.8,922.4 958.8,918.8 967.4,935.2 977,912.7 948.9,929.6 923.6,940.7 939.3,932.3 982,914.3 971.2,911.6 974,918 940.8,942.3 982.6,905.9 987.4,926.5 939.9,950.8 982,923.1 949.3,941.6 953.8,921.4 950.2,916.5 984.8,908.3 962,926.8 961.9,951.5 939.8,931.6 963.4,944.1 970.1,950.5 976.1,925.9 939.8,944.3 948.6,923.4 978.4,926.7 974.3,928.7 979.8,920 956.6,927.4 924.8,942.4 982.7,924.3 969.6,900.2 942.8,932.9 965.5,952 946.1,935.8 941.4,939.9 962.4,920.1 953.2,950.8 970.2,917.1 957.7,954.2 960.1,922.5 933.2,953.3 965.5,942.9 960.4,912.5 938.8,954.7 945.1,941.7 924.5,935.9 968.7,938.4 960.8,915.6 960.5,940.6 956.6,934 975,937.5 964.2,902.1 926,936.8 929.2,956.4 978.3,914.4 954.3,928.7 962.7,925 936.6,935.1 964.2,947.5 966.3,940.3 950.3,942.4 939.4,943.1 969,919.2 956.2,907.2 982.2,916.4 985.3,910 967.4,936.5 923.4,941.3 955.8,910.2 963.5,926.7 974.3,922.6 948.4,933.1 962.2,917.4 949.6,945.1 951.3,927.6 962.3,917.6 967.4,948.2 990.4,911.7 950,935.9 979,918.1 939.2,952.2 969.8,903.9 988.4,921.6 927.8,957.3 946.1,942.3 968.6,902.4 990.9,915.4 964.5,918.6 925.6,951.6 937.6,946.5 956.2,954.8 923.9,957.5 935.2,938.1 960.3,918.6 952.2,945.8 992.2,914.3 961.1,952.5 966.1,905.6 962.5,914.4 978,918.7 960.4,938.4 959.7,904.5 974.7,906.8 965.7,953.8 965.5,922.3 957.5,949.3 982.2,930.2 965.9,914.7 992.2,925.3 959.7,924.7 936.3,952.4 976.3,921.2 964.9,951.7 969.9,903.8 964.6,906.9 964.9,935.9 973.5,913.5 962.6,923.8 936.3,947.9 945.7,948.4 961.7,908.1 925.4,953.2 982.6,930.2 985.1,909.6 961.8,946.3 958,912.5 964.5,920.8 947.1,928.4 986,932.9 932.2,949.2 969,928.2 958,941.5 958.6,926.5 928.8,952.1 939.7,947.9 965.8,924 942,951.9 979.4,915.9 981.5,919.6 955.1,911.8 975.9,903.4 978.8,909.5 936.9,934.6 980.1,928 989.1,914.4 963.9,910.4 961.4,940.6 979.9,919.4 948.1,926.3 936.5,941.7 959.4,941.7 966.8,950.1 924.3,952.9 982.8,924.1 977.7,926.2 930.4,954.2 977.5,922.3 948.9,951.5 979.8,934.1 975.5,912.8 957.6,924.1 954.3,912.1 962.7,917.5 929.8,937.3 956.3,916.8 937.7,937.8 991.1,920.1 971.2,930.5 985.4,924.2 971.5,934.3 965.6,937.2 965,910.3 967,932.8 931.1,938.7 953.8,944.8 972.7,941.4 957.1,904.4 929.7,938.5 960,951.9 970.5,898.8 964.8,922.1 973.5,903.3 963.1,941.9" fill="none" stroke="none" marker-start="url(#m)" marker-mid="url(#m)" marker-end="url(#m)"/>
<path d="M957,905.4 986.9,918.8 990.1,920.9 923.8,955 972.7,933 961.2,905.5 981.5,921.3 961.9,934.1 977.5,925.7 925.8,949.7 960.6,939.5 975.8,932.8 957.8,932.2 930.2,944.9 923.5,941.4 950.4,931.4 974.3,915 976.9,910.3 958.6,930.8 950,929.9 981.9,931.5 952,935.1 967.4,902.6 936.3,936.5 951.5,946.9 971.5,919 986.2,925.5 977.1,927.5 967.5,943.4 987.2,914.4 927.4,957 978.1,915.2 954.4,926.9 940.1,935.2 979.9,933 987,920.1 964.2,909.8 968.4,930.3 985.4,911 936.2,948.3 954.7,908.9 975.7,905.7 929.6,953 941.9,947.6 947.8,936.7 972.2,912.7 980.3,925.4 964.1,932.1 968.6,933.9 980.8,928.1 981.6,934.5 967.5,919.8 992.5,919 973.8,904.9 962,928.6 954.4,953 976.8,915.2 961.6,940.3 949.1,943.6 926.2,949.2 976.6,922.8 971.3,903.9 986.4,919.4 990.4,918.8 954.4,942.3 937.3,935.8 979.3,933.6 924.3,937.1 927.6,948.9 932,948.1 986.8,916.7 961.9,905.7 982.5,908.8 960.4,953.7 961.3,921.2 966,903.2 977,927.2 970.5,909.1 969.8,925.1 965.1,912.8 949,944.1 959,911.1 949.4,940.6 963.3,901.2 965,915.9 961.5,902.2 970.9,925.2 929.4,947.3 944.7,948.8 966.1,916.7 976.7,932.9 966.6,939.3 952,938.7 955.8,925.3 979.7,936 946,949.4 986.7,910.7 969.9,928.7 962.8,907 945.4,929 961.8,913.2 929.4,952.6 991,917.8 970.2,905.3 950.6,939.9 948.6,924.2 991.7,922.4 964.1,914.6 933.7,945.8 966.7,950.4 969.7,917.8 984.1,930.7 961.4,916.9 966.1,933.8 961.3,948.3 952.3,927.4 943.2,927 982.7,932.8 933.9,935.9 970.4,900 968.4,898.9 953.9,943.3 924.5,936.9 957.8,937.7 949.6,935 992.7,927.4 946.5,952.3 946.9,944.8 956,917.3 961.5,947.7 958,918.7 971.5,942.6 975.4,922.4 945,945.1 1018.3,853.8 1020,853 1015.5,860.6 1020.5,860.5 1017.7,852.4 1028.2,856.3 1022.2,846 1017.6,857.8 1020.8,849.7 1023,864.2 1018.4,865.7 1020.6,851.3 1017.7,848.3 1016.8,864.6 1017,853 1021.4,858.5 1015.3,852.2 1016.9,852.7 1007.4,879 1010.8,876.7 1012,881.1 1013.7,876.9 1008.1,879.9 1011.7,878 1027.9,823.5 1026.1,839.3 1025.9,836 1025.7,836.5 1027.1,844.2 1026.7,841.9 1024.3,826.1 1030.3,823.5 1032.8,821.2 1025.9,830.4 1026.5,827.6 1036.8,812.5 1029.8,825.5 1036.6,810.1 1011.9,817.2 1004.7,814.8 1005.1,814.7 1005.5,813.9 922,811.8 925,822.4 943.1,822.7 926.4,812.4 934.7,820.2 936.3,809.9 934.4,809.4 939.3,821.8 933.6,805.6 963.6,821.9 955.8,816.3 947.6,819.9 966.6,801.7 953.5,811.3 950,820.2 945.5,821 956.4,807 944.9,810.9 964.7,806.4 954.9,822.7 967.1,819.7 962.4,819.6 991.5,821.5 986.5,803.5 968.4,820 972.9,801.3 970.6,814.7 984.7,800.6 986.1,805.2 989.2,807.9 982.8,821.8 982.2,807.9 969.6,815.1 990.3,807.7 983.5,806.6 985.2,812.7 986.8,804.9 979.8,803.6 981.8,800.9 993.8,818.8 1000.4,810.7 993.2,804.5 1014.4,804.5 1009.1,817.6 999.1,815.6 1039.2,803.1 1023.8,812.1 925.2,834.8 938.5,828.5 920.8,827.7 931.9,835.2 943,824.9 932.2,826.3 925.6,829.4 933.6,836.5 941.7,829.9 935.6,840.8 934.2,842.5 926.5,828.4 923.3,824.5 943.5,827.9 931.7,837.8 965.2,830 965.3,841.5 958.2,838.8 945.6,840.7 945.4,824.5 966.4,836.6 944.4,830.2 954.4,830.1 952.4,835.1 953.5,832 944.6,837.8 958.4,835 991.9,836.9 980.9,839.6 988.2,844.2 978.8,825.6 978.1,827.4 970.7,827.4 971.3,838.3 982.2,844.1 978.5,824.8 986.6,835.3 976.4,845.6 972.6,825.6 988.9,847 993.1,830.4 1006.7,841.7 1007.1,839.2 1010.7,846.1 1005.2,836.6 1004,834.8 1007.7,828.6 992.7,846.8 1004,843.9 1011.7,828.2 1012.8,833.2 1027.6,833.9 1028.3,835.1 1022.9,825.8 938.1,849.6 931.8,860.4 936.3,852.2 942.3,864.8 923.3,871.9 932.6,865.9 936.7,858.6 944.8,867.8 960.1,849.8 959,865.8 948.5,868.5 960.5,855.9 957,865.8 964.2,868 951,861 966.4,866.3 948.3,851.3 966.4,848.3 947.2,848.8 958.8,848.8 990.2,854.1 978.7,856.1 986.5,848.6 978.2,849.2 991.1,870.4 988.9,858.8 990.5,866.2 972.1,858.2 980.1,851.5 982.8,865.5 969.9,862.3 986.1,869.1 1009,850.6 1008,863.4 1000.7,852.5 1000.8,850.2 1007.7,860.6 1015.5,854.5 999.8,851.9 1014,858.8 1010.9,848.6 1013.1,867.7 1004.3,853.9 1006.1,871.6 996.5,860.2 1015.3,865.9 992.4,851 1002.9,854.9 998.2,861.2 1020.2,853 1017.9,862.8 1023.6,860.3 940.6,877.6 937.1,874.9 943.9,881.4 931.1,881.8 950.8,884.6 957.6,874.8 953.9,892.3 953.6,886.4 944,887.1 945.8,880.6 966.6,883.3 950.4,890.6 954.6,882 949.7,878.4 947,884.3 954,883.9 953.1,886.4 951.2,876.2 956.6,879.5 981.7,882.7 977.3,876 988.9,894.9 971.4,891 990,876.5 987.8,889.2 979.6,886.7 976.7,880.7 984.2,892.8 975.2,875.9 979.8,888.3 973.3,874 969.3,878.9 984.1,887.7 990.5,876.6 971.5,888.1 999,872.6 1005.2,884.6 1003.6,879.3 1005.4,885.7 1007.5,875.1 1003.6,891.5 995.2,888.6 1015.3,873.5 997.4,890.1 1005,884.8 1011.6,879.4 1005.3,894 1015.3,880.9 1003.4,874.6 1004.8,888.8 939.1,914.6 936.6,912.6 923.3,917.4 936.5,919.5 921.7,917.7 929.3,896.8 937.9,911.2 920.9,903.6 932,918.9 926.9,896.6 943.6,900 939.4,897.5 932.2,910.8 934,919.6 926.3,902.9 933.3,900.2 937.2,912.8 950.5,903.8 956.1,906.7 945.4,900.4 962.7,918.8" fill="none" stroke="none" marker-start="url(#m)" marker-mid="url(#m)" marker-end="url(#m)"/>
<path d="M948.2,906.8 954.7,905.2 957.5,896 967.7,919.9 958.1,911.9 955.6,901.2 964.6,900.1 944.7,918.8 962.2,897.4 975.5,912.6 971.4,917 978.6,909.3 980.8,897.3 979.6,908.8 997.8,899.3 925.1,938.8 938.2,941.7 939.1,930.3 921.5,921.6 936.3,943 940.1,928.5 940.4,938.6 935.2,940.5 925.4,935.7 938.6,932.4 939.4,936.5 925.9,935.9 937.8,935.3 926.3,921.4 930.9,937.8 938.1,942.1" fill="none" stroke="none" marker-start="url(#m)" marker-mid="url(#m)" marker-end="url(#m)"/>

</g>
<!-- scale bar -->
<g>
<rect x="1082" y="1303.8" width="244.3" height="21.8" fill="#fff" stroke="#000" stroke-width="1.6"/>
<rect x="1081.3" y="1303" width="50.1" height="23.3" fill="#000"/>
<rect x="1179.4" y="1303" width="49.5" height="23.3" fill="#000"/>
<rect x="1276.1" y="1303" width="50.3" height="23.3" fill="#000"/>
<text x="1066" y="1325.8" font-size="29" text-anchor="end">1000 km</text>
</g>
<g font-size="36.8" text-anchor="middle">
<text x="233.9" y="1435.6">70°W</text>
<text x="495.3" y="1435.6">60°W</text>
<text x="756.8" y="1435.6">50°W</text>
<text x="1018.1999999999999" y="1435.6">40°W</text>
<text x="1279.6499999999999" y="1435.6">30°W</text>
<text transform="translate(31 335.8) rotate(-90)">0°</text>
<text transform="translate(31 605.5) rotate(-90)">10°S</text>
<text transform="translate(31 875.2) rotate(-90)">20°S</text>
<text transform="translate(31 1144.9) rotate(-90)">30°S</text>
</g>
<text x="720.4" y="56.4" font-size="43.08" font-weight="bold" text-anchor="middle">Samples for modeling the whole-soil particle size distribution</text>
</svg>
</body></html>
